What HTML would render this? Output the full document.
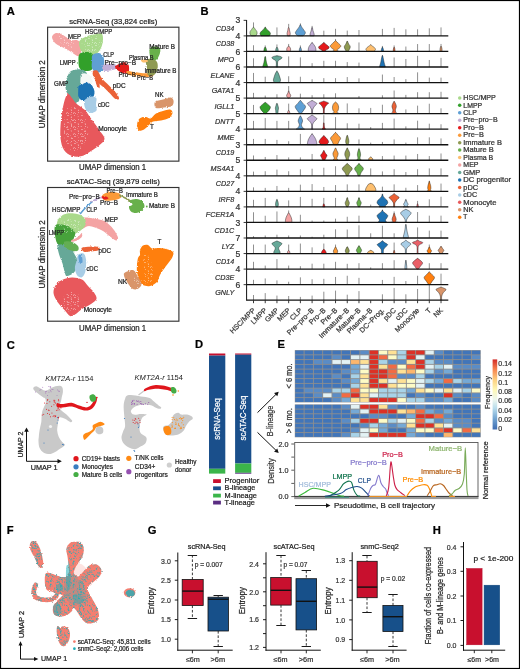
<!DOCTYPE html>
<html><head><meta charset="utf-8"><title>Figure</title>
<style>
html,body{margin:0;padding:0;background:#fff;}
body{width:520px;height:669px;overflow:hidden;}
svg{display:block;font-family:"Liberation Sans",sans-serif;will-change:transform;}
</style></head>
<body>
<svg width="520" height="669" viewBox="0 0 520 669">
<rect x="0" y="0" width="520" height="669" fill="#fff"/>
<text x="6.80" y="15.20" font-size="11.2" font-weight="bold" fill="#000" stroke="#000" stroke-width="0.22">A</text>
<text x="200.50" y="15.20" font-size="11.2" font-weight="bold" fill="#000" stroke="#000" stroke-width="0.22">B</text>
<text x="6.80" y="348.60" font-size="11.2" font-weight="bold" fill="#000" stroke="#000" stroke-width="0.22">C</text>
<text x="195.00" y="348.40" font-size="11.2" font-weight="bold" fill="#000" stroke="#000" stroke-width="0.22">D</text>
<text x="277.60" y="348.20" font-size="11.2" font-weight="bold" fill="#000" stroke="#000" stroke-width="0.22">E</text>
<text x="6.80" y="533.80" font-size="11.2" font-weight="bold" fill="#000" stroke="#000" stroke-width="0.22">F</text>
<text x="147.80" y="533.80" font-size="11.2" font-weight="bold" fill="#000" stroke="#000" stroke-width="0.22">G</text>
<text x="432.80" y="533.80" font-size="11.2" font-weight="bold" fill="#000" stroke="#000" stroke-width="0.22">H</text>
<text x="113.20" y="23.80" font-size="7.6" text-anchor="middle" textLength="88.00" lengthAdjust="spacingAndGlyphs" fill="#222" stroke="#222" stroke-width="0.22">scRNA-Seq (33,824 cells)</text>
<rect x="47.6" y="27.2" width="131.3" height="133.95" fill="none" stroke="#333" stroke-width="1.15"/>
<text x="112.60" y="170.00" font-size="8.8" text-anchor="middle" textLength="67.20" lengthAdjust="spacingAndGlyphs" fill="#222" stroke="#222" stroke-width="0.22">UMAP dimension 1</text>
<text x="44.60" y="94.20" font-size="8.8" text-anchor="middle" textLength="68.00" lengthAdjust="spacingAndGlyphs" fill="#222" stroke="#222" stroke-width="0.22" transform="rotate(-90 44.60 94.20)">UMAP dimension 2</text>
<defs><filter id="rough" x="-10%" y="-10%" width="120%" height="120%"><feTurbulence type="fractalNoise" baseFrequency="0.8" numOctaves="2" seed="4" result="n"/><feDisplacementMap in="SourceGraphic" in2="n" scale="2.4" xChannelSelector="R" yChannelSelector="G"/></filter></defs>
<defs><pattern id="ws" width="7" height="7" patternUnits="userSpaceOnUse"><circle cx="1.15" cy="4.83" r="0.42" fill="#fff"/><circle cx="4.44" cy="3.35" r="0.42" fill="#fff"/><circle cx="1.51" cy="5.55" r="0.42" fill="#fff"/><circle cx="5.65" cy="3.59" r="0.42" fill="#fff"/><circle cx="3.54" cy="1.65" r="0.42" fill="#fff"/><circle cx="0.02" cy="2.60" r="0.42" fill="#fff"/><circle cx="4.10" cy="0.48" r="0.42" fill="#fff"/><circle cx="5.56" cy="1.63" r="0.42" fill="#fff"/><circle cx="1.63" cy="0.30" r="0.42" fill="#fff"/></pattern></defs>
<g filter="url(#rough)">
<path d="M52.0,37.0 C52.0,35.4 53.7,34.0 55.0,33.4 C56.3,32.8 58.2,33.0 60.0,33.6 C61.8,34.2 64.2,35.9 66.0,37.0 C67.8,38.1 69.3,39.5 71.0,40.0 C72.7,40.5 74.4,39.6 76.0,40.0 C77.6,40.4 79.6,40.8 80.5,42.5 C81.4,44.2 81.8,47.8 81.5,50.0 C81.2,52.2 80.2,55.3 79.0,56.0 C77.8,56.7 75.8,55.0 74.0,54.0 C72.2,53.0 70.2,51.2 68.0,50.0 C65.8,48.8 63.2,47.7 61.0,46.5 C58.8,45.3 56.5,44.6 55.0,43.0 C53.5,41.4 52.0,38.6 52.0,37.0Z" fill="#f4a3a3"/>
<path d="M79.5,41.0 C80.5,39.1 83.6,37.6 86.0,36.5 C88.4,35.4 91.4,35.0 94.0,34.5 C96.6,34.0 100.0,32.6 101.5,33.5 C103.0,34.4 103.1,37.6 103.0,40.0 C102.9,42.4 102.0,45.8 101.0,48.0 C100.0,50.2 98.8,52.0 97.0,53.5 C95.2,55.0 92.2,56.9 90.0,57.0 C87.8,57.1 85.7,55.5 84.0,54.0 C82.3,52.5 80.8,50.2 80.0,48.0 C79.2,45.8 78.5,42.9 79.5,41.0Z" fill="#a9d98b"/>
<path d="M79.5,54.0 C80.8,52.5 83.8,52.0 86.0,52.0 C88.2,52.0 91.2,52.3 92.5,54.0 C93.8,55.7 93.6,59.4 93.5,62.0 C93.4,64.6 93.4,68.0 92.0,69.5 C90.6,71.0 87.1,71.2 85.0,71.0 C82.9,70.8 80.6,69.7 79.5,68.0 C78.4,66.3 78.5,63.3 78.5,61.0 C78.5,58.7 78.2,55.5 79.5,54.0Z" fill="#33a02c"/>
<path d="M92.5,55.0 C93.7,53.7 97.2,52.7 99.0,53.0 C100.8,53.3 102.7,55.0 103.5,57.0 C104.3,59.0 104.2,62.7 104.0,65.0 C103.8,67.3 103.3,69.8 102.0,71.0 C100.7,72.2 97.7,73.0 96.0,72.5 C94.3,72.0 92.7,69.9 92.0,68.0 C91.3,66.1 91.9,63.2 92.0,61.0 C92.1,58.8 91.3,56.3 92.5,55.0Z" fill="#5e9fd4"/>
<path d="M73.0,70.3 C75.0,69.8 79.2,69.0 81.5,69.5 C83.8,70.0 86.5,71.9 87.0,73.5 C87.5,75.1 85.7,77.2 84.6,79.0 C83.5,80.8 81.3,82.2 80.4,84.3 C79.5,86.4 79.5,89.1 79.3,91.7 C79.1,94.3 79.8,98.0 79.3,100.0 C78.8,102.0 77.2,103.2 76.2,103.4 C75.2,103.6 74.1,102.5 73.0,101.3 C71.9,100.1 70.9,98.1 69.8,96.5 C68.7,94.9 67.1,93.7 66.4,91.7 C65.7,89.7 65.3,86.7 65.4,84.3 C65.5,81.9 66.3,79.5 67.0,77.5 C67.7,75.5 68.6,73.7 69.6,72.5 C70.6,71.3 71.0,70.8 73.0,70.3Z" fill="#66a898"/>
<path d="M79.3,85.4 C80.7,84.0 84.6,82.2 86.7,82.2 C88.8,82.2 90.7,83.8 92.0,85.4 C93.3,87.0 94.3,89.8 94.5,91.7 C94.7,93.6 94.0,95.7 93.3,97.0 C92.5,98.3 91.8,98.8 90.0,99.4 C88.2,100.0 84.4,100.8 82.5,100.4 C80.6,100.0 79.3,98.6 78.6,97.0 C77.9,95.4 78.1,92.6 78.2,90.7 C78.3,88.8 77.9,86.8 79.3,85.4Z" fill="#1f73b4"/>
<path d="M84.6,100.2 C85.7,98.7 89.0,96.8 91.0,96.5 C93.0,96.2 95.5,96.8 96.3,98.1 C97.1,99.4 96.0,102.3 96.0,104.4 C96.0,106.5 97.3,109.2 96.5,110.6 C95.7,112.0 92.6,113.0 91.0,113.0 C89.4,113.0 87.8,112.0 86.7,110.8 C85.6,109.5 84.8,107.3 84.4,105.5 C84.1,103.7 83.5,101.7 84.6,100.2Z" fill="#a8cde6"/>
<path d="M67.7,93.9 C69.0,93.2 70.6,96.4 72.0,98.0 C73.4,99.6 74.1,101.5 76.2,103.4 C78.3,105.4 82.3,107.4 84.6,109.7 C86.9,112.0 88.3,114.6 90.0,117.0 C91.7,119.4 93.3,121.7 95.0,124.0 C96.7,126.3 98.4,128.5 100.0,131.0 C101.6,133.5 104.7,136.6 104.5,139.0 C104.3,141.4 101.2,143.5 99.0,145.5 C96.8,147.5 93.8,149.2 91.0,151.0 C88.2,152.8 85.2,155.2 82.0,156.0 C78.8,156.8 75.0,157.0 72.0,156.0 C69.0,155.0 65.9,153.0 64.0,150.0 C62.1,147.0 61.0,143.0 60.5,138.0 C60.0,133.0 60.4,125.9 61.0,120.0 C61.6,114.1 62.9,106.8 64.0,102.5 C65.1,98.2 66.4,94.7 67.7,93.9Z" fill="#e8595c"/>
<path d="M81.5,74.0 C82.6,73.0 85.2,73.1 87.0,73.8 C88.8,74.5 91.2,76.3 92.0,78.0 C92.8,79.7 92.9,83.3 92.0,84.0 C91.1,84.7 88.5,82.1 86.7,82.2 C84.9,82.3 82.0,84.9 81.0,84.5 C80.0,84.1 80.3,81.8 80.4,80.0 C80.5,78.2 80.4,75.0 81.5,74.0Z" fill="#f4f8f6"/>
<path d="M93.0,71.0 C93.7,70.2 95.9,70.0 97.0,70.5 C98.1,71.0 98.7,72.7 99.5,74.0 C100.3,75.3 100.8,76.9 102.0,78.5 C103.2,80.1 105.2,81.8 107.0,83.5 C108.8,85.2 110.7,87.0 112.5,89.0 C114.3,91.0 117.0,93.8 118.0,95.5 C119.0,97.2 119.3,98.7 118.8,99.2 C118.3,99.8 116.5,99.8 115.0,98.8 C113.5,97.8 111.8,95.3 110.0,93.5 C108.2,91.7 106.2,89.6 104.5,88.0 C102.8,86.4 101.0,85.3 99.5,84.0 C98.0,82.7 96.6,81.4 95.5,80.0 C94.4,78.6 93.4,77.0 93.0,75.5 C92.6,74.0 92.3,71.8 93.0,71.0Z" fill="#eb6237"/>
<path d="M95.5,80.0 C95.8,79.3 98.3,80.7 99.0,82.0 C99.7,83.3 99.8,87.3 99.5,88.0 C99.2,88.7 97.7,87.3 97.0,86.0 C96.3,84.7 95.2,80.7 95.5,80.0Z" fill="#eb6237"/>
<path d="M102.5,65.5 C103.4,64.4 106.8,64.2 109.0,64.0 C111.2,63.8 114.2,63.8 115.5,64.5 C116.8,65.2 117.4,67.5 116.5,68.5 C115.6,69.5 112.2,70.2 110.0,70.5 C107.8,70.8 104.8,71.3 103.5,70.5 C102.2,69.7 101.6,66.6 102.5,65.5Z" fill="#c2aed6"/>
<path d="M115.0,67.0 C115.3,65.8 118.3,64.3 120.0,63.5 C121.7,62.7 123.6,62.0 125.0,62.3 C126.4,62.5 128.0,63.4 128.6,65.0 C129.2,66.6 129.4,70.6 128.6,72.0 C127.8,73.4 125.8,73.8 124.0,73.6 C122.2,73.3 119.5,71.6 118.0,70.5 C116.5,69.4 114.7,68.2 115.0,67.0Z" fill="#e41a1c"/>
<path d="M127.0,71.0 C128.3,70.7 132.3,71.6 135.0,72.0 C137.7,72.4 140.5,73.0 143.0,73.2 C145.5,73.4 148.2,72.9 150.0,73.3 C151.8,73.7 153.8,74.9 153.5,75.5 C153.2,76.1 150.2,76.8 148.0,77.0 C145.8,77.2 142.7,76.8 140.0,76.5 C137.3,76.2 134.2,75.9 132.0,75.5 C129.8,75.1 127.8,74.8 127.0,74.0 C126.2,73.2 125.7,71.3 127.0,71.0Z" fill="#fb9a38"/>
<path d="M146.0,60.5 C146.8,58.9 150.2,58.2 152.0,58.5 C153.8,58.8 156.1,60.2 157.0,62.0 C157.9,63.8 158.0,66.8 157.5,69.0 C157.0,71.2 155.6,74.0 154.0,75.0 C152.4,76.0 149.2,76.2 148.0,75.0 C146.8,73.8 147.3,70.4 147.0,68.0 C146.7,65.6 145.2,62.1 146.0,60.5Z" fill="#8f9a52"/>
<path d="M150.0,48.5 C150.9,47.4 153.3,46.5 155.0,46.5 C156.7,46.5 159.2,47.2 160.0,48.5 C160.8,49.8 160.2,52.6 159.5,54.5 C158.8,56.4 157.4,59.3 156.0,60.0 C154.6,60.7 152.1,59.7 151.0,58.5 C149.9,57.3 149.7,54.7 149.5,53.0 C149.3,51.3 149.1,49.6 150.0,48.5Z" fill="#67b04b"/>
<path d="M141.0,60.0 C141.5,59.5 144.8,59.2 146.0,59.5 C147.2,59.8 148.5,61.0 148.0,61.5 C147.5,62.0 144.2,62.8 143.0,62.5 C141.8,62.2 140.5,60.5 141.0,60.0Z" fill="#fdbf6f"/>
<path d="M67.0,110.0 C69.0,106.3 73.0,106.7 76.0,108.0 C79.0,109.3 83.0,113.5 85.0,118.0 C87.0,122.5 88.8,129.7 88.0,135.0 C87.2,140.3 83.3,147.8 80.0,150.0 C76.7,152.2 70.7,151.3 68.0,148.0 C65.3,144.7 64.2,136.3 64.0,130.0 C63.8,123.7 65.0,113.7 67.0,110.0Z" fill="url(#ws)"/>
<path d="M84.0,38.0 C86.0,36.0 93.3,34.7 96.0,36.0 C98.7,37.3 100.7,43.3 100.0,46.0 C99.3,48.7 94.7,51.7 92.0,52.0 C89.3,52.3 85.3,50.3 84.0,48.0 C82.7,45.7 82.0,40.0 84.0,38.0Z" fill="url(#ws)"/>
<path d="M58.0,36.0 C59.0,35.3 63.3,36.7 66.0,38.0 C68.7,39.3 73.3,42.3 74.0,44.0 C74.7,45.7 72.3,48.3 70.0,48.0 C67.7,47.7 62.0,44.0 60.0,42.0 C58.0,40.0 57.0,36.7 58.0,36.0Z" fill="url(#ws)"/>
<path d="M155.0,102.0 C156.2,100.6 160.4,100.2 163.0,99.5 C165.6,98.8 168.8,97.3 170.5,97.5 C172.2,97.7 173.2,99.1 173.5,100.5 C173.8,101.9 173.6,104.8 172.0,106.0 C170.4,107.2 166.7,107.2 164.0,107.5 C161.3,107.8 157.5,108.9 156.0,108.0 C154.5,107.1 153.8,103.4 155.0,102.0Z" fill="#d9956a"/>
<path d="M140.5,118.0 C141.8,117.3 144.3,116.9 146.0,117.0 C147.7,117.1 148.8,119.1 150.5,118.5 C152.2,117.9 153.9,114.8 156.0,113.5 C158.1,112.2 160.7,111.7 163.0,111.0 C165.3,110.3 168.4,109.2 170.0,109.5 C171.6,109.8 172.7,111.6 172.5,113.0 C172.3,114.4 170.9,116.8 169.0,118.0 C167.1,119.2 163.7,119.9 161.0,120.5 C158.3,121.1 155.0,120.8 153.0,121.5 C151.0,122.2 150.5,123.7 149.0,125.0 C147.5,126.3 145.7,128.6 144.0,129.5 C142.3,130.4 140.2,131.1 139.0,130.5 C137.8,129.9 137.2,127.6 137.0,126.0 C136.8,124.4 137.4,122.3 138.0,121.0 C138.6,119.7 139.2,118.7 140.5,118.0Z" fill="#ff7f0e"/>
</g>
<text x="67.90" y="38.80" font-size="6.3" textLength="13.10" lengthAdjust="spacingAndGlyphs" fill="#222" stroke="#222" stroke-width="0.22">MEP</text>
<text x="85.00" y="33.70" font-size="6.3" textLength="27.20" lengthAdjust="spacingAndGlyphs" fill="#222" stroke="#222" stroke-width="0.22">HSC/MPP</text>
<text x="59.80" y="64.70" font-size="6.3" textLength="15.80" lengthAdjust="spacingAndGlyphs" fill="#222" stroke="#222" stroke-width="0.22">LMPP</text>
<text x="54.10" y="86.20" font-size="6.3" textLength="14.10" lengthAdjust="spacingAndGlyphs" fill="#222" stroke="#222" stroke-width="0.22">GMP</text>
<text x="103.20" y="57.30" font-size="6.3" textLength="10.80" lengthAdjust="spacingAndGlyphs" fill="#222" stroke="#222" stroke-width="0.22">CLP</text>
<text x="104.40" y="65.30" font-size="6.3" textLength="31.80" lengthAdjust="spacingAndGlyphs" fill="#222" stroke="#222" stroke-width="0.22">Pre−pro−B</text>
<text x="118.50" y="76.70" font-size="6.3" textLength="17.30" lengthAdjust="spacingAndGlyphs" fill="#222" stroke="#222" stroke-width="0.22">Pro−B</text>
<text x="137.10" y="80.00" font-size="6.3" textLength="16.00" lengthAdjust="spacingAndGlyphs" fill="#222" stroke="#222" stroke-width="0.22">Pre−B</text>
<text x="144.40" y="72.90" font-size="6.3" textLength="32.10" lengthAdjust="spacingAndGlyphs" fill="#222" stroke="#222" stroke-width="0.22">Immature B</text>
<text x="129.00" y="59.80" font-size="6.3" textLength="24.50" lengthAdjust="spacingAndGlyphs" fill="#222" stroke="#222" stroke-width="0.22">Plasma B</text>
<text x="149.20" y="48.80" font-size="6.3" textLength="25.80" lengthAdjust="spacingAndGlyphs" fill="#222" stroke="#222" stroke-width="0.22">Mature B</text>
<text x="112.70" y="88.30" font-size="6.3" textLength="12.90" lengthAdjust="spacingAndGlyphs" fill="#222" stroke="#222" stroke-width="0.22">pDC</text>
<text x="98.10" y="106.50" font-size="6.3" textLength="11.50" lengthAdjust="spacingAndGlyphs" fill="#222" stroke="#222" stroke-width="0.22">cDC</text>
<text x="98.30" y="131.00" font-size="6.3" textLength="28.60" lengthAdjust="spacingAndGlyphs" fill="#222" stroke="#222" stroke-width="0.22">Monocyte</text>
<text x="155.00" y="97.30" font-size="6.3" textLength="8.50" lengthAdjust="spacingAndGlyphs" fill="#222" stroke="#222" stroke-width="0.22">NK</text>
<text x="150.10" y="128.70" font-size="6.3" fill="#222" stroke="#222" stroke-width="0.22">T</text>
<text x="113.25" y="184.20" font-size="7.6" text-anchor="middle" textLength="93.10" lengthAdjust="spacingAndGlyphs" fill="#222" stroke="#222" stroke-width="0.22">scATAC-Seq (39,879 cells)</text>
<rect x="47.6" y="187.5" width="131.3" height="133.7" fill="none" stroke="#333" stroke-width="1.15"/>
<text x="112.60" y="330.50" font-size="8.8" text-anchor="middle" textLength="67.20" lengthAdjust="spacingAndGlyphs" fill="#222" stroke="#222" stroke-width="0.22">UMAP dimension 1</text>
<text x="44.60" y="254.40" font-size="8.8" text-anchor="middle" textLength="68.00" lengthAdjust="spacingAndGlyphs" fill="#222" stroke="#222" stroke-width="0.22" transform="rotate(-90 44.60 254.40)">UMAP dimension 2</text>
<g filter="url(#rough)">
<path d="M58.1,239.1 C59.2,238.0 62.0,238.3 64.0,238.5 C66.0,238.7 69.1,239.1 70.4,240.2 C71.7,241.3 71.4,242.9 72.0,245.0 C72.6,247.1 73.0,250.2 73.8,252.6 C74.6,255.0 76.5,257.1 77.1,259.3 C77.6,261.5 77.6,263.8 77.1,266.0 C76.5,268.2 75.5,271.0 73.8,272.7 C72.1,274.4 68.5,276.0 67.0,276.0 C65.5,276.0 65.5,274.7 64.8,272.7 C64.1,270.7 63.5,266.8 62.6,263.8 C61.7,260.8 60.1,257.9 59.2,254.8 C58.3,251.7 57.4,247.6 57.2,245.0 C57.0,242.4 57.0,240.2 58.1,239.1Z" fill="#66a898"/>
<path d="M80.5,219.0 C81.7,217.6 83.6,217.6 86.0,217.6 C88.4,217.6 92.2,218.3 95.0,218.8 C97.8,219.3 100.7,219.6 103.0,220.5 C105.3,221.4 107.2,222.9 109.0,224.5 C110.8,226.1 112.5,227.8 114.0,230.0 C115.5,232.2 117.7,235.8 118.0,237.5 C118.3,239.2 117.3,240.7 116.0,240.5 C114.7,240.3 112.2,238.1 110.0,236.5 C107.8,234.9 105.5,232.5 103.0,231.0 C100.5,229.5 97.5,228.3 95.0,227.5 C92.5,226.7 90.3,225.8 88.3,226.0 C86.2,226.2 84.2,228.5 82.7,228.5 C81.2,228.5 79.4,227.6 79.0,226.0 C78.6,224.4 79.3,220.4 80.5,219.0Z" fill="#f4a3a3"/>
<path d="M57.5,221.0 C58.2,218.4 59.6,217.7 61.0,216.5 C62.4,215.3 63.8,214.3 66.0,213.8 C68.2,213.3 71.4,213.2 74.0,213.5 C76.6,213.8 79.6,214.4 81.5,215.5 C83.4,216.6 84.9,218.2 85.5,220.0 C86.1,221.8 85.9,224.2 85.0,226.0 C84.1,227.8 82.2,229.5 80.0,231.0 C77.8,232.5 74.8,234.0 72.0,235.0 C69.2,236.0 65.6,237.5 63.0,237.0 C60.4,236.5 57.4,234.7 56.5,232.0 C55.6,229.3 56.8,223.6 57.5,221.0Z" fill="#a9d98b"/>
<path d="M55.0,226.0 C56.1,223.8 59.5,224.2 62.0,224.5 C64.5,224.8 67.8,226.2 70.0,227.5 C72.2,228.8 74.3,230.2 75.0,232.0 C75.7,233.8 74.8,236.3 74.0,238.0 C73.2,239.7 71.7,241.0 70.0,242.0 C68.3,243.0 66.0,243.7 64.0,244.0 C62.0,244.3 59.4,245.0 58.0,244.0 C56.6,243.0 56.0,241.0 55.5,238.0 C55.0,235.0 53.9,228.2 55.0,226.0Z" fill="#47a23a"/>
<path d="M64.0,242.0 C65.0,241.0 69.7,241.3 72.0,242.0 C74.3,242.7 77.0,244.6 78.0,246.0 C79.0,247.4 78.8,249.7 78.0,250.5 C77.2,251.3 75.0,251.4 73.0,251.0 C71.0,250.6 67.5,249.5 66.0,248.0 C64.5,246.5 63.0,243.0 64.0,242.0Z" fill="#64ae52"/>
<path d="M71.5,240.0 C72.0,239.5 73.8,239.5 75.0,238.8 C76.2,238.1 77.9,237.0 79.0,236.0 C80.1,235.0 81.3,232.9 81.8,233.0 C82.3,233.1 82.6,235.3 82.0,236.5 C81.4,237.7 79.7,239.1 78.0,240.0 C76.3,240.9 73.1,241.8 72.0,241.8 C70.9,241.8 71.0,240.5 71.5,240.0Z" fill="#f4a3a3"/>
<path d="M81.6,248.0 C82.3,247.2 85.2,247.0 88.0,246.8 C90.8,246.6 96.6,246.2 98.4,246.8 C100.2,247.4 100.0,249.5 98.6,250.3 C97.2,251.1 92.4,251.3 90.0,251.6 C87.6,251.8 85.4,252.4 84.0,251.8 C82.6,251.2 80.9,248.8 81.6,248.0Z" fill="#eb6237"/>
<path d="M78.2,254.8 C79.4,253.6 82.5,252.9 83.8,253.7 C85.1,254.4 85.6,257.2 86.0,259.3 C86.4,261.4 86.2,263.8 86.0,266.0 C85.8,268.2 85.7,270.8 85.0,272.7 C84.3,274.6 82.9,277.0 81.6,277.4 C80.3,277.8 78.2,276.7 77.1,275.2 C76.0,273.7 75.0,270.6 74.9,268.2 C74.8,265.8 76.0,263.2 76.5,261.0 C77.0,258.8 77.0,256.0 78.2,254.8Z" fill="#a8cde6"/>
<path d="M78.5,256.0 C78.8,254.7 80.8,254.5 81.5,255.5 C82.2,256.5 82.8,260.7 82.5,262.0 C82.2,263.3 80.7,264.5 80.0,263.5 C79.3,262.5 78.2,257.3 78.5,256.0Z" fill="#5e9fd4"/>
<path d="M62.0,280.0 C64.7,278.8 68.7,277.6 72.0,277.5 C75.3,277.4 79.3,278.1 82.0,279.5 C84.7,280.9 86.0,283.8 88.0,286.0 C90.0,288.2 92.6,290.3 94.0,292.5 C95.4,294.7 97.0,297.1 96.5,299.0 C96.0,300.9 93.4,302.3 91.0,304.0 C88.6,305.7 84.7,307.2 82.0,309.0 C79.3,310.8 77.0,313.3 75.0,314.5 C73.0,315.7 71.8,316.8 70.0,316.0 C68.2,315.2 66.6,312.3 64.5,310.0 C62.4,307.7 59.3,304.8 57.5,302.0 C55.7,299.2 53.8,295.9 53.5,293.0 C53.2,290.1 54.6,286.7 56.0,284.5 C57.4,282.3 59.3,281.2 62.0,280.0Z" fill="#e8595c"/>
<path d="M80.5,213.5 L86,207 L92.5,201.5" stroke="#5e9fd4" stroke-width="1.6" fill="none" stroke-linecap="round"/>
<path d="M92,201.5 L97,198.8 L101,197.5" stroke="#c2aed6" stroke-width="1.6" fill="none" stroke-linecap="round"/>
<path d="M102.0,196.0 C102.2,194.8 104.2,193.7 106.0,193.0 C107.8,192.3 110.8,191.9 113.0,192.0 C115.2,192.1 118.2,192.6 119.5,193.5 C120.8,194.4 121.8,196.4 121.0,197.5 C120.2,198.6 117.7,199.5 115.0,200.0 C112.3,200.5 107.2,201.2 105.0,200.5 C102.8,199.8 101.8,197.2 102.0,196.0Z" fill="#fb9a38"/>
<path d="M101.5,196.5 C101.8,196.0 104.8,196.2 106.0,196.5 C107.2,196.8 108.8,198.0 108.5,198.5 C108.2,199.0 105.2,199.8 104.0,199.5 C102.8,199.2 101.2,197.0 101.5,196.5Z" fill="#e41a1c"/>
<path d="M120,195.5 Q126,198 131,201.5" stroke="#8f9a52" stroke-width="1.8" fill="none" stroke-linecap="round"/>
<path d="M130.0,200.5 C130.7,199.6 134.4,198.8 136.5,199.0 C138.6,199.2 141.2,200.2 142.5,201.5 C143.8,202.8 144.7,204.9 144.5,206.5 C144.3,208.1 142.9,209.9 141.5,211.0 C140.1,212.1 137.8,212.9 136.0,213.0 C134.2,213.1 132.2,212.5 131.0,211.5 C129.8,210.5 128.8,208.2 129.0,207.0 C129.2,205.8 132.3,205.6 132.5,204.5 C132.7,203.4 129.3,201.4 130.0,200.5Z" fill="#67b04b"/>
<circle cx="146.80" cy="206.50" r="0.90" fill="#67b04b"/>
<path d="M140.0,250.0 C140.5,248.4 141.7,246.3 143.0,245.5 C144.3,244.7 146.5,244.5 148.0,245.0 C149.5,245.5 150.3,248.0 152.0,248.5 C153.7,249.0 155.7,247.9 158.0,248.0 C160.3,248.1 163.5,248.3 166.0,249.0 C168.5,249.7 172.0,250.5 173.0,252.0 C174.0,253.5 173.2,255.7 172.0,258.0 C170.8,260.3 168.0,263.2 166.0,266.0 C164.0,268.8 161.5,272.3 160.0,275.0 C158.5,277.7 158.7,280.2 157.0,282.0 C155.3,283.8 152.3,285.5 150.0,286.0 C147.7,286.5 144.8,286.0 143.0,285.0 C141.2,284.0 140.0,282.2 139.0,280.0 C138.0,277.8 137.3,274.5 137.0,272.0 C136.7,269.5 136.8,267.3 137.0,265.0 C137.2,262.7 137.5,259.7 138.0,258.0 C138.5,256.3 139.7,256.3 140.0,255.0 C140.3,253.7 139.5,251.6 140.0,250.0Z" fill="#ff7f0e"/>
<path d="M125.0,272.5 C126.5,271.6 131.0,269.6 133.0,270.0 C135.0,270.4 135.6,272.7 137.0,275.0 C138.4,277.3 141.4,281.7 141.5,284.0 C141.6,286.3 139.1,288.2 137.5,289.0 C135.9,289.8 133.8,289.8 132.0,288.5 C130.2,287.2 127.8,283.2 126.5,281.0 C125.2,278.8 124.2,276.9 124.0,275.5 C123.8,274.1 123.5,273.4 125.0,272.5Z" fill="#d9956a"/>
<path d="M143.0,256.0 C143.6,254.8 145.7,254.0 147.0,255.0 C148.3,256.0 150.0,259.2 151.0,262.0 C152.0,264.8 152.8,268.8 153.0,272.0 C153.2,275.2 153.0,279.0 152.0,281.0 C151.0,283.0 148.5,284.2 147.0,284.0 C145.5,283.8 143.3,282.3 143.0,280.0 C142.7,277.7 144.9,273.0 145.0,270.0 C145.1,267.0 143.8,264.3 143.5,262.0 C143.2,259.7 142.4,257.2 143.0,256.0Z" fill="url(#ws)"/>
<path d="M134.0,278.0 C134.7,276.5 137.7,275.2 139.0,276.0 C140.3,276.8 142.0,281.2 142.0,283.0 C142.0,284.8 140.2,286.7 139.0,287.0 C137.8,287.3 135.8,286.5 135.0,285.0 C134.2,283.5 133.3,279.5 134.0,278.0Z" fill="url(#ws)"/>
<path d="M60.0,222.0 C61.7,219.8 66.7,219.0 70.0,219.0 C73.3,219.0 78.7,220.2 80.0,222.0 C81.3,223.8 80.0,228.2 78.0,230.0 C76.0,231.8 71.0,232.7 68.0,233.0 C65.0,233.3 61.3,233.8 60.0,232.0 C58.7,230.2 58.3,224.2 60.0,222.0Z" fill="url(#ws)"/>
<path d="M64.0,296.0 C65.3,293.7 69.3,291.8 72.0,292.0 C74.7,292.2 79.0,294.3 80.0,297.0 C81.0,299.7 79.7,305.5 78.0,308.0 C76.3,310.5 72.3,312.3 70.0,312.0 C67.7,311.7 65.0,308.7 64.0,306.0 C63.0,303.3 62.7,298.3 64.0,296.0Z" fill="url(#ws)"/>
</g>
<text x="68.90" y="199.00" font-size="6.3" textLength="30.90" lengthAdjust="spacingAndGlyphs" fill="#222" stroke="#222" stroke-width="0.22">Pre−pro−B</text>
<text x="52.00" y="212.20" font-size="6.3" textLength="28.30" lengthAdjust="spacingAndGlyphs" fill="#222" stroke="#222" stroke-width="0.22">HSC/MPP</text>
<text x="86.40" y="212.20" font-size="6.3" textLength="10.70" lengthAdjust="spacingAndGlyphs" fill="#222" stroke="#222" stroke-width="0.22">CLP</text>
<text x="48.70" y="234.80" font-size="6.3" textLength="15.30" lengthAdjust="spacingAndGlyphs" fill="#222" stroke="#222" stroke-width="0.22">LMPP</text>
<text x="104.50" y="222.30" font-size="6.3" textLength="13.50" lengthAdjust="spacingAndGlyphs" fill="#222" stroke="#222" stroke-width="0.22">MEP</text>
<text x="106.40" y="192.80" font-size="6.3" textLength="16.40" lengthAdjust="spacingAndGlyphs" fill="#222" stroke="#222" stroke-width="0.22">Pre−B</text>
<text x="126.00" y="196.80" font-size="6.3" textLength="32.00" lengthAdjust="spacingAndGlyphs" fill="#222" stroke="#222" stroke-width="0.22">Immature B</text>
<text x="100.00" y="205.00" font-size="6.3" textLength="18.00" lengthAdjust="spacingAndGlyphs" fill="#222" stroke="#222" stroke-width="0.22">Pro−B</text>
<text x="149.00" y="208.20" font-size="6.3" textLength="26.00" lengthAdjust="spacingAndGlyphs" fill="#222" stroke="#222" stroke-width="0.22">Mature B</text>
<text x="98.50" y="253.30" font-size="6.3" textLength="12.50" lengthAdjust="spacingAndGlyphs" fill="#222" stroke="#222" stroke-width="0.22">pDC</text>
<text x="86.40" y="271.20" font-size="6.3" textLength="11.60" lengthAdjust="spacingAndGlyphs" fill="#222" stroke="#222" stroke-width="0.22">cDC</text>
<text x="83.70" y="311.80" font-size="6.3" textLength="28.30" lengthAdjust="spacingAndGlyphs" fill="#222" stroke="#222" stroke-width="0.22">Monocyte</text>
<text x="118.00" y="283.50" font-size="6.3" textLength="9.20" lengthAdjust="spacingAndGlyphs" fill="#222" stroke="#222" stroke-width="0.22">NK</text>
<text x="157.60" y="243.70" font-size="6.3" fill="#222" stroke="#222" stroke-width="0.22">T</text>
<text x="234.20" y="30.92" font-size="8.0" text-anchor="end" textLength="18.41" lengthAdjust="spacingAndGlyphs" font-style="italic" fill="#333" stroke="#333" stroke-width="0.22">CD34</text>
<text x="240.30" y="23.45" font-size="8.6" text-anchor="end" fill="#333" stroke="#333" stroke-width="0.22">3</text>
<line x1="243.60" y1="20.35" x2="246.60" y2="20.35" stroke="#222" stroke-width="0.9"/>
<line x1="253.50" y1="35.90" x2="253.50" y2="22.40" stroke="#333" stroke-width="0.55"/>
<path d="M255.70,35.90 C255.92,35.56 256.82,34.65 257.00,33.90 C257.18,33.15 257.08,32.15 256.80,31.40 C256.52,30.65 255.78,30.06 255.30,29.40 C254.82,28.73 254.27,27.73 253.90,27.40 C253.53,27.06 253.47,27.06 253.10,27.40 C252.73,27.73 252.18,28.73 251.70,29.40 C251.22,30.06 250.48,30.65 250.20,31.40 C249.92,32.15 249.82,33.15 250.00,33.90 C250.18,34.65 251.08,35.56 251.30,35.90Z" fill="#a9d98b" stroke="#222" stroke-width="0.45"/>
<line x1="265.22" y1="35.90" x2="265.22" y2="26.90" stroke="#333" stroke-width="0.55"/>
<path d="M269.42,35.90 C269.59,35.48 270.54,34.23 270.42,33.40 C270.30,32.56 269.39,31.65 268.72,30.90 C268.05,30.15 266.95,29.48 266.42,28.90 C265.89,28.31 265.77,27.65 265.52,27.40 C265.27,27.15 265.17,27.15 264.92,27.40 C264.67,27.65 264.55,28.31 264.02,28.90 C263.49,29.48 262.39,30.15 261.72,30.90 C261.05,31.65 260.14,32.56 260.02,33.40 C259.90,34.23 260.85,35.48 261.02,35.90Z" fill="#33a02c" stroke="#222" stroke-width="0.45"/>
<line x1="276.94" y1="35.90" x2="276.94" y2="27.40" stroke="#444" stroke-width="0.6"/>
<line x1="288.66" y1="35.90" x2="288.66" y2="23.90" stroke="#333" stroke-width="0.55"/>
<path d="M289.86,35.90 C289.93,35.48 290.29,34.23 290.26,33.40 C290.23,32.56 289.86,31.81 289.66,30.90 C289.46,29.98 289.29,28.40 289.06,27.90 C288.83,27.40 288.49,27.40 288.26,27.90 C288.03,28.40 287.86,29.98 287.66,30.90 C287.46,31.81 287.09,32.56 287.06,33.40 C287.03,34.23 287.39,35.48 287.46,35.90Z" fill="#f4a3a3" stroke="#222" stroke-width="0.45"/>
<line x1="300.38" y1="35.90" x2="300.38" y2="23.40" stroke="#333" stroke-width="0.55"/>
<path d="M303.18,35.90 C303.55,35.40 305.28,33.90 305.38,32.90 C305.48,31.90 304.41,30.90 303.78,29.90 C303.15,28.90 302.10,27.73 301.58,26.90 C301.06,26.06 300.93,25.23 300.68,24.90 C300.43,24.56 300.33,24.56 300.08,24.90 C299.83,25.23 299.70,26.06 299.18,26.90 C298.66,27.73 297.61,28.90 296.98,29.90 C296.35,30.90 295.28,31.90 295.38,32.90 C295.48,33.90 297.21,35.40 297.58,35.90Z" fill="#5e9fd4" stroke="#222" stroke-width="0.45"/>
<line x1="312.10" y1="35.90" x2="312.10" y2="25.90" stroke="#333" stroke-width="0.55"/>
<path d="M314.10,35.90 C314.10,35.56 314.27,34.73 314.10,33.90 C313.93,33.06 313.38,31.90 313.10,30.90 C312.82,29.90 312.62,28.40 312.40,27.90 C312.18,27.40 312.02,27.40 311.80,27.90 C311.58,28.40 311.38,29.90 311.10,30.90 C310.82,31.90 310.27,33.06 310.10,33.90 C309.93,34.73 310.10,35.56 310.10,35.90Z" fill="#c2aed6" stroke="#222" stroke-width="0.45"/>
<line x1="323.82" y1="35.90" x2="323.82" y2="30.70" stroke="#444" stroke-width="0.6"/>
<line x1="335.54" y1="35.90" x2="335.54" y2="28.80" stroke="#444" stroke-width="0.6"/>
<line x1="347.26" y1="35.90" x2="347.26" y2="30.60" stroke="#444" stroke-width="0.6"/>
<line x1="358.98" y1="35.90" x2="358.98" y2="30.00" stroke="#444" stroke-width="0.6"/>
<line x1="382.42" y1="35.90" x2="382.42" y2="28.90" stroke="#444" stroke-width="0.6"/>
<line x1="394.14" y1="35.90" x2="394.14" y2="27.90" stroke="#444" stroke-width="0.6"/>
<line x1="405.86" y1="35.90" x2="405.86" y2="29.30" stroke="#444" stroke-width="0.6"/>
<line x1="417.58" y1="35.90" x2="417.58" y2="29.30" stroke="#444" stroke-width="0.6"/>
<line x1="429.30" y1="35.90" x2="429.30" y2="28.30" stroke="#444" stroke-width="0.6"/>
<line x1="441.02" y1="35.90" x2="441.02" y2="27.40" stroke="#444" stroke-width="0.6"/>
<line x1="246.60" y1="35.90" x2="448.30" y2="35.90" stroke="#111" stroke-width="1.3"/>
<text x="234.20" y="46.47" font-size="8.0" text-anchor="end" textLength="18.41" lengthAdjust="spacingAndGlyphs" font-style="italic" fill="#333" stroke="#333" stroke-width="0.22">CD38</text>
<text x="240.30" y="39.00" font-size="8.6" text-anchor="end" fill="#333" stroke="#333" stroke-width="0.22">4</text>
<line x1="243.60" y1="35.90" x2="246.60" y2="35.90" stroke="#222" stroke-width="0.9"/>
<line x1="253.50" y1="51.44" x2="253.50" y2="45.24" stroke="#444" stroke-width="0.6"/>
<line x1="265.22" y1="51.44" x2="265.22" y2="45.44" stroke="#333" stroke-width="0.55"/>
<path d="M266.72,51.44 C266.67,51.11 266.59,50.11 266.42,49.44 C266.25,48.78 266.00,47.78 265.72,47.44 C265.44,47.11 265.00,47.11 264.72,47.44 C264.44,47.78 264.19,48.78 264.02,49.44 C263.85,50.11 263.77,51.11 263.72,51.44Z" fill="#33a02c" stroke="#222" stroke-width="0.45"/>
<line x1="276.94" y1="51.44" x2="276.94" y2="44.44" stroke="#333" stroke-width="0.55"/>
<path d="M278.14,51.44 C278.14,51.11 278.27,50.11 278.14,49.44 C278.01,48.78 277.61,47.78 277.34,47.44 C277.07,47.11 276.81,47.11 276.54,47.44 C276.27,47.78 275.87,48.78 275.74,49.44 C275.61,50.11 275.74,51.11 275.74,51.44Z" fill="#66a898" stroke="#222" stroke-width="0.45"/>
<line x1="288.66" y1="51.44" x2="288.66" y2="43.94" stroke="#333" stroke-width="0.55"/>
<path d="M290.26,51.44 C290.33,51.03 290.83,49.78 290.66,48.94 C290.49,48.11 289.69,46.86 289.26,46.44 C288.83,46.03 288.49,46.03 288.06,46.44 C287.63,46.86 286.83,48.11 286.66,48.94 C286.49,49.78 286.99,51.03 287.06,51.44Z" fill="#f4a3a3" stroke="#222" stroke-width="0.45"/>
<line x1="300.38" y1="51.44" x2="300.38" y2="45.44" stroke="#333" stroke-width="0.55"/>
<path d="M301.38,51.44 C301.38,51.11 301.50,50.11 301.38,49.44 C301.26,48.78 300.90,47.78 300.68,47.44 C300.46,47.11 300.30,47.11 300.08,47.44 C299.86,47.78 299.50,48.78 299.38,49.44 C299.26,50.11 299.38,51.11 299.38,51.44Z" fill="#5e9fd4" stroke="#222" stroke-width="0.45"/>
<line x1="312.10" y1="51.44" x2="312.10" y2="41.94" stroke="#333" stroke-width="0.55"/>
<path d="M315.90,51.44 C315.90,51.03 316.03,49.78 315.90,48.94 C315.77,48.11 315.47,47.19 315.10,46.44 C314.73,45.69 314.13,45.03 313.70,44.44 C313.27,43.86 312.83,43.19 312.50,42.94 C312.17,42.69 312.03,42.69 311.70,42.94 C311.37,43.19 310.93,43.86 310.50,44.44 C310.07,45.03 309.47,45.69 309.10,46.44 C308.73,47.19 308.43,48.11 308.30,48.94 C308.17,49.78 308.30,51.03 308.30,51.44Z" fill="#c2aed6" stroke="#222" stroke-width="0.45"/>
<line x1="323.82" y1="51.44" x2="323.82" y2="41.94" stroke="#333" stroke-width="0.55"/>
<path d="M326.82,51.44 C326.59,51.24 325.15,50.71 325.42,50.24 C325.69,49.78 327.82,49.19 328.42,48.64 C329.02,48.09 329.29,47.56 329.02,46.94 C328.75,46.33 327.60,45.61 326.82,44.94 C326.04,44.28 324.90,43.28 324.32,42.94 C323.74,42.61 323.90,42.61 323.32,42.94 C322.74,43.28 321.60,44.28 320.82,44.94 C320.04,45.61 318.89,46.33 318.62,46.94 C318.35,47.56 318.62,48.09 319.22,48.64 C319.82,49.19 321.95,49.78 322.22,50.24 C322.49,50.71 321.05,51.24 320.82,51.44Z" fill="#e41a1c" stroke="#222" stroke-width="0.45"/>
<line x1="335.54" y1="51.44" x2="335.54" y2="38.94" stroke="#333" stroke-width="0.55"/>
<path d="M338.74,51.44 C338.44,51.19 336.87,50.48 336.94,49.94 C337.01,49.41 338.49,48.91 339.14,48.24 C339.79,47.58 340.94,46.74 340.84,45.94 C340.74,45.14 339.36,44.28 338.54,43.44 C337.72,42.61 336.51,41.36 335.94,40.94 C335.37,40.53 335.71,40.53 335.14,40.94 C334.57,41.36 333.36,42.61 332.54,43.44 C331.72,44.28 330.34,45.14 330.24,45.94 C330.14,46.74 331.29,47.58 331.94,48.24 C332.59,48.91 334.07,49.41 334.14,49.94 C334.21,50.48 332.64,51.19 332.34,51.44Z" fill="#fb9a38" stroke="#222" stroke-width="0.45"/>
<line x1="347.26" y1="51.44" x2="347.26" y2="40.94" stroke="#333" stroke-width="0.55"/>
<path d="M348.26,51.44 C348.59,50.69 350.19,48.19 350.26,46.94 C350.33,45.69 349.11,44.86 348.66,43.94 C348.21,43.03 347.84,41.86 347.56,41.44 C347.28,41.03 347.24,41.03 346.96,41.44 C346.68,41.86 346.31,43.03 345.86,43.94 C345.41,44.86 344.19,45.69 344.26,46.94 C344.33,48.19 345.93,50.69 346.26,51.44Z" fill="#8f9a52" stroke="#222" stroke-width="0.45"/>
<line x1="358.98" y1="51.44" x2="358.98" y2="42.44" stroke="#444" stroke-width="0.6"/>
<line x1="370.70" y1="51.44" x2="370.70" y2="44.44" stroke="#333" stroke-width="0.55"/>
<path d="M373.90,51.44 C374.17,51.11 375.43,50.11 375.50,49.44 C375.57,48.78 374.85,48.03 374.30,47.44 C373.75,46.86 372.75,46.36 372.20,45.94 C371.65,45.53 371.30,45.11 371.00,44.94 C370.70,44.78 370.70,44.78 370.40,44.94 C370.10,45.11 369.75,45.53 369.20,45.94 C368.65,46.36 367.65,46.86 367.10,47.44 C366.55,48.03 365.83,48.78 365.90,49.44 C365.97,50.11 367.23,51.11 367.50,51.44Z" fill="#fdbf6f" stroke="#222" stroke-width="0.45"/>
<line x1="382.42" y1="51.44" x2="382.42" y2="45.94" stroke="#333" stroke-width="0.55"/>
<path d="M383.62,51.44 C383.59,51.11 383.57,50.11 383.42,49.44 C383.27,48.78 382.94,47.78 382.72,47.44 C382.50,47.11 382.34,47.11 382.12,47.44 C381.90,47.78 381.57,48.78 381.42,49.44 C381.27,50.11 381.25,51.11 381.22,51.44Z" fill="#1f73b4" stroke="#222" stroke-width="0.45"/>
<line x1="394.14" y1="51.44" x2="394.14" y2="45.44" stroke="#333" stroke-width="0.55"/>
<path d="M395.14,51.44 C395.11,51.11 395.06,50.11 394.94,49.44 C394.82,48.78 394.62,47.78 394.44,47.44 C394.26,47.11 394.02,47.11 393.84,47.44 C393.66,47.78 393.46,48.78 393.34,49.44 C393.22,50.11 393.17,51.11 393.14,51.44Z" fill="#eb6237" stroke="#222" stroke-width="0.45"/>
<line x1="405.86" y1="51.44" x2="405.86" y2="46.54" stroke="#444" stroke-width="0.6"/>
<line x1="417.58" y1="51.44" x2="417.58" y2="44.04" stroke="#444" stroke-width="0.6"/>
<line x1="429.30" y1="51.44" x2="429.30" y2="44.04" stroke="#444" stroke-width="0.6"/>
<line x1="441.02" y1="51.44" x2="441.02" y2="43.94" stroke="#333" stroke-width="0.55"/>
<path d="M442.02,51.44 C442.02,51.03 442.14,49.78 442.02,48.94 C441.90,48.11 441.54,46.86 441.32,46.44 C441.10,46.03 440.94,46.03 440.72,46.44 C440.50,46.86 440.14,48.11 440.02,48.94 C439.90,49.78 440.02,51.03 440.02,51.44Z" fill="#d9956a" stroke="#222" stroke-width="0.45"/>
<line x1="246.60" y1="51.44" x2="448.30" y2="51.44" stroke="#111" stroke-width="1.3"/>
<text x="234.20" y="62.02" font-size="8.0" text-anchor="end" textLength="16.40" lengthAdjust="spacingAndGlyphs" font-style="italic" fill="#333" stroke="#333" stroke-width="0.22">MPO</text>
<text x="240.30" y="54.54" font-size="8.6" text-anchor="end" fill="#333" stroke="#333" stroke-width="0.22">6</text>
<line x1="243.60" y1="51.44" x2="246.60" y2="51.44" stroke="#222" stroke-width="0.9"/>
<line x1="253.50" y1="66.99" x2="253.50" y2="58.29" stroke="#444" stroke-width="0.6"/>
<line x1="265.22" y1="66.99" x2="265.22" y2="56.49" stroke="#333" stroke-width="0.55"/>
<path d="M267.82,66.99 C267.75,66.74 267.62,66.16 267.42,65.49 C267.22,64.82 266.85,63.91 266.62,62.99 C266.39,62.07 266.20,60.99 266.02,59.99 C265.84,58.99 265.70,57.49 265.52,56.99 C265.34,56.49 265.10,56.49 264.92,56.99 C264.74,57.49 264.60,58.99 264.42,59.99 C264.24,60.99 264.05,62.07 263.82,62.99 C263.59,63.91 263.22,64.82 263.02,65.49 C262.82,66.16 262.69,66.74 262.62,66.99Z" fill="#33a02c" stroke="#222" stroke-width="0.45"/>
<line x1="276.94" y1="66.99" x2="276.94" y2="55.49" stroke="#333" stroke-width="0.55"/>
<path d="M277.74,66.99 C277.71,66.32 277.42,64.07 277.54,62.99 C277.66,61.91 277.77,61.24 278.44,60.49 C279.11,59.74 281.02,59.07 281.54,58.49 C282.06,57.91 282.06,57.41 281.54,56.99 C281.02,56.57 279.46,56.16 278.44,55.99 C277.42,55.82 276.46,55.82 275.44,55.99 C274.42,56.16 272.86,56.57 272.34,56.99 C271.82,57.41 271.82,57.91 272.34,58.49 C272.86,59.07 274.77,59.74 275.44,60.49 C276.11,61.24 276.22,61.91 276.34,62.99 C276.46,64.07 276.17,66.32 276.14,66.99Z" fill="#66a898" stroke="#222" stroke-width="0.45"/>
<line x1="288.66" y1="66.99" x2="288.66" y2="56.39" stroke="#444" stroke-width="0.6"/>
<line x1="300.38" y1="66.99" x2="300.38" y2="57.39" stroke="#444" stroke-width="0.6"/>
<line x1="312.10" y1="66.99" x2="312.10" y2="63.19" stroke="#444" stroke-width="0.6"/>
<line x1="323.82" y1="66.99" x2="323.82" y2="60.79" stroke="#444" stroke-width="0.6"/>
<line x1="335.54" y1="66.99" x2="335.54" y2="60.79" stroke="#444" stroke-width="0.6"/>
<line x1="347.26" y1="66.99" x2="347.26" y2="62.09" stroke="#444" stroke-width="0.6"/>
<line x1="358.98" y1="66.99" x2="358.98" y2="62.59" stroke="#444" stroke-width="0.6"/>
<line x1="382.42" y1="66.99" x2="382.42" y2="54.99" stroke="#333" stroke-width="0.55"/>
<path d="M385.42,66.99 C385.35,66.74 385.22,66.16 385.02,65.49 C384.82,64.82 384.49,64.07 384.22,62.99 C383.95,61.91 383.67,60.16 383.42,58.99 C383.17,57.82 382.94,56.49 382.72,55.99 C382.50,55.49 382.34,55.49 382.12,55.99 C381.90,56.49 381.67,57.82 381.42,58.99 C381.17,60.16 380.89,61.91 380.62,62.99 C380.35,64.07 380.02,64.82 379.82,65.49 C379.62,66.16 379.49,66.74 379.42,66.99Z" fill="#1f73b4" stroke="#222" stroke-width="0.45"/>
<line x1="394.14" y1="66.99" x2="394.14" y2="57.49" stroke="#444" stroke-width="0.6"/>
<line x1="405.86" y1="66.99" x2="405.86" y2="58.99" stroke="#444" stroke-width="0.6"/>
<line x1="417.58" y1="66.99" x2="417.58" y2="55.79" stroke="#444" stroke-width="0.6"/>
<line x1="429.30" y1="66.99" x2="429.30" y2="59.99" stroke="#444" stroke-width="0.6"/>
<line x1="441.02" y1="66.99" x2="441.02" y2="57.89" stroke="#444" stroke-width="0.6"/>
<line x1="246.60" y1="66.99" x2="448.30" y2="66.99" stroke="#111" stroke-width="1.3"/>
<text x="234.20" y="77.56" font-size="8.0" text-anchor="end" textLength="23.61" lengthAdjust="spacingAndGlyphs" font-style="italic" fill="#333" stroke="#333" stroke-width="0.22">ELANE</text>
<text x="240.30" y="70.09" font-size="8.6" text-anchor="end" fill="#333" stroke="#333" stroke-width="0.22">6</text>
<line x1="243.60" y1="66.99" x2="246.60" y2="66.99" stroke="#222" stroke-width="0.9"/>
<line x1="253.50" y1="82.54" x2="253.50" y2="72.94" stroke="#444" stroke-width="0.6"/>
<line x1="265.22" y1="82.54" x2="265.22" y2="76.74" stroke="#444" stroke-width="0.6"/>
<line x1="276.94" y1="82.54" x2="276.94" y2="70.54" stroke="#333" stroke-width="0.55"/>
<path d="M279.74,82.54 C279.87,82.12 280.54,80.95 280.54,80.04 C280.54,79.12 280.04,78.04 279.74,77.04 C279.44,76.04 279.14,74.95 278.74,74.04 C278.34,73.12 277.71,71.95 277.34,71.54 C276.97,71.12 276.91,71.12 276.54,71.54 C276.17,71.95 275.54,73.12 275.14,74.04 C274.74,74.95 274.44,76.04 274.14,77.04 C273.84,78.04 273.34,79.12 273.34,80.04 C273.34,80.95 274.01,82.12 274.14,82.54Z" fill="#66a898" stroke="#222" stroke-width="0.45"/>
<line x1="288.66" y1="82.54" x2="288.66" y2="76.24" stroke="#444" stroke-width="0.6"/>
<line x1="300.38" y1="82.54" x2="300.38" y2="76.74" stroke="#444" stroke-width="0.6"/>
<line x1="312.10" y1="82.54" x2="312.10" y2="79.24" stroke="#444" stroke-width="0.6"/>
<line x1="323.82" y1="82.54" x2="323.82" y2="78.14" stroke="#444" stroke-width="0.6"/>
<line x1="335.54" y1="82.54" x2="335.54" y2="78.14" stroke="#444" stroke-width="0.6"/>
<line x1="347.26" y1="82.54" x2="347.26" y2="77.04" stroke="#444" stroke-width="0.6"/>
<line x1="358.98" y1="82.54" x2="358.98" y2="78.34" stroke="#444" stroke-width="0.6"/>
<line x1="382.42" y1="82.54" x2="382.42" y2="74.54" stroke="#444" stroke-width="0.6"/>
<line x1="394.14" y1="82.54" x2="394.14" y2="77.04" stroke="#444" stroke-width="0.6"/>
<line x1="405.86" y1="82.54" x2="405.86" y2="79.14" stroke="#444" stroke-width="0.6"/>
<line x1="417.58" y1="82.54" x2="417.58" y2="72.34" stroke="#444" stroke-width="0.6"/>
<line x1="429.30" y1="82.54" x2="429.30" y2="77.64" stroke="#444" stroke-width="0.6"/>
<line x1="441.02" y1="82.54" x2="441.02" y2="77.64" stroke="#444" stroke-width="0.6"/>
<line x1="246.60" y1="82.54" x2="448.30" y2="82.54" stroke="#111" stroke-width="1.3"/>
<text x="234.20" y="93.11" font-size="8.0" text-anchor="end" textLength="22.54" lengthAdjust="spacingAndGlyphs" font-style="italic" fill="#333" stroke="#333" stroke-width="0.22">GATA1</text>
<text x="240.30" y="85.64" font-size="8.6" text-anchor="end" fill="#333" stroke="#333" stroke-width="0.22">4</text>
<line x1="243.60" y1="82.54" x2="246.60" y2="82.54" stroke="#222" stroke-width="0.9"/>
<line x1="253.50" y1="98.09" x2="253.50" y2="92.89" stroke="#444" stroke-width="0.6"/>
<line x1="265.22" y1="98.09" x2="265.22" y2="95.59" stroke="#444" stroke-width="0.6"/>
<line x1="276.94" y1="98.09" x2="276.94" y2="94.29" stroke="#444" stroke-width="0.6"/>
<line x1="288.66" y1="98.09" x2="288.66" y2="86.09" stroke="#333" stroke-width="0.55"/>
<path d="M289.26,98.09 C289.46,97.84 290.23,97.09 290.46,96.59 C290.69,96.09 290.83,95.67 290.66,95.09 C290.49,94.50 289.76,93.75 289.46,93.09 C289.16,92.42 289.03,91.42 288.86,91.09 C288.69,90.75 288.63,90.75 288.46,91.09 C288.29,91.42 288.16,92.42 287.86,93.09 C287.56,93.75 286.83,94.50 286.66,95.09 C286.49,95.67 286.63,96.09 286.86,96.59 C287.09,97.09 287.86,97.84 288.06,98.09Z" fill="#f4a3a3" stroke="#222" stroke-width="0.45"/>
<line x1="300.38" y1="98.09" x2="300.38" y2="93.69" stroke="#444" stroke-width="0.6"/>
<line x1="312.10" y1="98.09" x2="312.10" y2="95.19" stroke="#444" stroke-width="0.6"/>
<line x1="323.82" y1="98.09" x2="323.82" y2="94.29" stroke="#444" stroke-width="0.6"/>
<line x1="335.54" y1="98.09" x2="335.54" y2="93.29" stroke="#444" stroke-width="0.6"/>
<line x1="358.98" y1="98.09" x2="358.98" y2="95.99" stroke="#444" stroke-width="0.6"/>
<line x1="382.42" y1="98.09" x2="382.42" y2="95.29" stroke="#444" stroke-width="0.6"/>
<line x1="394.14" y1="98.09" x2="394.14" y2="90.49" stroke="#444" stroke-width="0.6"/>
<line x1="405.86" y1="98.09" x2="405.86" y2="94.89" stroke="#444" stroke-width="0.6"/>
<line x1="417.58" y1="98.09" x2="417.58" y2="92.19" stroke="#444" stroke-width="0.6"/>
<line x1="429.30" y1="98.09" x2="429.30" y2="92.19" stroke="#444" stroke-width="0.6"/>
<line x1="441.02" y1="98.09" x2="441.02" y2="91.79" stroke="#444" stroke-width="0.6"/>
<line x1="246.60" y1="98.09" x2="448.30" y2="98.09" stroke="#111" stroke-width="1.3"/>
<text x="234.20" y="108.66" font-size="8.0" text-anchor="end" textLength="19.61" lengthAdjust="spacingAndGlyphs" font-style="italic" fill="#333" stroke="#333" stroke-width="0.22">IGLL1</text>
<text x="240.30" y="101.19" font-size="8.6" text-anchor="end" fill="#333" stroke="#333" stroke-width="0.22">5</text>
<line x1="243.60" y1="98.09" x2="246.60" y2="98.09" stroke="#222" stroke-width="0.9"/>
<line x1="253.50" y1="113.63" x2="253.50" y2="104.93" stroke="#444" stroke-width="0.6"/>
<line x1="265.22" y1="113.63" x2="265.22" y2="102.13" stroke="#333" stroke-width="0.55"/>
<path d="M265.82,113.63 C266.30,113.13 267.95,111.72 268.72,110.63 C269.49,109.55 270.50,108.13 270.42,107.13 C270.34,106.13 269.02,105.38 268.22,104.63 C267.42,103.88 266.19,102.97 265.62,102.63 C265.05,102.30 265.39,102.30 264.82,102.63 C264.25,102.97 263.02,103.88 262.22,104.63 C261.42,105.38 260.10,106.13 260.02,107.13 C259.94,108.13 260.95,109.55 261.72,110.63 C262.49,111.72 264.14,113.13 264.62,113.63Z" fill="#33a02c" stroke="#222" stroke-width="0.45"/>
<line x1="276.94" y1="113.63" x2="276.94" y2="103.13" stroke="#333" stroke-width="0.55"/>
<path d="M277.94,113.63 C277.97,113.13 278.04,111.55 278.14,110.63 C278.24,109.72 278.57,108.97 278.54,108.13 C278.51,107.30 278.16,106.38 277.94,105.63 C277.72,104.88 277.46,103.97 277.24,103.63 C277.02,103.30 276.86,103.30 276.64,103.63 C276.42,103.97 276.16,104.88 275.94,105.63 C275.72,106.38 275.37,107.30 275.34,108.13 C275.31,108.97 275.64,109.72 275.74,110.63 C275.84,111.55 275.91,113.13 275.94,113.63Z" fill="#66a898" stroke="#222" stroke-width="0.45"/>
<line x1="288.66" y1="113.63" x2="288.66" y2="103.63" stroke="#333" stroke-width="0.55"/>
<path d="M289.86,113.63 C289.83,113.38 289.79,112.63 289.66,112.13 C289.53,111.63 289.29,110.88 289.06,110.63 C288.83,110.38 288.49,110.38 288.26,110.63 C288.03,110.88 287.79,111.63 287.66,112.13 C287.53,112.63 287.49,113.38 287.46,113.63Z" fill="#f4a3a3" stroke="#222" stroke-width="0.45"/>
<line x1="300.38" y1="113.63" x2="300.38" y2="100.63" stroke="#333" stroke-width="0.55"/>
<path d="M300.98,113.63 C301.38,113.13 302.61,111.80 303.38,110.63 C304.15,109.47 305.61,107.80 305.58,106.63 C305.55,105.47 304.00,104.63 303.18,103.63 C302.36,102.63 301.20,101.13 300.68,100.63 C300.16,100.13 300.60,100.13 300.08,100.63 C299.56,101.13 298.40,102.63 297.58,103.63 C296.76,104.63 295.21,105.47 295.18,106.63 C295.15,107.80 296.61,109.47 297.38,110.63 C298.15,111.80 299.38,113.13 299.78,113.63Z" fill="#5e9fd4" stroke="#222" stroke-width="0.45"/>
<line x1="312.10" y1="113.63" x2="312.10" y2="100.13" stroke="#333" stroke-width="0.55"/>
<path d="M312.60,113.63 C312.62,112.97 312.37,110.88 312.70,109.63 C313.03,108.38 313.90,107.13 314.60,106.13 C315.30,105.13 316.82,104.30 316.90,103.63 C316.98,102.97 315.85,102.63 315.10,102.13 C314.35,101.63 312.95,100.88 312.40,100.63 C311.85,100.38 312.35,100.38 311.80,100.63 C311.25,100.88 309.85,101.63 309.10,102.13 C308.35,102.63 307.22,102.97 307.30,103.63 C307.38,104.30 308.90,105.13 309.60,106.13 C310.30,107.13 311.17,108.38 311.50,109.63 C311.83,110.88 311.58,112.97 311.60,113.63Z" fill="#c2aed6" stroke="#222" stroke-width="0.45"/>
<line x1="323.82" y1="113.63" x2="323.82" y2="101.13" stroke="#333" stroke-width="0.55"/>
<path d="M324.32,113.63 C324.34,112.80 324.07,110.05 324.42,108.63 C324.77,107.22 325.72,106.05 326.42,105.13 C327.12,104.22 328.55,103.63 328.62,103.13 C328.69,102.63 327.57,102.47 326.82,102.13 C326.07,101.80 324.67,101.30 324.12,101.13 C323.57,100.97 324.07,100.97 323.52,101.13 C322.97,101.30 321.57,101.80 320.82,102.13 C320.07,102.47 318.95,102.63 319.02,103.13 C319.09,103.63 320.52,104.22 321.22,105.13 C321.92,106.05 322.87,107.22 323.22,108.63 C323.57,110.05 323.30,112.80 323.32,113.63Z" fill="#e41a1c" stroke="#222" stroke-width="0.45"/>
<line x1="335.54" y1="113.63" x2="335.54" y2="102.13" stroke="#333" stroke-width="0.55"/>
<path d="M339.34,113.63 C338.96,113.38 337.24,112.72 337.04,112.13 C336.84,111.55 337.87,110.97 338.14,110.13 C338.41,109.30 338.71,108.13 338.64,107.13 C338.57,106.13 338.21,104.97 337.74,104.13 C337.27,103.30 336.26,102.47 335.84,102.13 C335.42,101.80 335.66,101.80 335.24,102.13 C334.82,102.47 333.81,103.30 333.34,104.13 C332.87,104.97 332.51,106.13 332.44,107.13 C332.37,108.13 332.67,109.30 332.94,110.13 C333.21,110.97 334.24,111.55 334.04,112.13 C333.84,112.72 332.12,113.38 331.74,113.63Z" fill="#fb9a38" stroke="#222" stroke-width="0.45"/>
<line x1="347.26" y1="113.63" x2="347.26" y2="103.43" stroke="#444" stroke-width="0.6"/>
<line x1="358.98" y1="113.63" x2="358.98" y2="108.33" stroke="#444" stroke-width="0.6"/>
<line x1="370.70" y1="113.63" x2="370.70" y2="107.93" stroke="#444" stroke-width="0.6"/>
<line x1="382.42" y1="113.63" x2="382.42" y2="104.73" stroke="#444" stroke-width="0.6"/>
<line x1="394.14" y1="113.63" x2="394.14" y2="101.13" stroke="#333" stroke-width="0.55"/>
<path d="M397.64,113.63 C397.32,113.38 396.11,112.80 395.74,112.13 C395.37,111.47 395.34,110.55 395.44,109.63 C395.54,108.72 396.29,107.55 396.34,106.63 C396.39,105.72 396.06,104.97 395.74,104.13 C395.42,103.30 394.76,102.05 394.44,101.63 C394.12,101.22 394.16,101.22 393.84,101.63 C393.52,102.05 392.86,103.30 392.54,104.13 C392.22,104.97 391.89,105.72 391.94,106.63 C391.99,107.55 392.74,108.72 392.84,109.63 C392.94,110.55 392.91,111.47 392.54,112.13 C392.17,112.80 390.96,113.38 390.64,113.63Z" fill="#eb6237" stroke="#222" stroke-width="0.45"/>
<line x1="405.86" y1="113.63" x2="405.86" y2="109.43" stroke="#444" stroke-width="0.6"/>
<line x1="417.58" y1="113.63" x2="417.58" y2="105.63" stroke="#444" stroke-width="0.6"/>
<line x1="429.30" y1="113.63" x2="429.30" y2="103.73" stroke="#444" stroke-width="0.6"/>
<line x1="441.02" y1="113.63" x2="441.02" y2="108.33" stroke="#444" stroke-width="0.6"/>
<line x1="246.60" y1="113.63" x2="448.30" y2="113.63" stroke="#111" stroke-width="1.3"/>
<text x="234.20" y="124.21" font-size="8.0" text-anchor="end" textLength="19.20" lengthAdjust="spacingAndGlyphs" font-style="italic" fill="#333" stroke="#333" stroke-width="0.22">DNTT</text>
<text x="240.30" y="116.73" font-size="8.6" text-anchor="end" fill="#333" stroke="#333" stroke-width="0.22">5</text>
<line x1="243.60" y1="113.63" x2="246.60" y2="113.63" stroke="#222" stroke-width="0.9"/>
<line x1="253.50" y1="129.18" x2="253.50" y2="120.88" stroke="#444" stroke-width="0.6"/>
<line x1="265.22" y1="129.18" x2="265.22" y2="117.98" stroke="#444" stroke-width="0.6"/>
<line x1="276.94" y1="129.18" x2="276.94" y2="120.88" stroke="#444" stroke-width="0.6"/>
<line x1="288.66" y1="129.18" x2="288.66" y2="120.88" stroke="#444" stroke-width="0.6"/>
<line x1="300.38" y1="129.18" x2="300.38" y2="115.68" stroke="#333" stroke-width="0.55"/>
<path d="M304.58,129.18 C304.21,128.85 302.91,127.93 302.38,127.18 C301.85,126.43 301.35,125.68 301.38,124.68 C301.41,123.68 302.48,122.18 302.58,121.18 C302.68,120.18 302.30,119.51 301.98,118.68 C301.66,117.85 301.00,116.60 300.68,116.18 C300.36,115.76 300.40,115.76 300.08,116.18 C299.76,116.60 299.10,117.85 298.78,118.68 C298.46,119.51 298.08,120.18 298.18,121.18 C298.28,122.18 299.35,123.68 299.38,124.68 C299.41,125.68 298.91,126.43 298.38,127.18 C297.85,127.93 296.55,128.85 296.18,129.18Z" fill="#5e9fd4" stroke="#222" stroke-width="0.45"/>
<line x1="312.10" y1="129.18" x2="312.10" y2="115.18" stroke="#333" stroke-width="0.55"/>
<path d="M312.60,129.18 C312.62,128.35 312.35,125.51 312.70,124.18 C313.05,122.85 314.00,122.10 314.70,121.18 C315.40,120.26 316.93,119.43 316.90,118.68 C316.87,117.93 315.25,117.26 314.50,116.68 C313.75,116.10 312.85,115.43 312.40,115.18 C311.95,114.93 312.25,114.93 311.80,115.18 C311.35,115.43 310.45,116.10 309.70,116.68 C308.95,117.26 307.33,117.93 307.30,118.68 C307.27,119.43 308.80,120.26 309.50,121.18 C310.20,122.10 311.15,122.85 311.50,124.18 C311.85,125.51 311.58,128.35 311.60,129.18Z" fill="#c2aed6" stroke="#222" stroke-width="0.45"/>
<line x1="323.82" y1="129.18" x2="323.82" y2="115.18" stroke="#333" stroke-width="0.55"/>
<path d="M325.62,129.18 C325.45,128.93 324.84,128.18 324.62,127.68 C324.40,127.18 324.40,126.93 324.32,126.18 C324.24,125.43 324.25,123.68 324.12,123.18 C323.99,122.68 323.65,122.68 323.52,123.18 C323.39,123.68 323.40,125.43 323.32,126.18 C323.24,126.93 323.24,127.18 323.02,127.68 C322.80,128.18 322.19,128.93 322.02,129.18Z" fill="#e41a1c" stroke="#222" stroke-width="0.45"/>
<line x1="335.54" y1="129.18" x2="335.54" y2="117.08" stroke="#444" stroke-width="0.6"/>
<line x1="347.26" y1="129.18" x2="347.26" y2="123.28" stroke="#444" stroke-width="0.6"/>
<line x1="358.98" y1="129.18" x2="358.98" y2="123.68" stroke="#444" stroke-width="0.6"/>
<line x1="370.70" y1="129.18" x2="370.70" y2="127.08" stroke="#444" stroke-width="0.6"/>
<line x1="382.42" y1="129.18" x2="382.42" y2="122.88" stroke="#444" stroke-width="0.6"/>
<line x1="394.14" y1="129.18" x2="394.14" y2="118.58" stroke="#444" stroke-width="0.6"/>
<line x1="405.86" y1="129.18" x2="405.86" y2="126.38" stroke="#444" stroke-width="0.6"/>
<line x1="417.58" y1="129.18" x2="417.58" y2="120.68" stroke="#444" stroke-width="0.6"/>
<line x1="429.30" y1="129.18" x2="429.30" y2="123.68" stroke="#444" stroke-width="0.6"/>
<line x1="441.02" y1="129.18" x2="441.02" y2="124.28" stroke="#444" stroke-width="0.6"/>
<line x1="246.60" y1="129.18" x2="448.30" y2="129.18" stroke="#111" stroke-width="1.3"/>
<text x="234.20" y="139.75" font-size="8.0" text-anchor="end" textLength="16.80" lengthAdjust="spacingAndGlyphs" font-style="italic" fill="#333" stroke="#333" stroke-width="0.22">MME</text>
<text x="240.30" y="132.28" font-size="8.6" text-anchor="end" fill="#333" stroke="#333" stroke-width="0.22">4</text>
<line x1="243.60" y1="129.18" x2="246.60" y2="129.18" stroke="#222" stroke-width="0.9"/>
<line x1="253.50" y1="144.73" x2="253.50" y2="138.93" stroke="#444" stroke-width="0.6"/>
<line x1="265.22" y1="144.73" x2="265.22" y2="138.93" stroke="#444" stroke-width="0.6"/>
<line x1="276.94" y1="144.73" x2="276.94" y2="139.93" stroke="#444" stroke-width="0.6"/>
<line x1="288.66" y1="144.73" x2="288.66" y2="141.23" stroke="#444" stroke-width="0.6"/>
<line x1="300.38" y1="144.73" x2="300.38" y2="133.93" stroke="#444" stroke-width="0.6"/>
<line x1="312.10" y1="144.73" x2="312.10" y2="133.23" stroke="#333" stroke-width="0.55"/>
<path d="M316.90,144.73 C316.87,144.39 316.87,143.56 316.70,142.73 C316.53,141.89 316.30,140.73 315.90,139.73 C315.50,138.73 314.87,137.64 314.30,136.73 C313.73,135.81 312.93,134.64 312.50,134.23 C312.07,133.81 312.13,133.81 311.70,134.23 C311.27,134.64 310.47,135.81 309.90,136.73 C309.33,137.64 308.70,138.73 308.30,139.73 C307.90,140.73 307.67,141.89 307.50,142.73 C307.33,143.56 307.33,144.39 307.30,144.73Z" fill="#c2aed6" stroke="#222" stroke-width="0.45"/>
<line x1="323.82" y1="144.73" x2="323.82" y2="135.23" stroke="#333" stroke-width="0.55"/>
<path d="M326.32,144.73 C326.70,144.31 328.45,143.14 328.62,142.23 C328.79,141.31 328.02,140.23 327.32,139.23 C326.62,138.23 325.10,136.73 324.42,136.23 C323.74,135.73 323.90,135.73 323.22,136.23 C322.54,136.73 321.02,138.23 320.32,139.23 C319.62,140.23 318.85,141.31 319.02,142.23 C319.19,143.14 320.94,144.31 321.32,144.73Z" fill="#e41a1c" stroke="#222" stroke-width="0.45"/>
<line x1="335.54" y1="144.73" x2="335.54" y2="132.23" stroke="#333" stroke-width="0.55"/>
<path d="M337.54,144.73 C337.79,144.14 338.54,142.31 339.04,141.23 C339.54,140.14 340.69,139.23 340.54,138.23 C340.39,137.23 338.91,136.14 338.14,135.23 C337.37,134.31 336.44,133.14 335.94,132.73 C335.44,132.31 335.64,132.31 335.14,132.73 C334.64,133.14 333.71,134.31 332.94,135.23 C332.17,136.14 330.69,137.23 330.54,138.23 C330.39,139.23 331.54,140.14 332.04,141.23 C332.54,142.31 333.29,144.14 333.54,144.73Z" fill="#fb9a38" stroke="#222" stroke-width="0.45"/>
<line x1="347.26" y1="144.73" x2="347.26" y2="135.23" stroke="#333" stroke-width="0.55"/>
<path d="M348.06,144.73 C348.19,144.23 348.79,142.73 348.86,141.73 C348.93,140.73 348.68,139.73 348.46,138.73 C348.24,137.73 347.81,136.23 347.56,135.73 C347.31,135.23 347.21,135.23 346.96,135.73 C346.71,136.23 346.28,137.73 346.06,138.73 C345.84,139.73 345.59,140.73 345.66,141.73 C345.73,142.73 346.33,144.23 346.46,144.73Z" fill="#8f9a52" stroke="#222" stroke-width="0.45"/>
<line x1="358.98" y1="144.73" x2="358.98" y2="139.43" stroke="#444" stroke-width="0.6"/>
<line x1="370.70" y1="144.73" x2="370.70" y2="142.63" stroke="#444" stroke-width="0.6"/>
<line x1="382.42" y1="144.73" x2="382.42" y2="141.93" stroke="#444" stroke-width="0.6"/>
<line x1="394.14" y1="144.73" x2="394.14" y2="139.43" stroke="#444" stroke-width="0.6"/>
<line x1="405.86" y1="144.73" x2="405.86" y2="142.63" stroke="#444" stroke-width="0.6"/>
<line x1="417.58" y1="144.73" x2="417.58" y2="137.33" stroke="#444" stroke-width="0.6"/>
<line x1="429.30" y1="144.73" x2="429.30" y2="137.33" stroke="#444" stroke-width="0.6"/>
<line x1="441.02" y1="144.73" x2="441.02" y2="138.43" stroke="#444" stroke-width="0.6"/>
<line x1="246.60" y1="144.73" x2="448.30" y2="144.73" stroke="#111" stroke-width="1.3"/>
<text x="234.20" y="155.30" font-size="8.0" text-anchor="end" textLength="18.41" lengthAdjust="spacingAndGlyphs" font-style="italic" fill="#333" stroke="#333" stroke-width="0.22">CD19</text>
<text x="240.30" y="147.83" font-size="8.6" text-anchor="end" fill="#333" stroke="#333" stroke-width="0.22">3</text>
<line x1="243.60" y1="144.73" x2="246.60" y2="144.73" stroke="#222" stroke-width="0.9"/>
<line x1="253.50" y1="160.27" x2="253.50" y2="155.47" stroke="#444" stroke-width="0.6"/>
<line x1="265.22" y1="160.27" x2="265.22" y2="156.97" stroke="#444" stroke-width="0.6"/>
<line x1="276.94" y1="160.27" x2="276.94" y2="155.07" stroke="#444" stroke-width="0.6"/>
<line x1="288.66" y1="160.27" x2="288.66" y2="157.37" stroke="#444" stroke-width="0.6"/>
<line x1="300.38" y1="160.27" x2="300.38" y2="157.37" stroke="#444" stroke-width="0.6"/>
<line x1="312.10" y1="160.27" x2="312.10" y2="153.97" stroke="#444" stroke-width="0.6"/>
<line x1="323.82" y1="160.27" x2="323.82" y2="150.27" stroke="#333" stroke-width="0.55"/>
<path d="M324.82,160.27 C325.05,159.77 325.85,158.11 326.22,157.27 C326.59,156.44 327.15,155.94 327.02,155.27 C326.89,154.61 325.90,154.02 325.42,153.27 C324.94,152.52 324.44,151.19 324.12,150.77 C323.80,150.36 323.84,150.36 323.52,150.77 C323.20,151.19 322.70,152.52 322.22,153.27 C321.74,154.02 320.75,154.61 320.62,155.27 C320.49,155.94 321.05,156.44 321.42,157.27 C321.79,158.11 322.59,159.77 322.82,160.27Z" fill="#e41a1c" stroke="#222" stroke-width="0.45"/>
<line x1="335.54" y1="160.27" x2="335.54" y2="147.77" stroke="#333" stroke-width="0.55"/>
<path d="M338.34,160.27 C338.07,159.94 336.84,159.02 336.74,158.27 C336.64,157.52 337.51,156.61 337.74,155.77 C337.97,154.94 338.27,154.11 338.14,153.27 C338.01,152.44 337.32,151.61 336.94,150.77 C336.56,149.94 336.12,148.69 335.84,148.27 C335.56,147.86 335.52,147.86 335.24,148.27 C334.96,148.69 334.52,149.94 334.14,150.77 C333.76,151.61 333.07,152.44 332.94,153.27 C332.81,154.11 333.11,154.94 333.34,155.77 C333.57,156.61 334.44,157.52 334.34,158.27 C334.24,159.02 333.01,159.94 332.74,160.27Z" fill="#fb9a38" stroke="#222" stroke-width="0.45"/>
<line x1="347.26" y1="160.27" x2="347.26" y2="147.77" stroke="#333" stroke-width="0.55"/>
<path d="M348.76,160.27 C348.71,159.94 348.31,159.11 348.46,158.27 C348.61,157.44 349.49,156.27 349.66,155.27 C349.83,154.27 349.69,153.19 349.46,152.27 C349.23,151.36 348.58,150.44 348.26,149.77 C347.94,149.11 347.78,148.52 347.56,148.27 C347.34,148.02 347.18,148.02 346.96,148.27 C346.74,148.52 346.58,149.11 346.26,149.77 C345.94,150.44 345.29,151.36 345.06,152.27 C344.83,153.19 344.69,154.27 344.86,155.27 C345.03,156.27 345.91,157.44 346.06,158.27 C346.21,159.11 345.81,159.94 345.76,160.27Z" fill="#8f9a52" stroke="#222" stroke-width="0.45"/>
<line x1="358.98" y1="160.27" x2="358.98" y2="147.77" stroke="#333" stroke-width="0.55"/>
<path d="M361.48,160.27 C361.23,159.94 360.13,159.11 359.98,158.27 C359.83,157.44 360.53,156.27 360.58,155.27 C360.63,154.27 360.50,153.27 360.28,152.27 C360.06,151.27 359.55,149.77 359.28,149.27 C359.01,148.77 358.95,148.77 358.68,149.27 C358.41,149.77 357.90,151.27 357.68,152.27 C357.46,153.27 357.33,154.27 357.38,155.27 C357.43,156.27 358.13,157.44 357.98,158.27 C357.83,159.11 356.73,159.94 356.48,160.27Z" fill="#67b04b" stroke="#222" stroke-width="0.45"/>
<line x1="370.70" y1="160.27" x2="370.70" y2="156.77" stroke="#333" stroke-width="0.55"/>
<path d="M372.70,160.27 C372.70,160.02 372.93,159.27 372.70,158.77 C372.47,158.27 371.73,157.52 371.30,157.27 C370.87,157.02 370.53,157.02 370.10,157.27 C369.67,157.52 368.93,158.27 368.70,158.77 C368.47,159.27 368.70,160.02 368.70,160.27Z" fill="#fdbf6f" stroke="#222" stroke-width="0.45"/>
<line x1="382.42" y1="160.27" x2="382.42" y2="156.07" stroke="#444" stroke-width="0.6"/>
<line x1="394.14" y1="160.27" x2="394.14" y2="155.57" stroke="#444" stroke-width="0.6"/>
<line x1="405.86" y1="160.27" x2="405.86" y2="155.57" stroke="#444" stroke-width="0.6"/>
<line x1="417.58" y1="160.27" x2="417.58" y2="153.97" stroke="#444" stroke-width="0.6"/>
<line x1="429.30" y1="160.27" x2="429.30" y2="156.07" stroke="#444" stroke-width="0.6"/>
<line x1="441.02" y1="160.27" x2="441.02" y2="153.47" stroke="#444" stroke-width="0.6"/>
<line x1="246.60" y1="160.27" x2="448.30" y2="160.27" stroke="#111" stroke-width="1.3"/>
<text x="234.20" y="170.85" font-size="8.0" text-anchor="end" textLength="23.61" lengthAdjust="spacingAndGlyphs" font-style="italic" fill="#333" stroke="#333" stroke-width="0.22">MS4A1</text>
<text x="240.30" y="163.37" font-size="8.6" text-anchor="end" fill="#333" stroke="#333" stroke-width="0.22">5</text>
<line x1="243.60" y1="160.27" x2="246.60" y2="160.27" stroke="#222" stroke-width="0.9"/>
<line x1="253.50" y1="175.82" x2="253.50" y2="171.62" stroke="#444" stroke-width="0.6"/>
<line x1="265.22" y1="175.82" x2="265.22" y2="171.22" stroke="#444" stroke-width="0.6"/>
<line x1="276.94" y1="175.82" x2="276.94" y2="169.62" stroke="#444" stroke-width="0.6"/>
<line x1="288.66" y1="175.82" x2="288.66" y2="171.22" stroke="#444" stroke-width="0.6"/>
<line x1="300.38" y1="175.82" x2="300.38" y2="169.32" stroke="#444" stroke-width="0.6"/>
<line x1="312.10" y1="175.82" x2="312.10" y2="168.72" stroke="#444" stroke-width="0.6"/>
<line x1="323.82" y1="175.82" x2="323.82" y2="167.72" stroke="#444" stroke-width="0.6"/>
<line x1="335.54" y1="175.82" x2="335.54" y2="166.22" stroke="#444" stroke-width="0.6"/>
<line x1="347.26" y1="175.82" x2="347.26" y2="163.32" stroke="#333" stroke-width="0.55"/>
<path d="M348.26,175.82 C348.46,175.32 348.79,173.99 349.46,172.82 C350.13,171.65 352.19,169.99 352.26,168.82 C352.33,167.65 350.64,166.65 349.86,165.82 C349.08,164.99 348.04,164.15 347.56,163.82 C347.08,163.49 347.44,163.49 346.96,163.82 C346.48,164.15 345.44,164.99 344.66,165.82 C343.88,166.65 342.19,167.65 342.26,168.82 C342.33,169.99 344.39,171.65 345.06,172.82 C345.73,173.99 346.06,175.32 346.26,175.82Z" fill="#8f9a52" stroke="#222" stroke-width="0.45"/>
<line x1="358.98" y1="175.82" x2="358.98" y2="163.32" stroke="#333" stroke-width="0.55"/>
<path d="M359.98,175.82 C360.15,175.32 360.41,173.99 360.98,172.82 C361.55,171.65 363.35,169.99 363.38,168.82 C363.41,167.65 361.86,166.65 361.18,165.82 C360.50,164.99 359.70,164.15 359.28,163.82 C358.86,163.49 359.10,163.49 358.68,163.82 C358.26,164.15 357.46,164.99 356.78,165.82 C356.10,166.65 354.55,167.65 354.58,168.82 C354.61,169.99 356.41,171.65 356.98,172.82 C357.55,173.99 357.81,175.32 357.98,175.82Z" fill="#67b04b" stroke="#222" stroke-width="0.45"/>
<line x1="370.70" y1="175.82" x2="370.70" y2="168.42" stroke="#444" stroke-width="0.6"/>
<line x1="382.42" y1="175.82" x2="382.42" y2="171.42" stroke="#444" stroke-width="0.6"/>
<line x1="394.14" y1="175.82" x2="394.14" y2="169.22" stroke="#444" stroke-width="0.6"/>
<line x1="405.86" y1="175.82" x2="405.86" y2="172.02" stroke="#444" stroke-width="0.6"/>
<line x1="417.58" y1="175.82" x2="417.58" y2="169.22" stroke="#444" stroke-width="0.6"/>
<line x1="429.30" y1="175.82" x2="429.30" y2="168.42" stroke="#444" stroke-width="0.6"/>
<line x1="441.02" y1="175.82" x2="441.02" y2="168.42" stroke="#444" stroke-width="0.6"/>
<line x1="246.60" y1="175.82" x2="448.30" y2="175.82" stroke="#111" stroke-width="1.3"/>
<text x="234.20" y="186.39" font-size="8.0" text-anchor="end" textLength="18.41" lengthAdjust="spacingAndGlyphs" font-style="italic" fill="#333" stroke="#333" stroke-width="0.22">CD27</text>
<text x="240.30" y="178.92" font-size="8.6" text-anchor="end" fill="#333" stroke="#333" stroke-width="0.22">4</text>
<line x1="243.60" y1="175.82" x2="246.60" y2="175.82" stroke="#222" stroke-width="0.9"/>
<line x1="253.50" y1="191.37" x2="253.50" y2="187.37" stroke="#444" stroke-width="0.6"/>
<line x1="265.22" y1="191.37" x2="265.22" y2="187.87" stroke="#444" stroke-width="0.6"/>
<line x1="276.94" y1="191.37" x2="276.94" y2="185.97" stroke="#444" stroke-width="0.6"/>
<line x1="288.66" y1="191.37" x2="288.66" y2="187.87" stroke="#444" stroke-width="0.6"/>
<line x1="300.38" y1="191.37" x2="300.38" y2="184.67" stroke="#444" stroke-width="0.6"/>
<line x1="312.10" y1="191.37" x2="312.10" y2="184.07" stroke="#444" stroke-width="0.6"/>
<line x1="323.82" y1="191.37" x2="323.82" y2="186.97" stroke="#444" stroke-width="0.6"/>
<line x1="335.54" y1="191.37" x2="335.54" y2="185.07" stroke="#444" stroke-width="0.6"/>
<line x1="347.26" y1="191.37" x2="347.26" y2="184.37" stroke="#444" stroke-width="0.6"/>
<line x1="358.98" y1="191.37" x2="358.98" y2="184.37" stroke="#444" stroke-width="0.6"/>
<line x1="370.70" y1="191.37" x2="370.70" y2="182.87" stroke="#333" stroke-width="0.55"/>
<path d="M375.70,191.37 C375.73,191.12 375.97,190.45 375.90,189.87 C375.83,189.28 375.60,188.53 375.30,187.87 C375.00,187.20 374.47,186.45 374.10,185.87 C373.73,185.28 373.53,184.75 373.10,184.37 C372.67,183.98 372.03,183.70 371.50,183.57 C370.97,183.43 370.43,183.43 369.90,183.57 C369.37,183.70 368.73,183.98 368.30,184.37 C367.87,184.75 367.67,185.28 367.30,185.87 C366.93,186.45 366.40,187.20 366.10,187.87 C365.80,188.53 365.57,189.28 365.50,189.87 C365.43,190.45 365.67,191.12 365.70,191.37Z" fill="#fdbf6f" stroke="#222" stroke-width="0.45"/>
<line x1="382.42" y1="191.37" x2="382.42" y2="186.67" stroke="#444" stroke-width="0.6"/>
<line x1="394.14" y1="191.37" x2="394.14" y2="184.37" stroke="#444" stroke-width="0.6"/>
<line x1="405.86" y1="191.37" x2="405.86" y2="187.77" stroke="#444" stroke-width="0.6"/>
<line x1="417.58" y1="191.37" x2="417.58" y2="185.07" stroke="#444" stroke-width="0.6"/>
<line x1="429.30" y1="191.37" x2="429.30" y2="180.87" stroke="#333" stroke-width="0.55"/>
<path d="M431.90,191.37 C431.65,191.20 430.57,190.87 430.40,190.37 C430.23,189.87 430.87,189.20 430.90,188.37 C430.93,187.53 430.78,186.28 430.60,185.37 C430.42,184.45 429.98,183.53 429.80,182.87 C429.62,182.20 429.62,181.62 429.50,181.37 C429.38,181.12 429.22,181.12 429.10,181.37 C428.98,181.62 428.98,182.20 428.80,182.87 C428.62,183.53 428.18,184.45 428.00,185.37 C427.82,186.28 427.67,187.53 427.70,188.37 C427.73,189.20 428.37,189.87 428.20,190.37 C428.03,190.87 426.95,191.20 426.70,191.37Z" fill="#ff7f0e" stroke="#222" stroke-width="0.45"/>
<line x1="441.02" y1="191.37" x2="441.02" y2="183.57" stroke="#444" stroke-width="0.6"/>
<line x1="246.60" y1="191.37" x2="448.30" y2="191.37" stroke="#111" stroke-width="1.3"/>
<text x="234.20" y="201.94" font-size="8.0" text-anchor="end" textLength="15.60" lengthAdjust="spacingAndGlyphs" font-style="italic" fill="#333" stroke="#333" stroke-width="0.22">IRF8</text>
<text x="240.30" y="194.47" font-size="8.6" text-anchor="end" fill="#333" stroke="#333" stroke-width="0.22">4</text>
<line x1="243.60" y1="191.37" x2="246.60" y2="191.37" stroke="#222" stroke-width="0.9"/>
<line x1="253.50" y1="206.91" x2="253.50" y2="199.81" stroke="#444" stroke-width="0.6"/>
<line x1="265.22" y1="206.91" x2="265.22" y2="197.91" stroke="#444" stroke-width="0.6"/>
<line x1="276.94" y1="206.91" x2="276.94" y2="198.91" stroke="#333" stroke-width="0.55"/>
<path d="M277.74,206.91 C277.84,206.58 278.27,205.66 278.34,204.91 C278.41,204.16 278.32,203.25 278.14,202.41 C277.96,201.58 277.49,200.33 277.24,199.91 C276.99,199.50 276.89,199.50 276.64,199.91 C276.39,200.33 275.92,201.58 275.74,202.41 C275.56,203.25 275.47,204.16 275.54,204.91 C275.61,205.66 276.04,206.58 276.14,206.91Z" fill="#66a898" stroke="#222" stroke-width="0.45"/>
<line x1="288.66" y1="206.91" x2="288.66" y2="200.41" stroke="#444" stroke-width="0.6"/>
<line x1="300.38" y1="206.91" x2="300.38" y2="196.91" stroke="#444" stroke-width="0.6"/>
<line x1="312.10" y1="206.91" x2="312.10" y2="198.81" stroke="#444" stroke-width="0.6"/>
<line x1="323.82" y1="206.91" x2="323.82" y2="197.91" stroke="#333" stroke-width="0.55"/>
<path d="M325.02,206.91 C324.95,206.66 324.77,205.91 324.62,205.41 C324.47,204.91 324.30,204.16 324.12,203.91 C323.94,203.66 323.70,203.66 323.52,203.91 C323.34,204.16 323.17,204.91 323.02,205.41 C322.87,205.91 322.69,206.66 322.62,206.91Z" fill="#e41a1c" stroke="#222" stroke-width="0.45"/>
<line x1="335.54" y1="206.91" x2="335.54" y2="197.91" stroke="#444" stroke-width="0.6"/>
<line x1="347.26" y1="206.91" x2="347.26" y2="197.41" stroke="#333" stroke-width="0.55"/>
<path d="M347.86,206.91 C348.06,206.50 348.83,205.16 349.06,204.41 C349.29,203.66 349.43,203.16 349.26,202.41 C349.09,201.66 348.34,200.66 348.06,199.91 C347.78,199.16 347.74,198.25 347.56,197.91 C347.38,197.58 347.14,197.58 346.96,197.91 C346.78,198.25 346.74,199.16 346.46,199.91 C346.18,200.66 345.43,201.66 345.26,202.41 C345.09,203.16 345.23,203.66 345.46,204.41 C345.69,205.16 346.46,206.50 346.66,206.91Z" fill="#8f9a52" stroke="#222" stroke-width="0.45"/>
<line x1="358.98" y1="206.91" x2="358.98" y2="197.41" stroke="#333" stroke-width="0.55"/>
<path d="M359.58,206.91 C359.78,206.50 360.51,205.16 360.78,204.41 C361.05,203.66 361.35,203.16 361.18,202.41 C361.01,201.66 360.10,200.66 359.78,199.91 C359.46,199.16 359.46,198.25 359.28,197.91 C359.10,197.58 358.86,197.58 358.68,197.91 C358.50,198.25 358.50,199.16 358.18,199.91 C357.86,200.66 356.95,201.66 356.78,202.41 C356.61,203.16 356.91,203.66 357.18,204.41 C357.45,205.16 358.18,206.50 358.38,206.91Z" fill="#67b04b" stroke="#222" stroke-width="0.45"/>
<line x1="370.70" y1="206.91" x2="370.70" y2="204.61" stroke="#444" stroke-width="0.6"/>
<line x1="382.42" y1="206.91" x2="382.42" y2="193.91" stroke="#333" stroke-width="0.55"/>
<path d="M385.82,206.91 C385.69,206.75 384.85,206.33 385.02,205.91 C385.19,205.50 386.35,205.00 386.82,204.41 C387.29,203.83 387.85,203.16 387.82,202.41 C387.79,201.66 387.19,200.66 386.62,199.91 C386.05,199.16 385.02,198.58 384.42,197.91 C383.82,197.25 383.30,196.50 383.02,195.91 C382.74,195.33 382.87,194.66 382.72,194.41 C382.57,194.16 382.27,194.16 382.12,194.41 C381.97,194.66 382.10,195.33 381.82,195.91 C381.54,196.50 381.02,197.25 380.42,197.91 C379.82,198.58 378.79,199.16 378.22,199.91 C377.65,200.66 377.05,201.66 377.02,202.41 C376.99,203.16 377.55,203.83 378.02,204.41 C378.49,205.00 379.65,205.50 379.82,205.91 C379.99,206.33 379.15,206.75 379.02,206.91Z" fill="#1f73b4" stroke="#222" stroke-width="0.45"/>
<line x1="394.14" y1="206.91" x2="394.14" y2="193.41" stroke="#333" stroke-width="0.55"/>
<path d="M394.74,206.91 C394.76,206.25 394.41,204.16 394.84,202.91 C395.27,201.66 396.62,200.33 397.34,199.41 C398.06,198.50 399.27,198.08 399.14,197.41 C399.01,196.75 397.32,196.00 396.54,195.41 C395.76,194.83 394.89,194.16 394.44,193.91 C393.99,193.66 394.29,193.66 393.84,193.91 C393.39,194.16 392.52,194.83 391.74,195.41 C390.96,196.00 389.27,196.75 389.14,197.41 C389.01,198.08 390.22,198.50 390.94,199.41 C391.66,200.33 393.01,201.66 393.44,202.91 C393.87,204.16 393.52,206.25 393.54,206.91Z" fill="#eb6237" stroke="#222" stroke-width="0.45"/>
<line x1="405.86" y1="206.91" x2="405.86" y2="198.91" stroke="#333" stroke-width="0.55"/>
<path d="M408.46,206.91 C408.23,206.78 407.11,206.55 407.06,206.11 C407.01,205.68 408.16,204.95 408.16,204.31 C408.16,203.68 407.39,203.05 407.06,202.31 C406.73,201.58 406.41,200.31 406.16,199.91 C405.91,199.51 405.81,199.51 405.56,199.91 C405.31,200.31 404.99,201.58 404.66,202.31 C404.33,203.05 403.56,203.68 403.56,204.31 C403.56,204.95 404.71,205.68 404.66,206.11 C404.61,206.55 403.49,206.78 403.26,206.91Z" fill="#a8cde6" stroke="#222" stroke-width="0.45"/>
<line x1="417.58" y1="206.91" x2="417.58" y2="200.91" stroke="#333" stroke-width="0.55"/>
<path d="M418.58,206.91 C418.51,206.66 418.30,205.91 418.18,205.41 C418.06,204.91 418.03,204.16 417.88,203.91 C417.73,203.66 417.43,203.66 417.28,203.91 C417.13,204.16 417.10,204.91 416.98,205.41 C416.86,205.91 416.65,206.66 416.58,206.91Z" fill="#ea6068" stroke="#222" stroke-width="0.45"/>
<line x1="429.30" y1="206.91" x2="429.30" y2="199.31" stroke="#444" stroke-width="0.6"/>
<line x1="441.02" y1="206.91" x2="441.02" y2="196.71" stroke="#444" stroke-width="0.6"/>
<line x1="246.60" y1="206.91" x2="448.30" y2="206.91" stroke="#111" stroke-width="1.3"/>
<text x="234.20" y="217.49" font-size="8.0" text-anchor="end" textLength="28.41" lengthAdjust="spacingAndGlyphs" font-style="italic" fill="#333" stroke="#333" stroke-width="0.22">FCER1A</text>
<text x="240.30" y="210.01" font-size="8.6" text-anchor="end" fill="#333" stroke="#333" stroke-width="0.22">4</text>
<line x1="243.60" y1="206.91" x2="246.60" y2="206.91" stroke="#222" stroke-width="0.9"/>
<line x1="253.50" y1="222.46" x2="253.50" y2="212.26" stroke="#444" stroke-width="0.6"/>
<line x1="265.22" y1="222.46" x2="265.22" y2="215.76" stroke="#444" stroke-width="0.6"/>
<line x1="276.94" y1="222.46" x2="276.94" y2="211.46" stroke="#444" stroke-width="0.6"/>
<line x1="288.66" y1="222.46" x2="288.66" y2="210.46" stroke="#333" stroke-width="0.55"/>
<path d="M291.86,222.46 C291.86,222.04 291.96,220.79 291.86,219.96 C291.76,219.13 291.56,218.29 291.26,217.46 C290.96,216.63 290.44,215.71 290.06,214.96 C289.68,214.21 289.24,213.29 288.96,212.96 C288.68,212.63 288.64,212.63 288.36,212.96 C288.08,213.29 287.64,214.21 287.26,214.96 C286.88,215.71 286.36,216.63 286.06,217.46 C285.76,218.29 285.56,219.13 285.46,219.96 C285.36,220.79 285.46,222.04 285.46,222.46Z" fill="#f4a3a3" stroke="#222" stroke-width="0.45"/>
<line x1="300.38" y1="222.46" x2="300.38" y2="214.76" stroke="#444" stroke-width="0.6"/>
<line x1="312.10" y1="222.46" x2="312.10" y2="220.56" stroke="#444" stroke-width="0.6"/>
<line x1="323.82" y1="222.46" x2="323.82" y2="220.56" stroke="#444" stroke-width="0.6"/>
<line x1="335.54" y1="222.46" x2="335.54" y2="218.66" stroke="#444" stroke-width="0.6"/>
<line x1="347.26" y1="222.46" x2="347.26" y2="216.76" stroke="#444" stroke-width="0.6"/>
<line x1="358.98" y1="222.46" x2="358.98" y2="215.66" stroke="#444" stroke-width="0.6"/>
<line x1="382.42" y1="222.46" x2="382.42" y2="209.96" stroke="#333" stroke-width="0.55"/>
<path d="M387.02,222.46 C386.85,222.29 386.29,221.88 386.02,221.46 C385.75,221.04 385.29,220.54 385.42,219.96 C385.55,219.38 386.44,218.71 386.82,217.96 C387.20,217.21 388.02,216.29 387.72,215.46 C387.42,214.63 385.84,213.71 385.02,212.96 C384.20,212.21 383.22,211.46 382.82,210.96 C382.42,210.46 382.72,210.13 382.62,209.96 C382.52,209.79 382.32,209.79 382.22,209.96 C382.12,210.13 382.42,210.46 382.02,210.96 C381.62,211.46 380.64,212.21 379.82,212.96 C379.00,213.71 377.42,214.63 377.12,215.46 C376.82,216.29 377.64,217.21 378.02,217.96 C378.40,218.71 379.29,219.38 379.42,219.96 C379.55,220.54 379.09,221.04 378.82,221.46 C378.55,221.88 377.99,222.29 377.82,222.46Z" fill="#1f73b4" stroke="#222" stroke-width="0.45"/>
<line x1="394.14" y1="222.46" x2="394.14" y2="211.46" stroke="#333" stroke-width="0.55"/>
<path d="M397.94,222.46 C397.54,222.33 395.84,222.08 395.54,221.66 C395.24,221.24 396.07,220.58 396.14,219.96 C396.21,219.34 396.11,218.63 395.94,217.96 C395.77,217.29 395.39,216.71 395.14,215.96 C394.89,215.21 394.66,213.88 394.44,213.46 C394.22,213.04 394.06,213.04 393.84,213.46 C393.62,213.88 393.39,215.21 393.14,215.96 C392.89,216.71 392.51,217.29 392.34,217.96 C392.17,218.63 392.07,219.34 392.14,219.96 C392.21,220.58 393.04,221.24 392.74,221.66 C392.44,222.08 390.74,222.33 390.34,222.46Z" fill="#eb6237" stroke="#222" stroke-width="0.45"/>
<line x1="405.86" y1="222.46" x2="405.86" y2="208.96" stroke="#333" stroke-width="0.55"/>
<path d="M406.36,222.46 C406.43,221.96 406.38,220.46 406.76,219.46 C407.14,218.46 407.94,217.46 408.66,216.46 C409.38,215.46 410.86,214.29 411.06,213.46 C411.26,212.63 410.66,212.13 409.86,211.46 C409.06,210.79 406.99,209.79 406.26,209.46 C405.53,209.13 406.19,209.13 405.46,209.46 C404.73,209.79 402.66,210.79 401.86,211.46 C401.06,212.13 400.46,212.63 400.66,213.46 C400.86,214.29 402.34,215.46 403.06,216.46 C403.78,217.46 404.58,218.46 404.96,219.46 C405.34,220.46 405.29,221.96 405.36,222.46Z" fill="#a8cde6" stroke="#222" stroke-width="0.45"/>
<line x1="417.58" y1="222.46" x2="417.58" y2="212.06" stroke="#444" stroke-width="0.6"/>
<line x1="429.30" y1="222.46" x2="429.30" y2="215.66" stroke="#444" stroke-width="0.6"/>
<line x1="441.02" y1="222.46" x2="441.02" y2="215.66" stroke="#444" stroke-width="0.6"/>
<line x1="246.60" y1="222.46" x2="448.30" y2="222.46" stroke="#111" stroke-width="1.3"/>
<text x="234.20" y="233.03" font-size="8.0" text-anchor="end" textLength="19.60" lengthAdjust="spacingAndGlyphs" font-style="italic" fill="#333" stroke="#333" stroke-width="0.22">CD1C</text>
<text x="240.30" y="225.56" font-size="8.6" text-anchor="end" fill="#333" stroke="#333" stroke-width="0.22">3</text>
<line x1="243.60" y1="222.46" x2="246.60" y2="222.46" stroke="#222" stroke-width="0.9"/>
<line x1="253.50" y1="238.01" x2="253.50" y2="236.11" stroke="#444" stroke-width="0.6"/>
<line x1="265.22" y1="238.01" x2="265.22" y2="235.51" stroke="#444" stroke-width="0.6"/>
<line x1="276.94" y1="238.01" x2="276.94" y2="234.71" stroke="#444" stroke-width="0.6"/>
<line x1="288.66" y1="238.01" x2="288.66" y2="235.51" stroke="#444" stroke-width="0.6"/>
<line x1="300.38" y1="238.01" x2="300.38" y2="235.51" stroke="#444" stroke-width="0.6"/>
<line x1="312.10" y1="238.01" x2="312.10" y2="236.71" stroke="#444" stroke-width="0.6"/>
<line x1="323.82" y1="238.01" x2="323.82" y2="234.71" stroke="#444" stroke-width="0.6"/>
<line x1="335.54" y1="238.01" x2="335.54" y2="229.31" stroke="#444" stroke-width="0.6"/>
<line x1="347.26" y1="238.01" x2="347.26" y2="229.51" stroke="#444" stroke-width="0.6"/>
<line x1="358.98" y1="238.01" x2="358.98" y2="225.31" stroke="#444" stroke-width="0.6"/>
<line x1="370.70" y1="238.01" x2="370.70" y2="233.31" stroke="#444" stroke-width="0.6"/>
<line x1="382.42" y1="238.01" x2="382.42" y2="225.71" stroke="#444" stroke-width="0.6"/>
<line x1="394.14" y1="238.01" x2="394.14" y2="233.31" stroke="#444" stroke-width="0.6"/>
<line x1="405.86" y1="238.01" x2="405.86" y2="224.01" stroke="#333" stroke-width="0.55"/>
<path d="M408.46,238.01 C408.43,237.67 408.43,236.84 408.26,236.01 C408.09,235.17 407.73,234.17 407.46,233.01 C407.19,231.84 406.88,230.34 406.66,229.01 C406.44,227.67 406.34,225.67 406.16,225.01 C405.98,224.34 405.74,224.34 405.56,225.01 C405.38,225.67 405.28,227.67 405.06,229.01 C404.84,230.34 404.53,231.84 404.26,233.01 C403.99,234.17 403.63,235.17 403.46,236.01 C403.29,236.84 403.29,237.67 403.26,238.01Z" fill="#a8cde6" stroke="#222" stroke-width="0.45"/>
<line x1="417.58" y1="238.01" x2="417.58" y2="227.41" stroke="#444" stroke-width="0.6"/>
<line x1="429.30" y1="238.01" x2="429.30" y2="230.61" stroke="#444" stroke-width="0.6"/>
<line x1="441.02" y1="238.01" x2="441.02" y2="230.61" stroke="#444" stroke-width="0.6"/>
<line x1="246.60" y1="238.01" x2="448.30" y2="238.01" stroke="#111" stroke-width="1.3"/>
<text x="234.20" y="248.58" font-size="8.0" text-anchor="end" textLength="12.54" lengthAdjust="spacingAndGlyphs" font-style="italic" fill="#333" stroke="#333" stroke-width="0.22">LYZ</text>
<text x="240.30" y="241.11" font-size="8.6" text-anchor="end" fill="#333" stroke="#333" stroke-width="0.22">7</text>
<line x1="243.60" y1="238.01" x2="246.60" y2="238.01" stroke="#222" stroke-width="0.9"/>
<line x1="253.50" y1="253.56" x2="253.50" y2="244.56" stroke="#444" stroke-width="0.6"/>
<line x1="265.22" y1="253.56" x2="265.22" y2="244.56" stroke="#444" stroke-width="0.6"/>
<line x1="276.94" y1="253.56" x2="276.94" y2="241.06" stroke="#333" stroke-width="0.55"/>
<path d="M280.14,253.56 C280.11,253.22 280.14,252.22 279.94,251.56 C279.74,250.89 279.14,250.22 278.94,249.56 C278.74,248.89 278.47,248.22 278.74,247.56 C279.01,246.89 280.01,246.22 280.54,245.56 C281.07,244.89 282.11,244.14 281.94,243.56 C281.77,242.97 280.31,242.47 279.54,242.06 C278.77,241.64 277.84,241.22 277.34,241.06 C276.84,240.89 277.04,240.89 276.54,241.06 C276.04,241.22 275.11,241.64 274.34,242.06 C273.57,242.47 272.11,242.97 271.94,243.56 C271.77,244.14 272.81,244.89 273.34,245.56 C273.87,246.22 274.87,246.89 275.14,247.56 C275.41,248.22 275.14,248.89 274.94,249.56 C274.74,250.22 274.14,250.89 273.94,251.56 C273.74,252.22 273.77,253.22 273.74,253.56Z" fill="#66a898" stroke="#222" stroke-width="0.45"/>
<line x1="288.66" y1="253.56" x2="288.66" y2="244.56" stroke="#333" stroke-width="0.55"/>
<path d="M289.66,253.56 C289.69,253.31 289.98,252.56 289.86,252.06 C289.74,251.56 289.21,250.81 288.96,250.56 C288.71,250.31 288.61,250.31 288.36,250.56 C288.11,250.81 287.58,251.56 287.46,252.06 C287.34,252.56 287.63,253.31 287.66,253.56Z" fill="#f4a3a3" stroke="#222" stroke-width="0.45"/>
<line x1="300.38" y1="253.56" x2="300.38" y2="243.56" stroke="#444" stroke-width="0.6"/>
<line x1="312.10" y1="253.56" x2="312.10" y2="247.36" stroke="#444" stroke-width="0.6"/>
<line x1="323.82" y1="253.56" x2="323.82" y2="243.56" stroke="#333" stroke-width="0.55"/>
<path d="M326.42,253.56 C326.32,253.22 326.17,252.22 325.82,251.56 C325.47,250.89 324.74,249.89 324.32,249.56 C323.90,249.22 323.74,249.22 323.32,249.56 C322.90,249.89 322.17,250.89 321.82,251.56 C321.47,252.22 321.32,253.22 321.22,253.56Z" fill="#e41a1c" stroke="#222" stroke-width="0.45"/>
<line x1="335.54" y1="253.56" x2="335.54" y2="244.56" stroke="#333" stroke-width="0.55"/>
<path d="M337.04,253.56 C337.16,253.14 337.79,251.81 337.74,251.06 C337.69,250.31 337.06,249.72 336.74,249.06 C336.42,248.39 336.09,247.39 335.84,247.06 C335.59,246.72 335.49,246.72 335.24,247.06 C334.99,247.39 334.66,248.39 334.34,249.06 C334.02,249.72 333.39,250.31 333.34,251.06 C333.29,251.81 333.92,253.14 334.04,253.56Z" fill="#fb9a38" stroke="#222" stroke-width="0.45"/>
<line x1="347.26" y1="253.56" x2="347.26" y2="246.56" stroke="#333" stroke-width="0.55"/>
<path d="M348.26,253.56 C348.43,253.14 349.19,251.81 349.26,251.06 C349.33,250.31 348.94,249.72 348.66,249.06 C348.38,248.39 347.84,247.39 347.56,247.06 C347.28,246.72 347.24,246.72 346.96,247.06 C346.68,247.39 346.14,248.39 345.86,249.06 C345.58,249.72 345.19,250.31 345.26,251.06 C345.33,251.81 346.09,253.14 346.26,253.56Z" fill="#8f9a52" stroke="#222" stroke-width="0.45"/>
<line x1="358.98" y1="253.56" x2="358.98" y2="245.56" stroke="#333" stroke-width="0.55"/>
<path d="M359.98,253.56 C360.25,253.06 361.45,251.39 361.58,250.56 C361.71,249.72 361.16,249.31 360.78,248.56 C360.40,247.81 359.63,246.47 359.28,246.06 C358.93,245.64 359.03,245.64 358.68,246.06 C358.33,246.47 357.56,247.81 357.18,248.56 C356.80,249.31 356.25,249.72 356.38,250.56 C356.51,251.39 357.71,253.06 357.98,253.56Z" fill="#67b04b" stroke="#222" stroke-width="0.45"/>
<line x1="370.70" y1="253.56" x2="370.70" y2="250.06" stroke="#333" stroke-width="0.55"/>
<path d="M373.50,253.56 C373.53,253.31 373.92,252.47 373.70,252.06 C373.48,251.64 372.65,251.34 372.20,251.06 C371.75,250.77 371.30,250.47 371.00,250.36 C370.70,250.24 370.70,250.24 370.40,250.36 C370.10,250.47 369.65,250.77 369.20,251.06 C368.75,251.34 367.92,251.64 367.70,252.06 C367.48,252.47 367.87,253.31 367.90,253.56Z" fill="#fdbf6f" stroke="#222" stroke-width="0.45"/>
<line x1="382.42" y1="253.56" x2="382.42" y2="240.56" stroke="#333" stroke-width="0.55"/>
<path d="M383.42,253.56 C383.45,252.89 383.19,250.72 383.62,249.56 C384.05,248.39 385.35,247.39 386.02,246.56 C386.69,245.72 387.85,245.22 387.62,244.56 C387.39,243.89 385.44,243.14 384.62,242.56 C383.80,241.97 383.14,241.31 382.72,241.06 C382.30,240.81 382.54,240.81 382.12,241.06 C381.70,241.31 381.04,241.97 380.22,242.56 C379.40,243.14 377.45,243.89 377.22,244.56 C376.99,245.22 378.15,245.72 378.82,246.56 C379.49,247.39 380.79,248.39 381.22,249.56 C381.65,250.72 381.39,252.89 381.42,253.56Z" fill="#1f73b4" stroke="#222" stroke-width="0.45"/>
<line x1="394.14" y1="253.56" x2="394.14" y2="242.56" stroke="#333" stroke-width="0.55"/>
<path d="M395.14,253.56 C395.07,253.31 394.86,252.56 394.74,252.06 C394.62,251.56 394.59,250.81 394.44,250.56 C394.29,250.31 393.99,250.31 393.84,250.56 C393.69,250.81 393.66,251.56 393.54,252.06 C393.42,252.56 393.21,253.31 393.14,253.56Z" fill="#eb6237" stroke="#222" stroke-width="0.45"/>
<line x1="405.86" y1="253.56" x2="405.86" y2="240.36" stroke="#333" stroke-width="0.55"/>
<path d="M406.36,253.56 C406.38,252.89 406.24,250.61 406.46,249.56 C406.68,248.50 406.93,248.17 407.66,247.25 C408.39,246.34 410.89,245.00 410.86,244.06 C410.83,243.11 408.24,242.17 407.46,241.56 C406.68,240.94 406.48,240.56 406.16,240.36 C405.84,240.16 405.88,240.16 405.56,240.36 C405.24,240.56 405.04,240.94 404.26,241.56 C403.48,242.17 400.89,243.11 400.86,244.06 C400.83,245.00 403.33,246.34 404.06,247.25 C404.79,248.17 405.04,248.50 405.26,249.56 C405.48,250.61 405.34,252.89 405.36,253.56Z" fill="#a8cde6" stroke="#222" stroke-width="0.45"/>
<line x1="417.58" y1="253.56" x2="417.58" y2="239.56" stroke="#333" stroke-width="0.55"/>
<path d="M418.08,253.56 C418.08,252.56 417.90,248.99 418.08,247.56 C418.26,246.12 418.38,245.76 419.18,244.96 C419.98,244.16 422.91,243.42 422.88,242.75 C422.85,242.09 419.81,241.41 418.98,240.96 C418.15,240.51 418.16,240.21 417.88,240.06 C417.60,239.91 417.56,239.91 417.28,240.06 C417.00,240.21 417.01,240.51 416.18,240.96 C415.35,241.41 412.31,242.09 412.28,242.75 C412.25,243.42 415.18,244.16 415.98,244.96 C416.78,245.76 416.90,246.12 417.08,247.56 C417.26,248.99 417.08,252.56 417.08,253.56Z" fill="#ea6068" stroke="#222" stroke-width="0.45"/>
<line x1="429.30" y1="253.56" x2="429.30" y2="244.56" stroke="#333" stroke-width="0.55"/>
<path d="M431.90,253.56 C431.67,253.39 430.55,252.99 430.50,252.56 C430.45,252.12 431.62,251.52 431.60,250.96 C431.58,250.39 430.73,249.81 430.40,249.16 C430.07,248.50 429.83,247.41 429.60,247.06 C429.37,246.71 429.23,246.71 429.00,247.06 C428.77,247.41 428.53,248.50 428.20,249.16 C427.87,249.81 427.02,250.39 427.00,250.96 C426.98,251.52 428.15,252.12 428.10,252.56 C428.05,252.99 426.93,253.39 426.70,253.56Z" fill="#ff7f0e" stroke="#222" stroke-width="0.45"/>
<line x1="441.02" y1="253.56" x2="441.02" y2="246.06" stroke="#333" stroke-width="0.55"/>
<path d="M444.02,253.56 C443.77,253.39 442.54,253.06 442.52,252.56 C442.50,252.06 443.90,251.22 443.92,250.56 C443.94,249.89 443.05,249.22 442.62,248.56 C442.19,247.89 441.64,246.89 441.32,246.56 C441.00,246.22 441.04,246.22 440.72,246.56 C440.40,246.89 439.85,247.89 439.42,248.56 C438.99,249.22 438.10,249.89 438.12,250.56 C438.14,251.22 439.54,252.06 439.52,252.56 C439.50,253.06 438.27,253.39 438.02,253.56Z" fill="#d9956a" stroke="#222" stroke-width="0.45"/>
<line x1="246.60" y1="253.56" x2="448.30" y2="253.56" stroke="#111" stroke-width="1.3"/>
<text x="234.20" y="264.13" font-size="8.0" text-anchor="end" textLength="18.41" lengthAdjust="spacingAndGlyphs" font-style="italic" fill="#333" stroke="#333" stroke-width="0.22">CD14</text>
<text x="240.30" y="256.66" font-size="8.6" text-anchor="end" fill="#333" stroke="#333" stroke-width="0.22">5</text>
<line x1="243.60" y1="253.56" x2="246.60" y2="253.56" stroke="#222" stroke-width="0.9"/>
<line x1="253.50" y1="269.10" x2="253.50" y2="261.80" stroke="#444" stroke-width="0.6"/>
<line x1="265.22" y1="269.10" x2="265.22" y2="265.60" stroke="#444" stroke-width="0.6"/>
<line x1="276.94" y1="269.10" x2="276.94" y2="259.10" stroke="#444" stroke-width="0.6"/>
<line x1="288.66" y1="269.10" x2="288.66" y2="265.60" stroke="#444" stroke-width="0.6"/>
<line x1="300.38" y1="269.10" x2="300.38" y2="266.20" stroke="#444" stroke-width="0.6"/>
<line x1="312.10" y1="269.10" x2="312.10" y2="263.70" stroke="#444" stroke-width="0.6"/>
<line x1="323.82" y1="269.10" x2="323.82" y2="263.70" stroke="#444" stroke-width="0.6"/>
<line x1="335.54" y1="269.10" x2="335.54" y2="261.80" stroke="#444" stroke-width="0.6"/>
<line x1="347.26" y1="269.10" x2="347.26" y2="263.80" stroke="#444" stroke-width="0.6"/>
<line x1="358.98" y1="269.10" x2="358.98" y2="263.20" stroke="#444" stroke-width="0.6"/>
<line x1="370.70" y1="269.10" x2="370.70" y2="267.40" stroke="#444" stroke-width="0.6"/>
<line x1="382.42" y1="269.10" x2="382.42" y2="263.20" stroke="#444" stroke-width="0.6"/>
<line x1="394.14" y1="269.10" x2="394.14" y2="260.20" stroke="#444" stroke-width="0.6"/>
<line x1="405.86" y1="269.10" x2="405.86" y2="260.10" stroke="#333" stroke-width="0.55"/>
<path d="M406.86,269.10 C406.84,268.60 406.84,267.10 406.76,266.10 C406.68,265.10 406.48,264.02 406.36,263.10 C406.24,262.19 406.18,261.02 406.06,260.60 C405.94,260.19 405.78,260.19 405.66,260.60 C405.54,261.02 405.48,262.19 405.36,263.10 C405.24,264.02 405.04,265.10 404.96,266.10 C404.88,267.10 404.88,268.60 404.86,269.10Z" fill="#a8cde6" stroke="#222" stroke-width="0.45"/>
<line x1="417.58" y1="269.10" x2="417.58" y2="258.10" stroke="#333" stroke-width="0.55"/>
<path d="M418.38,269.10 C418.75,268.60 419.88,267.10 420.58,266.10 C421.28,265.10 422.58,264.02 422.58,263.10 C422.58,262.19 421.36,261.35 420.58,260.60 C419.80,259.85 418.43,258.94 417.88,258.60 C417.33,258.27 417.83,258.27 417.28,258.60 C416.73,258.94 415.36,259.85 414.58,260.60 C413.80,261.35 412.58,262.19 412.58,263.10 C412.58,264.02 413.88,265.10 414.58,266.10 C415.28,267.10 416.41,268.60 416.78,269.10Z" fill="#ea6068" stroke="#222" stroke-width="0.45"/>
<line x1="429.30" y1="269.10" x2="429.30" y2="263.20" stroke="#444" stroke-width="0.6"/>
<line x1="441.02" y1="269.10" x2="441.02" y2="263.20" stroke="#444" stroke-width="0.6"/>
<line x1="246.60" y1="269.10" x2="448.30" y2="269.10" stroke="#111" stroke-width="1.3"/>
<text x="234.20" y="279.68" font-size="8.0" text-anchor="end" textLength="19.21" lengthAdjust="spacingAndGlyphs" font-style="italic" fill="#333" stroke="#333" stroke-width="0.22">CD3E</text>
<text x="240.30" y="272.20" font-size="8.6" text-anchor="end" fill="#333" stroke="#333" stroke-width="0.22">4</text>
<line x1="243.60" y1="269.10" x2="246.60" y2="269.10" stroke="#222" stroke-width="0.9"/>
<line x1="253.50" y1="284.65" x2="253.50" y2="279.85" stroke="#444" stroke-width="0.6"/>
<line x1="265.22" y1="284.65" x2="265.22" y2="278.45" stroke="#444" stroke-width="0.6"/>
<line x1="276.94" y1="284.65" x2="276.94" y2="280.45" stroke="#444" stroke-width="0.6"/>
<line x1="288.66" y1="284.65" x2="288.66" y2="281.75" stroke="#444" stroke-width="0.6"/>
<line x1="300.38" y1="284.65" x2="300.38" y2="277.35" stroke="#444" stroke-width="0.6"/>
<line x1="312.10" y1="284.65" x2="312.10" y2="279.25" stroke="#444" stroke-width="0.6"/>
<line x1="323.82" y1="284.65" x2="323.82" y2="278.85" stroke="#444" stroke-width="0.6"/>
<line x1="335.54" y1="284.65" x2="335.54" y2="276.95" stroke="#444" stroke-width="0.6"/>
<line x1="347.26" y1="284.65" x2="347.26" y2="275.75" stroke="#444" stroke-width="0.6"/>
<line x1="358.98" y1="284.65" x2="358.98" y2="277.85" stroke="#444" stroke-width="0.6"/>
<line x1="382.42" y1="284.65" x2="382.42" y2="279.95" stroke="#444" stroke-width="0.6"/>
<line x1="394.14" y1="284.65" x2="394.14" y2="276.85" stroke="#444" stroke-width="0.6"/>
<line x1="405.86" y1="284.65" x2="405.86" y2="281.05" stroke="#444" stroke-width="0.6"/>
<line x1="417.58" y1="284.65" x2="417.58" y2="275.75" stroke="#444" stroke-width="0.6"/>
<line x1="429.30" y1="284.65" x2="429.30" y2="271.65" stroke="#333" stroke-width="0.55"/>
<path d="M429.90,284.65 C430.23,284.15 431.13,282.82 431.90,281.65 C432.67,280.48 434.47,278.82 434.50,277.65 C434.53,276.48 432.92,275.57 432.10,274.65 C431.28,273.73 430.12,272.57 429.60,272.15 C429.08,271.73 429.52,271.73 429.00,272.15 C428.48,272.57 427.32,273.73 426.50,274.65 C425.68,275.57 424.07,276.48 424.10,277.65 C424.13,278.82 425.93,280.48 426.70,281.65 C427.47,282.82 428.37,284.15 428.70,284.65Z" fill="#ff7f0e" stroke="#222" stroke-width="0.45"/>
<line x1="441.02" y1="284.65" x2="441.02" y2="273.65" stroke="#444" stroke-width="0.6"/>
<line x1="246.60" y1="284.65" x2="448.30" y2="284.65" stroke="#111" stroke-width="1.3"/>
<text x="234.20" y="295.22" font-size="8.0" text-anchor="end" textLength="18.95" lengthAdjust="spacingAndGlyphs" font-style="italic" fill="#333" stroke="#333" stroke-width="0.22">GNLY</text>
<text x="240.30" y="287.75" font-size="8.6" text-anchor="end" fill="#333" stroke="#333" stroke-width="0.22">6</text>
<line x1="243.60" y1="284.65" x2="246.60" y2="284.65" stroke="#222" stroke-width="0.9"/>
<line x1="253.50" y1="300.20" x2="253.50" y2="295.00" stroke="#444" stroke-width="0.6"/>
<line x1="265.22" y1="300.20" x2="265.22" y2="293.10" stroke="#444" stroke-width="0.6"/>
<line x1="276.94" y1="300.20" x2="276.94" y2="295.60" stroke="#444" stroke-width="0.6"/>
<line x1="288.66" y1="300.20" x2="288.66" y2="296.00" stroke="#444" stroke-width="0.6"/>
<line x1="300.38" y1="300.20" x2="300.38" y2="296.90" stroke="#444" stroke-width="0.6"/>
<line x1="312.10" y1="300.20" x2="312.10" y2="295.60" stroke="#444" stroke-width="0.6"/>
<line x1="323.82" y1="300.20" x2="323.82" y2="291.70" stroke="#444" stroke-width="0.6"/>
<line x1="335.54" y1="300.20" x2="335.54" y2="290.60" stroke="#444" stroke-width="0.6"/>
<line x1="347.26" y1="300.20" x2="347.26" y2="294.70" stroke="#444" stroke-width="0.6"/>
<line x1="358.98" y1="300.20" x2="358.98" y2="291.10" stroke="#444" stroke-width="0.6"/>
<line x1="382.42" y1="300.20" x2="382.42" y2="294.30" stroke="#444" stroke-width="0.6"/>
<line x1="394.14" y1="300.20" x2="394.14" y2="287.90" stroke="#444" stroke-width="0.6"/>
<line x1="405.86" y1="300.20" x2="405.86" y2="294.30" stroke="#444" stroke-width="0.6"/>
<line x1="417.58" y1="300.20" x2="417.58" y2="289.00" stroke="#444" stroke-width="0.6"/>
<line x1="429.30" y1="300.20" x2="429.30" y2="284.80" stroke="#444" stroke-width="0.6"/>
<line x1="441.02" y1="300.20" x2="441.02" y2="286.70" stroke="#333" stroke-width="0.55"/>
<path d="M441.62,300.20 C441.64,299.53 441.45,297.45 441.72,296.20 C441.99,294.95 442.50,293.78 443.22,292.70 C443.94,291.61 445.89,290.45 446.02,289.70 C446.15,288.95 444.80,288.61 444.02,288.20 C443.24,287.78 441.87,287.36 441.32,287.20 C440.77,287.03 441.27,287.03 440.72,287.20 C440.17,287.36 438.80,287.78 438.02,288.20 C437.24,288.61 435.89,288.95 436.02,289.70 C436.15,290.45 438.10,291.61 438.82,292.70 C439.54,293.78 440.05,294.95 440.32,296.20 C440.59,297.45 440.40,299.53 440.42,300.20Z" fill="#d9956a" stroke="#222" stroke-width="0.45"/>
<line x1="246.60" y1="300.20" x2="448.30" y2="300.20" stroke="#111" stroke-width="1.3"/>
<line x1="246.60" y1="20.05" x2="246.60" y2="300.70" stroke="#111" stroke-width="1.0"/>
<line x1="253.50" y1="300.20" x2="253.50" y2="303.20" stroke="#222" stroke-width="0.9"/>
<text x="255.80" y="310.80" font-size="7.2" text-anchor="end" fill="#333" stroke="#333" stroke-width="0.22" transform="rotate(-45 255.80 310.80)">HSC/MPP</text>
<line x1="265.22" y1="300.20" x2="265.22" y2="303.20" stroke="#222" stroke-width="0.9"/>
<text x="267.52" y="310.80" font-size="7.2" text-anchor="end" fill="#333" stroke="#333" stroke-width="0.22" transform="rotate(-45 267.52 310.80)">LMPP</text>
<line x1="276.94" y1="300.20" x2="276.94" y2="303.20" stroke="#222" stroke-width="0.9"/>
<text x="279.24" y="310.80" font-size="7.2" text-anchor="end" fill="#333" stroke="#333" stroke-width="0.22" transform="rotate(-45 279.24 310.80)">GMP</text>
<line x1="288.66" y1="300.20" x2="288.66" y2="303.20" stroke="#222" stroke-width="0.9"/>
<text x="290.96" y="310.80" font-size="7.2" text-anchor="end" fill="#333" stroke="#333" stroke-width="0.22" transform="rotate(-45 290.96 310.80)">MEP</text>
<line x1="300.38" y1="300.20" x2="300.38" y2="303.20" stroke="#222" stroke-width="0.9"/>
<text x="302.68" y="310.80" font-size="7.2" text-anchor="end" fill="#333" stroke="#333" stroke-width="0.22" transform="rotate(-45 302.68 310.80)">CLP</text>
<line x1="312.10" y1="300.20" x2="312.10" y2="303.20" stroke="#222" stroke-width="0.9"/>
<text x="314.40" y="310.80" font-size="7.2" text-anchor="end" fill="#333" stroke="#333" stroke-width="0.22" transform="rotate(-45 314.40 310.80)">Pre−pro−B</text>
<line x1="323.82" y1="300.20" x2="323.82" y2="303.20" stroke="#222" stroke-width="0.9"/>
<text x="326.12" y="310.80" font-size="7.2" text-anchor="end" fill="#333" stroke="#333" stroke-width="0.22" transform="rotate(-45 326.12 310.80)">Pro−B</text>
<line x1="335.54" y1="300.20" x2="335.54" y2="303.20" stroke="#222" stroke-width="0.9"/>
<text x="337.84" y="310.80" font-size="7.2" text-anchor="end" fill="#333" stroke="#333" stroke-width="0.22" transform="rotate(-45 337.84 310.80)">Pre−B</text>
<line x1="347.26" y1="300.20" x2="347.26" y2="303.20" stroke="#222" stroke-width="0.9"/>
<text x="349.56" y="310.80" font-size="7.2" text-anchor="end" fill="#333" stroke="#333" stroke-width="0.22" transform="rotate(-45 349.56 310.80)">Immature−B</text>
<line x1="358.98" y1="300.20" x2="358.98" y2="303.20" stroke="#222" stroke-width="0.9"/>
<text x="361.28" y="310.80" font-size="7.2" text-anchor="end" fill="#333" stroke="#333" stroke-width="0.22" transform="rotate(-45 361.28 310.80)">Mature−B</text>
<line x1="370.70" y1="300.20" x2="370.70" y2="303.20" stroke="#222" stroke-width="0.9"/>
<text x="373.00" y="310.80" font-size="7.2" text-anchor="end" fill="#333" stroke="#333" stroke-width="0.22" transform="rotate(-45 373.00 310.80)">Plasma−B</text>
<line x1="382.42" y1="300.20" x2="382.42" y2="303.20" stroke="#222" stroke-width="0.9"/>
<text x="384.72" y="310.80" font-size="7.2" text-anchor="end" fill="#333" stroke="#333" stroke-width="0.22" transform="rotate(-45 384.72 310.80)">DC−Prog.</text>
<line x1="394.14" y1="300.20" x2="394.14" y2="303.20" stroke="#222" stroke-width="0.9"/>
<text x="396.44" y="310.80" font-size="7.2" text-anchor="end" fill="#333" stroke="#333" stroke-width="0.22" transform="rotate(-45 396.44 310.80)">pDC</text>
<line x1="405.86" y1="300.20" x2="405.86" y2="303.20" stroke="#222" stroke-width="0.9"/>
<text x="408.16" y="310.80" font-size="7.2" text-anchor="end" fill="#333" stroke="#333" stroke-width="0.22" transform="rotate(-45 408.16 310.80)">cDC</text>
<line x1="417.58" y1="300.20" x2="417.58" y2="303.20" stroke="#222" stroke-width="0.9"/>
<text x="419.88" y="310.80" font-size="7.2" text-anchor="end" fill="#333" stroke="#333" stroke-width="0.22" transform="rotate(-45 419.88 310.80)">Monocyte</text>
<line x1="429.30" y1="300.20" x2="429.30" y2="303.20" stroke="#222" stroke-width="0.9"/>
<text x="431.60" y="310.80" font-size="7.2" text-anchor="end" fill="#333" stroke="#333" stroke-width="0.22" transform="rotate(-45 431.60 310.80)">T</text>
<line x1="441.02" y1="300.20" x2="441.02" y2="303.20" stroke="#222" stroke-width="0.9"/>
<text x="443.32" y="310.80" font-size="7.2" text-anchor="end" fill="#333" stroke="#333" stroke-width="0.22" transform="rotate(-45 443.32 310.80)">NK</text>
<circle cx="459.70" cy="97.90" r="1.75" fill="#a9d98b"/>
<text x="463.30" y="100.10" font-size="6.5" textLength="32.60" lengthAdjust="spacingAndGlyphs" fill="#333" stroke="#333" stroke-width="0.22">HSC/MPP</text>
<circle cx="459.70" cy="105.36" r="1.75" fill="#33a02c"/>
<text x="463.30" y="107.56" font-size="6.5" textLength="18.80" lengthAdjust="spacingAndGlyphs" fill="#333" stroke="#333" stroke-width="0.22">LMPP</text>
<circle cx="459.70" cy="112.82" r="1.75" fill="#5e9fd4"/>
<text x="463.30" y="115.02" font-size="6.5" textLength="13.50" lengthAdjust="spacingAndGlyphs" fill="#333" stroke="#333" stroke-width="0.22">CLP</text>
<circle cx="459.70" cy="120.28" r="1.75" fill="#c2aed6"/>
<text x="463.30" y="122.48" font-size="6.5" textLength="34.40" lengthAdjust="spacingAndGlyphs" fill="#333" stroke="#333" stroke-width="0.22">Pre−pro−B</text>
<circle cx="459.70" cy="127.74" r="1.75" fill="#e41a1c"/>
<text x="463.30" y="129.94" font-size="6.5" textLength="20.60" lengthAdjust="spacingAndGlyphs" fill="#333" stroke="#333" stroke-width="0.22">Pro−B</text>
<circle cx="459.70" cy="135.20" r="1.75" fill="#fb9a38"/>
<text x="463.30" y="137.40" font-size="6.5" textLength="20.60" lengthAdjust="spacingAndGlyphs" fill="#333" stroke="#333" stroke-width="0.22">Pre−B</text>
<circle cx="459.70" cy="142.66" r="1.75" fill="#8f9a52"/>
<text x="463.30" y="144.86" font-size="6.5" textLength="38.60" lengthAdjust="spacingAndGlyphs" fill="#333" stroke="#333" stroke-width="0.22">Immature B</text>
<circle cx="459.70" cy="150.12" r="1.75" fill="#67b04b"/>
<text x="463.30" y="152.32" font-size="6.5" textLength="30.50" lengthAdjust="spacingAndGlyphs" fill="#333" stroke="#333" stroke-width="0.22">Mature B</text>
<circle cx="459.70" cy="157.58" r="1.75" fill="#fdbf6f"/>
<text x="463.30" y="159.78" font-size="6.5" textLength="30.00" lengthAdjust="spacingAndGlyphs" fill="#333" stroke="#333" stroke-width="0.22">Plasma B</text>
<circle cx="459.70" cy="165.04" r="1.75" fill="#f4a3a3"/>
<text x="463.30" y="167.24" font-size="6.5" textLength="15.20" lengthAdjust="spacingAndGlyphs" fill="#333" stroke="#333" stroke-width="0.22">MEP</text>
<circle cx="459.70" cy="172.50" r="1.75" fill="#66a898"/>
<text x="463.30" y="174.70" font-size="6.5" textLength="16.90" lengthAdjust="spacingAndGlyphs" fill="#333" stroke="#333" stroke-width="0.22">GMP</text>
<circle cx="459.70" cy="179.96" r="1.75" fill="#1f73b4"/>
<text x="463.30" y="182.16" font-size="6.5" textLength="47.70" lengthAdjust="spacingAndGlyphs" fill="#333" stroke="#333" stroke-width="0.22">DC progenitor</text>
<circle cx="459.70" cy="187.42" r="1.75" fill="#eb6237"/>
<text x="463.30" y="189.62" font-size="6.5" textLength="14.80" lengthAdjust="spacingAndGlyphs" fill="#333" stroke="#333" stroke-width="0.22">pDC</text>
<circle cx="459.70" cy="194.88" r="1.75" fill="#a8cde6"/>
<text x="463.30" y="197.08" font-size="6.5" textLength="13.80" lengthAdjust="spacingAndGlyphs" fill="#333" stroke="#333" stroke-width="0.22">cDC</text>
<circle cx="459.70" cy="202.34" r="1.75" fill="#e8595c"/>
<text x="463.30" y="204.54" font-size="6.5" textLength="33.20" lengthAdjust="spacingAndGlyphs" fill="#333" stroke="#333" stroke-width="0.22">Monocyte</text>
<circle cx="459.70" cy="209.80" r="1.75" fill="#d9956a"/>
<text x="463.30" y="212.00" font-size="6.5" textLength="10.20" lengthAdjust="spacingAndGlyphs" fill="#333" stroke="#333" stroke-width="0.22">NK</text>
<circle cx="459.70" cy="217.26" r="1.75" fill="#ff7f0e"/>
<text x="463.30" y="219.46" font-size="6.5" fill="#333" stroke="#333" stroke-width="0.22">T</text>
<text x="69.30" y="380.60" font-size="7.6" text-anchor="middle" fill="#222" textLength="48.00" lengthAdjust="spacingAndGlyphs"><tspan font-style="italic">KMT2A-r</tspan> 1154</text>
<text x="158.80" y="380.20" font-size="7.6" text-anchor="middle" fill="#222" textLength="48.40" lengthAdjust="spacingAndGlyphs"><tspan font-style="italic">KMT2A-r</tspan> 1154</text>
<path d="M33.3,387.9 C33.6,387.1 35.1,386.2 36.2,386.3 C37.3,386.4 38.6,387.5 40.0,388.2 C41.4,388.9 43.3,390.3 44.6,390.6 C45.9,390.9 46.6,390.5 47.7,390.0 C48.9,389.5 50.2,388.4 51.5,387.8 C52.8,387.2 54.0,386.5 55.4,386.2 C56.8,385.9 58.8,385.6 60.0,385.8 C61.2,386.0 61.9,386.6 62.4,387.6 C62.9,388.6 63.0,390.4 62.9,392.0 C62.8,393.6 62.1,395.7 61.7,397.4 C61.4,399.1 61.2,400.8 60.8,402.0 C60.4,403.2 59.6,403.5 59.4,404.5 C59.2,405.5 59.1,407.1 59.6,408.2 C60.1,409.3 61.2,410.2 62.3,411.2 C63.4,412.2 64.9,413.1 66.2,414.3 C67.5,415.5 69.0,417.1 70.0,418.2 C71.0,419.3 72.1,420.1 72.2,420.8 C72.3,421.5 71.7,422.5 70.5,422.2 C69.3,421.9 66.8,419.6 65.0,418.8 C63.2,418.0 61.1,417.0 60.0,417.2 C58.9,417.4 59.0,418.8 58.6,420.0 C58.2,421.2 58.0,422.8 57.8,424.6 C57.6,426.4 57.0,428.8 57.2,430.8 C57.4,432.9 58.0,435.1 58.8,436.9 C59.6,438.7 60.8,440.2 61.8,441.5 C62.8,442.8 64.6,443.8 64.9,444.6 C65.2,445.4 64.4,445.6 63.4,446.4 C62.4,447.2 60.3,448.4 58.8,449.4 C57.3,450.4 55.8,451.7 54.2,452.5 C52.7,453.3 51.3,454.0 49.5,454.0 C47.7,454.0 45.1,453.6 43.4,452.5 C41.7,451.4 40.3,449.5 39.5,447.7 C38.7,445.9 38.6,443.3 38.5,441.5 C38.4,439.7 38.6,438.7 38.8,436.9 C39.0,435.1 39.1,433.3 39.5,430.8 C39.9,428.3 40.9,424.4 41.3,422.0 C41.6,419.6 41.4,418.4 41.6,416.6 C41.8,414.8 41.9,412.7 42.3,411.2 C42.7,409.7 43.2,408.8 43.8,407.4 C44.4,406.0 45.6,404.3 45.8,402.8 C46.0,401.3 45.7,399.5 45.2,398.6 C44.8,397.7 44.1,397.9 43.1,397.2 C42.1,396.5 40.6,395.6 39.2,394.5 C37.8,393.4 35.6,391.9 34.6,390.8 C33.6,389.7 33.0,388.6 33.3,387.9Z" fill="#c9c9c9"/>
<circle cx="50.50" cy="426.50" r="1.60" fill="#f2f2f2"/>
<path d="M56.9,403.2 C57.5,402.7 59.3,404.0 60.8,404.0 C62.3,404.0 64.0,403.6 66.0,403.4 C68.0,403.2 70.3,402.6 72.5,403.0 C74.7,403.4 77.0,404.9 79.2,405.6 C81.5,406.3 84.1,407.4 86.0,407.4 C87.9,407.4 89.3,406.3 90.5,405.4 C91.7,404.5 92.4,403.0 93.2,401.8 C94.0,400.6 95.0,398.9 95.6,398.4 C96.2,397.9 96.9,397.8 97.0,398.6 C97.1,399.4 96.8,401.4 96.0,403.0 C95.2,404.6 94.2,406.9 92.5,408.2 C90.8,409.5 88.2,410.5 86.0,410.6 C83.8,410.7 81.3,409.7 79.0,409.0 C76.7,408.3 74.3,406.9 72.0,406.6 C69.7,406.3 66.9,407.1 65.0,407.3 C63.1,407.5 62.1,407.7 60.8,407.6 C59.4,407.5 57.5,407.5 56.9,406.8 C56.2,406.1 56.2,403.7 56.9,403.2Z" fill="#e0161c"/>
<path d="M89.8,395.6 C90.2,394.9 90.9,394.5 91.7,394.4 C92.5,394.3 93.8,394.4 94.6,394.9 C95.3,395.4 96.0,396.6 96.2,397.5 C96.4,398.4 96.1,399.7 95.6,400.4 C95.1,401.1 94.0,401.7 93.2,401.8 C92.4,401.9 91.4,401.4 90.8,400.9 C90.2,400.3 89.8,399.4 89.6,398.5 C89.4,397.6 89.4,396.3 89.8,395.6Z" fill="#45ad45"/>
<circle cx="96.80" cy="397.60" r="0.90" fill="#e0161c"/>
<circle cx="87.00" cy="402.40" r="0.70" fill="#e0161c"/>
<circle cx="46.52" cy="409.34" r="0.50" fill="#e0161c"/>
<circle cx="49.03" cy="410.47" r="0.50" fill="#e0161c"/>
<circle cx="53.89" cy="400.25" r="0.50" fill="#e0161c"/>
<circle cx="42.25" cy="414.91" r="0.50" fill="#e0161c"/>
<circle cx="46.93" cy="403.45" r="0.50" fill="#e0161c"/>
<circle cx="60.92" cy="407.94" r="0.50" fill="#e0161c"/>
<circle cx="57.89" cy="408.05" r="0.50" fill="#e0161c"/>
<circle cx="54.14" cy="401.86" r="0.50" fill="#e0161c"/>
<circle cx="54.06" cy="415.49" r="0.50" fill="#e0161c"/>
<circle cx="51.94" cy="413.08" r="0.50" fill="#e0161c"/>
<circle cx="54.76" cy="400.22" r="0.50" fill="#e0161c"/>
<circle cx="56.41" cy="410.23" r="0.50" fill="#e0161c"/>
<circle cx="47.72" cy="399.59" r="0.50" fill="#e0161c"/>
<circle cx="58.45" cy="407.98" r="0.50" fill="#e0161c"/>
<circle cx="55.66" cy="415.70" r="0.50" fill="#e0161c"/>
<circle cx="55.57" cy="416.50" r="0.50" fill="#e0161c"/>
<circle cx="49.50" cy="414.22" r="0.50" fill="#e0161c"/>
<circle cx="50.45" cy="416.78" r="0.50" fill="#e0161c"/>
<circle cx="58.70" cy="400.85" r="0.50" fill="#e0161c"/>
<circle cx="44.58" cy="403.12" r="0.50" fill="#e0161c"/>
<circle cx="60.34" cy="407.29" r="0.50" fill="#e0161c"/>
<circle cx="53.91" cy="404.72" r="0.50" fill="#e0161c"/>
<circle cx="51.64" cy="406.33" r="0.50" fill="#e0161c"/>
<circle cx="48.67" cy="410.12" r="0.50" fill="#e0161c"/>
<circle cx="53.10" cy="416.18" r="0.50" fill="#e0161c"/>
<circle cx="54.96" cy="416.65" r="0.50" fill="#e0161c"/>
<circle cx="58.27" cy="417.83" r="0.50" fill="#e0161c"/>
<circle cx="54.75" cy="402.10" r="0.50" fill="#e0161c"/>
<circle cx="58.35" cy="417.33" r="0.50" fill="#e0161c"/>
<circle cx="59.19" cy="409.81" r="0.50" fill="#e0161c"/>
<circle cx="55.56" cy="403.01" r="0.50" fill="#e0161c"/>
<circle cx="57.80" cy="409.90" r="0.50" fill="#e0161c"/>
<circle cx="47.41" cy="400.21" r="0.50" fill="#e0161c"/>
<circle cx="58.22" cy="417.81" r="0.50" fill="#e0161c"/>
<circle cx="43.68" cy="414.21" r="0.50" fill="#e0161c"/>
<circle cx="49.80" cy="401.86" r="0.50" fill="#e0161c"/>
<circle cx="47.58" cy="413.61" r="0.50" fill="#e0161c"/>
<circle cx="58.58" cy="399.84" r="0.50" fill="#e0161c"/>
<circle cx="50.36" cy="386.90" r="0.45" fill="#9550b0"/>
<circle cx="52.96" cy="389.48" r="0.45" fill="#9550b0"/>
<circle cx="57.02" cy="395.33" r="0.45" fill="#9550b0"/>
<circle cx="47.64" cy="395.49" r="0.45" fill="#9550b0"/>
<circle cx="42.74" cy="387.19" r="0.45" fill="#9550b0"/>
<circle cx="49.99" cy="386.78" r="0.45" fill="#9550b0"/>
<circle cx="39.93" cy="390.17" r="0.45" fill="#9550b0"/>
<circle cx="50.26" cy="387.91" r="0.45" fill="#9550b0"/>
<circle cx="57.42" cy="389.90" r="0.45" fill="#9550b0"/>
<circle cx="46.51" cy="391.18" r="0.45" fill="#9550b0"/>
<circle cx="51.10" cy="391.86" r="0.45" fill="#9550b0"/>
<circle cx="48.98" cy="392.08" r="0.45" fill="#9550b0"/>
<circle cx="58.52" cy="391.06" r="0.45" fill="#9550b0"/>
<circle cx="45.78" cy="392.98" r="0.45" fill="#9550b0"/>
<circle cx="40.94" cy="389.21" r="0.45" fill="#9550b0"/>
<circle cx="59.44" cy="391.19" r="0.45" fill="#9550b0"/>
<circle cx="48.71" cy="386.60" r="0.45" fill="#9550b0"/>
<circle cx="45.38" cy="391.72" r="0.45" fill="#9550b0"/>
<circle cx="35.50" cy="392.04" r="0.45" fill="#9550b0"/>
<circle cx="50.80" cy="387.04" r="0.45" fill="#9550b0"/>
<circle cx="50.68" cy="390.70" r="0.45" fill="#9550b0"/>
<circle cx="51.98" cy="389.67" r="0.45" fill="#9550b0"/>
<circle cx="57.50" cy="417.50" r="0.60" fill="#3a7dc0"/>
<circle cx="58.00" cy="420.00" r="0.60" fill="#3a7dc0"/>
<circle cx="57.20" cy="423.00" r="0.60" fill="#3a7dc0"/>
<circle cx="48.00" cy="430.00" r="0.60" fill="#3a7dc0"/>
<circle cx="62.50" cy="444.50" r="0.60" fill="#3a7dc0"/>
<circle cx="63.50" cy="444.80" r="0.60" fill="#3a7dc0"/>
<circle cx="44.00" cy="443.00" r="0.60" fill="#3a7dc0"/>
<path d="M83.1,436.0 C83.2,435.0 84.0,434.2 85.0,433.6 C86.0,433.0 87.5,432.8 88.8,432.1 C90.1,431.4 92.0,430.3 92.7,429.2 C93.4,428.1 92.1,426.4 92.7,425.4 C93.3,424.4 95.2,423.9 96.5,423.3 C97.8,422.7 99.2,421.8 100.4,421.8 C101.6,421.8 103.1,422.8 103.8,423.3 C104.5,423.8 105.0,424.1 104.4,424.6 C103.8,425.1 101.7,425.9 100.4,426.3 C99.1,426.8 97.5,426.7 96.5,427.3 C95.5,427.9 95.4,429.2 94.6,430.2 C93.8,431.2 92.7,432.1 91.7,433.1 C90.7,434.1 89.8,435.1 88.8,436.0 C87.8,436.9 86.8,438.2 86.0,438.8 C85.2,439.4 84.7,440.3 84.2,439.8 C83.7,439.3 83.0,437.0 83.1,436.0Z" fill="#ff8a14"/>
<path d="M96.5,427.5 C97.3,426.7 99.3,426.3 100.4,426.5 C101.5,426.7 102.6,427.4 103.0,428.5 C103.4,429.6 103.5,432.1 102.8,433.0 C102.0,433.9 99.7,434.4 98.5,434.2 C97.3,433.9 95.8,432.6 95.5,431.5 C95.2,430.4 95.7,428.3 96.5,427.5Z" fill="#c9c9c9"/>
<path d="M125.1,398.8 C125.5,397.6 125.5,396.5 126.5,395.9 C127.5,395.3 128.5,395.0 130.9,395.1 C133.3,395.2 137.9,396.1 141.0,396.6 C144.1,397.1 147.4,397.2 149.6,398.0 C151.8,398.8 152.6,400.4 154.0,401.6 C155.4,402.8 157.1,404.2 158.3,405.2 C159.5,406.2 161.0,406.8 161.2,407.4 C161.4,408.0 160.7,408.8 159.7,408.8 C158.7,408.8 156.8,408.0 155.4,407.4 C154.0,406.8 152.9,405.7 151.0,405.2 C149.1,404.7 146.2,404.4 143.8,404.5 C141.4,404.6 138.5,405.3 136.6,406.0 C134.7,406.7 133.2,407.9 132.3,408.8 C131.4,409.8 130.7,410.7 130.9,411.7 C131.2,412.7 132.1,414.2 133.8,414.6 C135.5,415.0 138.8,413.9 141.0,413.9 C143.2,413.9 146.5,414.0 146.7,414.6 C146.9,415.2 143.5,416.1 142.4,417.5 C141.3,418.9 140.7,421.4 140.2,423.3 C139.7,425.2 139.4,427.3 139.5,429.0 C139.6,430.7 140.0,432.2 141.0,433.4 C142.0,434.6 144.4,435.4 145.3,436.3 C146.2,437.2 146.7,437.9 146.7,439.1 C146.7,440.3 146.2,442.3 145.3,443.5 C144.4,444.7 142.7,445.4 141.0,446.3 C139.3,447.2 137.1,448.9 135.2,449.2 C133.3,449.4 131.3,448.8 129.4,447.8 C127.5,446.9 125.0,445.2 123.7,443.5 C122.4,441.8 121.6,439.6 121.5,437.7 C121.4,435.8 122.3,433.8 122.9,431.9 C123.5,430.0 124.8,428.6 125.1,426.2 C125.3,423.8 124.6,420.4 124.4,417.5 C124.2,414.6 123.8,411.2 123.7,408.8 C123.6,406.4 123.7,404.8 123.9,403.1 C124.1,401.4 124.7,400.0 125.1,398.8Z" fill="#c9c9c9"/>
<path d="M138.5,395 L144.5,390.5" stroke="#c9c9c9" stroke-width="1.2" fill="none"/>
<path d="M144.2,389.2 C145.1,388.4 148.1,387.0 150.0,386.3 C151.9,385.6 153.7,385.1 155.8,385.0 C157.9,384.9 160.4,385.2 162.7,385.6 C165.0,386.0 167.7,386.7 169.6,387.3 C171.5,387.9 173.6,388.3 174.2,389.0 C174.8,389.7 174.2,391.4 173.0,391.6 C171.8,391.8 169.4,390.4 167.3,390.0 C165.2,389.6 162.7,389.2 160.4,389.0 C158.1,388.8 155.6,388.8 153.5,389.0 C151.4,389.2 149.1,389.6 147.7,390.0 C146.2,390.4 145.4,391.3 144.8,391.2 C144.2,391.1 143.3,390.0 144.2,389.2Z" fill="#e0161c"/>
<path d="M170.8,388.0 C171.2,387.1 173.2,386.9 174.2,387.3 C175.1,387.7 176.3,389.4 176.5,390.4 C176.7,391.4 176.2,392.9 175.4,393.3 C174.6,393.7 172.7,393.6 171.9,392.7 C171.1,391.8 170.4,388.9 170.8,388.0Z" fill="#45ad45"/>
<circle cx="178.30" cy="391.00" r="0.70" fill="#ff8a14"/>
<circle cx="173.00" cy="395.00" r="0.80" fill="#ff8a14"/>
<path d="M173.0,415.8 C173.5,415.0 174.4,414.0 175.4,413.5 C176.4,413.0 177.8,412.7 178.8,412.9 C179.8,413.1 179.8,414.3 181.2,414.6 C182.5,414.9 185.2,414.3 186.9,414.6 C188.6,414.9 190.5,415.6 191.5,416.3 C192.5,417.0 193.1,417.8 192.7,418.7 C192.3,419.6 190.3,420.2 189.2,421.5 C188.0,422.8 186.8,424.6 185.8,426.2 C184.9,427.8 184.7,429.5 183.5,430.8 C182.3,432.1 180.6,433.4 178.8,434.2 C177.1,435.0 175.1,435.3 173.0,435.4 C170.9,435.5 167.8,435.8 166.2,434.8 C164.6,433.8 163.7,431.0 163.3,429.6 C162.9,428.2 162.9,427.0 163.8,426.2 C164.7,425.4 167.2,425.8 168.5,425.0 C169.8,424.2 171.2,422.6 171.9,421.5 C172.6,420.4 172.3,419.1 172.5,418.1 C172.7,417.2 172.5,416.6 173.0,415.8Z" fill="#c9c9c9"/>
<path d="M164.0,427.0 C164.8,426.1 167.3,425.7 168.5,426.0 C169.7,426.3 170.6,427.7 171.0,429.0 C171.4,430.3 171.6,433.0 170.8,434.0 C170.1,435.0 167.7,435.4 166.5,435.0 C165.3,434.6 164.2,432.8 163.8,431.5 C163.4,430.2 163.2,427.9 164.0,427.0Z" fill="#ff8a14"/>
<circle cx="179.47" cy="425.90" r="0.55" fill="#ff8a14"/>
<circle cx="181.54" cy="428.31" r="0.55" fill="#ff8a14"/>
<circle cx="180.88" cy="428.07" r="0.55" fill="#ff8a14"/>
<circle cx="172.35" cy="422.59" r="0.55" fill="#ff8a14"/>
<circle cx="183.32" cy="424.79" r="0.55" fill="#ff8a14"/>
<circle cx="182.81" cy="418.36" r="0.55" fill="#ff8a14"/>
<circle cx="177.63" cy="419.96" r="0.55" fill="#ff8a14"/>
<circle cx="178.53" cy="423.89" r="0.55" fill="#ff8a14"/>
<circle cx="172.16" cy="419.60" r="0.55" fill="#ff8a14"/>
<circle cx="175.35" cy="428.00" r="0.55" fill="#ff8a14"/>
<circle cx="181.19" cy="418.92" r="0.55" fill="#ff8a14"/>
<circle cx="181.57" cy="418.67" r="0.55" fill="#ff8a14"/>
<circle cx="179.41" cy="418.52" r="0.55" fill="#ff8a14"/>
<circle cx="172.02" cy="427.46" r="0.55" fill="#ff8a14"/>
<circle cx="174.51" cy="419.59" r="0.55" fill="#ff8a14"/>
<circle cx="183.79" cy="427.47" r="0.55" fill="#ff8a14"/>
<circle cx="175.47" cy="428.54" r="0.55" fill="#ff8a14"/>
<circle cx="178.47" cy="425.13" r="0.55" fill="#ff8a14"/>
<circle cx="174.46" cy="428.29" r="0.55" fill="#ff8a14"/>
<circle cx="180.29" cy="428.60" r="0.55" fill="#ff8a14"/>
<circle cx="182.72" cy="420.59" r="0.55" fill="#ff8a14"/>
<circle cx="176.33" cy="418.99" r="0.55" fill="#ff8a14"/>
<circle cx="173.75" cy="417.78" r="0.55" fill="#ff8a14"/>
<circle cx="175.62" cy="424.24" r="0.55" fill="#ff8a14"/>
<circle cx="172.04" cy="425.14" r="0.55" fill="#ff8a14"/>
<circle cx="176.05" cy="420.72" r="0.55" fill="#ff8a14"/>
<circle cx="181.82" cy="422.77" r="0.55" fill="#ff8a14"/>
<circle cx="175.79" cy="422.77" r="0.55" fill="#ff8a14"/>
<circle cx="180.46" cy="417.68" r="0.55" fill="#ff8a14"/>
<circle cx="183.70" cy="417.27" r="0.55" fill="#ff8a14"/>
<circle cx="181.00" cy="427.14" r="0.55" fill="#ff8a14"/>
<circle cx="172.22" cy="426.45" r="0.55" fill="#ff8a14"/>
<circle cx="176.39" cy="423.94" r="0.55" fill="#ff8a14"/>
<circle cx="172.11" cy="417.56" r="0.55" fill="#ff8a14"/>
<circle cx="134.26" cy="404.30" r="0.50" fill="#9550b0"/>
<circle cx="134.54" cy="403.40" r="0.50" fill="#9550b0"/>
<circle cx="147.73" cy="404.24" r="0.50" fill="#9550b0"/>
<circle cx="137.20" cy="401.60" r="0.50" fill="#9550b0"/>
<circle cx="140.44" cy="403.49" r="0.50" fill="#9550b0"/>
<circle cx="132.94" cy="403.37" r="0.50" fill="#9550b0"/>
<circle cx="145.35" cy="403.87" r="0.50" fill="#9550b0"/>
<circle cx="131.66" cy="404.26" r="0.50" fill="#9550b0"/>
<circle cx="132.64" cy="401.53" r="0.50" fill="#9550b0"/>
<circle cx="141.99" cy="404.13" r="0.50" fill="#9550b0"/>
<circle cx="137.12" cy="404.16" r="0.50" fill="#9550b0"/>
<circle cx="140.81" cy="401.41" r="0.50" fill="#9550b0"/>
<circle cx="136.70" cy="400.80" r="0.50" fill="#9550b0"/>
<circle cx="132.41" cy="400.67" r="0.50" fill="#9550b0"/>
<circle cx="143.41" cy="404.49" r="0.50" fill="#9550b0"/>
<circle cx="133.91" cy="400.22" r="0.50" fill="#9550b0"/>
<circle cx="148.76" cy="402.40" r="0.50" fill="#9550b0"/>
<circle cx="138.31" cy="401.07" r="0.50" fill="#9550b0"/>
<circle cx="141.69" cy="403.72" r="0.50" fill="#9550b0"/>
<circle cx="139.20" cy="401.90" r="0.50" fill="#9550b0"/>
<circle cx="132.00" cy="404.12" r="0.50" fill="#9550b0"/>
<circle cx="131.59" cy="402.22" r="0.50" fill="#9550b0"/>
<circle cx="138.71" cy="418.28" r="0.50" fill="#e0161c"/>
<circle cx="137.85" cy="423.20" r="0.50" fill="#e0161c"/>
<circle cx="137.04" cy="422.23" r="0.50" fill="#e0161c"/>
<circle cx="132.85" cy="420.11" r="0.50" fill="#e0161c"/>
<circle cx="133.19" cy="422.57" r="0.50" fill="#e0161c"/>
<circle cx="134.36" cy="420.22" r="0.50" fill="#e0161c"/>
<circle cx="139.99" cy="422.61" r="0.50" fill="#e0161c"/>
<circle cx="139.81" cy="420.22" r="0.50" fill="#e0161c"/>
<circle cx="135.91" cy="421.88" r="0.50" fill="#e0161c"/>
<circle cx="135.83" cy="419.25" r="0.50" fill="#e0161c"/>
<circle cx="135.23" cy="418.38" r="0.50" fill="#e0161c"/>
<circle cx="135.02" cy="423.43" r="0.50" fill="#e0161c"/>
<circle cx="138.00" cy="424.00" r="0.60" fill="#3a7dc0"/>
<circle cx="139.00" cy="426.00" r="0.60" fill="#3a7dc0"/>
<circle cx="138.50" cy="427.50" r="0.60" fill="#3a7dc0"/>
<circle cx="124.50" cy="418.50" r="0.60" fill="#3a7dc0"/>
<circle cx="131.00" cy="437.00" r="0.60" fill="#3a7dc0"/>
<circle cx="134.00" cy="450.50" r="0.60" fill="#3a7dc0"/>
<circle cx="134.60" cy="451.20" r="0.60" fill="#3a7dc0"/>
<path d="M26.5,461.3 L26.5,431" stroke="#111" stroke-width="1" fill="none"/>
<path d="M24.2,431.8 L26.5,427.6 L28.8,431.8 Z" fill="#111"/>
<path d="M26.5,461.3 L58,461.3" stroke="#111" stroke-width="1" fill="none"/>
<path d="M57.5,459 L61.8,461.3 L57.5,463.6 Z" fill="#111"/>
<text x="23.20" y="444.50" font-size="7.3" text-anchor="middle" textLength="26.00" lengthAdjust="spacingAndGlyphs" fill="#222" stroke="#222" stroke-width="0.22" transform="rotate(-90 23.20 444.50)">UMAP 2</text>
<text x="44.20" y="470.20" font-size="7.3" text-anchor="middle" textLength="27.00" lengthAdjust="spacingAndGlyphs" fill="#222" stroke="#222" stroke-width="0.22">UMAP 1</text>
<circle cx="76.00" cy="458.70" r="2.60" fill="#e0161c"/>
<circle cx="76.00" cy="466.80" r="2.60" fill="#3a7dc0"/>
<circle cx="76.00" cy="474.50" r="2.60" fill="#45ad45"/>
<circle cx="128.80" cy="458.30" r="2.60" fill="#ff8a14"/>
<circle cx="128.80" cy="471.70" r="2.60" fill="#9550b0"/>
<text x="81.80" y="460.70" font-size="6.6" textLength="38.10" lengthAdjust="spacingAndGlyphs" fill="#222" stroke="#222" stroke-width="0.22">CD19+ blasts</text>
<text x="81.80" y="468.70" font-size="6.6" textLength="31.20" lengthAdjust="spacingAndGlyphs" fill="#222" stroke="#222" stroke-width="0.22">Monocytes</text>
<text x="81.80" y="476.80" font-size="6.6" textLength="40.40" lengthAdjust="spacingAndGlyphs" fill="#222" stroke="#222" stroke-width="0.22">Mature B cells</text>
<text x="134.80" y="460.20" font-size="6.6" textLength="28.60" lengthAdjust="spacingAndGlyphs" fill="#222" stroke="#222" stroke-width="0.22">T/NK cells</text>
<text x="134.80" y="469.30" font-size="6.6" textLength="20.50" lengthAdjust="spacingAndGlyphs" fill="#222" stroke="#222" stroke-width="0.22">CD34+</text>
<text x="134.80" y="476.50" font-size="6.6" textLength="33.00" lengthAdjust="spacingAndGlyphs" fill="#222" stroke="#222" stroke-width="0.22">progenitors</text>
<circle cx="169.30" cy="465.00" r="2.60" fill="#cfcfcf"/>
<text x="175.00" y="463.80" font-size="6.6" textLength="21.50" lengthAdjust="spacingAndGlyphs" fill="#222" stroke="#222" stroke-width="0.22">Healthy</text>
<text x="175.00" y="471.50" font-size="6.6" textLength="16.50" lengthAdjust="spacingAndGlyphs" fill="#222" stroke="#222" stroke-width="0.22">donor</text>
<rect x="209.00" y="353.50" width="16.30" height="2.10" fill="#c8102e"/>
<rect x="209.00" y="355.60" width="16.30" height="113.20" fill="#1a4f8b"/>
<rect x="209.00" y="468.80" width="16.30" height="4.80" fill="#3bb54a"/>
<rect x="235.10" y="353.50" width="16.20" height="1.20" fill="#c8102e"/>
<rect x="235.10" y="354.70" width="16.20" height="108.80" fill="#1a4f8b"/>
<rect x="235.10" y="463.50" width="16.20" height="9.30" fill="#3bb54a"/>
<rect x="235.10" y="472.80" width="16.20" height="0.90" fill="#5a2d82"/>
<text x="219.60" y="419.00" font-size="8.2" text-anchor="middle" textLength="41.50" lengthAdjust="spacingAndGlyphs" fill="#fff" stroke="#fff" stroke-width="0.22" transform="rotate(-90 219.60 419.00)">scRNA-Seq</text>
<text x="245.60" y="418.00" font-size="8.2" text-anchor="middle" textLength="45.00" lengthAdjust="spacingAndGlyphs" fill="#fff" stroke="#fff" stroke-width="0.22" transform="rotate(-90 245.60 418.00)">scATAC-Seq</text>
<rect x="213.10" y="479.20" width="7.80" height="3.80" fill="#c8102e"/>
<text x="224.60" y="483.20" font-size="7.0" textLength="34.60" lengthAdjust="spacingAndGlyphs" fill="#222" stroke="#222" stroke-width="0.22">Progenitor</text>
<rect x="213.10" y="486.40" width="7.80" height="3.80" fill="#1a4f8b"/>
<text x="224.60" y="490.40" font-size="7.0" textLength="30.60" lengthAdjust="spacingAndGlyphs" fill="#222" stroke="#222" stroke-width="0.22">B-lineage</text>
<rect x="213.10" y="493.70" width="7.80" height="3.80" fill="#3bb54a"/>
<text x="224.60" y="497.70" font-size="7.0" textLength="32.30" lengthAdjust="spacingAndGlyphs" fill="#222" stroke="#222" stroke-width="0.22">M-lineage</text>
<rect x="213.10" y="500.70" width="7.80" height="3.80" fill="#5a2d82"/>
<text x="224.60" y="504.70" font-size="7.0" textLength="30.20" lengthAdjust="spacingAndGlyphs" fill="#222" stroke="#222" stroke-width="0.22">T-lineage</text>
<rect x="294.80" y="350.10" width="185.90" height="52.30" fill="#8e8e8e"/>
<rect x="295.25" y="350.55" width="8.39" height="3.85" fill="#4175b9"/>
<rect x="304.55" y="350.55" width="8.39" height="3.85" fill="#4175b9"/>
<rect x="313.84" y="350.55" width="8.39" height="3.85" fill="#4175b9"/>
<rect x="323.13" y="350.55" width="8.39" height="3.85" fill="#4175b9"/>
<rect x="332.43" y="350.55" width="8.39" height="3.85" fill="#4175b9"/>
<rect x="341.72" y="350.55" width="8.39" height="3.85" fill="#4175b9"/>
<rect x="351.02" y="350.55" width="8.39" height="3.85" fill="#4175b9"/>
<rect x="360.31" y="350.55" width="8.39" height="3.85" fill="#5a8cc6"/>
<rect x="369.61" y="350.55" width="8.39" height="3.85" fill="#dc3126"/>
<rect x="378.90" y="350.55" width="8.39" height="3.85" fill="#fdfbc6"/>
<rect x="388.20" y="350.55" width="8.39" height="3.85" fill="#fee195"/>
<rect x="397.49" y="350.55" width="8.39" height="3.85" fill="#a8d3e8"/>
<rect x="406.79" y="350.55" width="8.39" height="3.85" fill="#dc3126"/>
<rect x="416.08" y="350.55" width="8.39" height="3.85" fill="#dc3126"/>
<rect x="425.38" y="350.55" width="8.39" height="3.85" fill="#e3f2f4"/>
<rect x="434.68" y="350.55" width="8.39" height="3.85" fill="#5a8cc6"/>
<rect x="443.97" y="350.55" width="8.39" height="3.85" fill="#4175b9"/>
<rect x="453.26" y="350.55" width="8.39" height="3.85" fill="#4175b9"/>
<rect x="462.56" y="350.55" width="8.39" height="3.85" fill="#4175b9"/>
<rect x="471.85" y="350.55" width="8.39" height="3.85" fill="#4175b9"/>
<rect x="295.25" y="355.30" width="8.39" height="3.85" fill="#4175b9"/>
<rect x="304.55" y="355.30" width="8.39" height="3.85" fill="#4175b9"/>
<rect x="313.84" y="355.30" width="8.39" height="3.85" fill="#4175b9"/>
<rect x="323.13" y="355.30" width="8.39" height="3.85" fill="#4175b9"/>
<rect x="332.43" y="355.30" width="8.39" height="3.85" fill="#5a8cc6"/>
<rect x="341.72" y="355.30" width="8.39" height="3.85" fill="#4175b9"/>
<rect x="351.02" y="355.30" width="8.39" height="3.85" fill="#e3f2f4"/>
<rect x="360.31" y="355.30" width="8.39" height="3.85" fill="#e3f2f4"/>
<rect x="369.61" y="355.30" width="8.39" height="3.85" fill="#dc3126"/>
<rect x="378.90" y="355.30" width="8.39" height="3.85" fill="#f26b43"/>
<rect x="388.20" y="355.30" width="8.39" height="3.85" fill="#fdfbc6"/>
<rect x="397.49" y="355.30" width="8.39" height="3.85" fill="#a8d3e8"/>
<rect x="406.79" y="355.30" width="8.39" height="3.85" fill="#dc3126"/>
<rect x="416.08" y="355.30" width="8.39" height="3.85" fill="#e3f2f4"/>
<rect x="425.38" y="355.30" width="8.39" height="3.85" fill="#4175b9"/>
<rect x="434.68" y="355.30" width="8.39" height="3.85" fill="#4175b9"/>
<rect x="443.97" y="355.30" width="8.39" height="3.85" fill="#4175b9"/>
<rect x="453.26" y="355.30" width="8.39" height="3.85" fill="#4175b9"/>
<rect x="462.56" y="355.30" width="8.39" height="3.85" fill="#4175b9"/>
<rect x="471.85" y="355.30" width="8.39" height="3.85" fill="#5a8cc6"/>
<rect x="295.25" y="360.06" width="8.39" height="3.85" fill="#4175b9"/>
<rect x="304.55" y="360.06" width="8.39" height="3.85" fill="#4175b9"/>
<rect x="313.84" y="360.06" width="8.39" height="3.85" fill="#5a8cc6"/>
<rect x="323.13" y="360.06" width="8.39" height="3.85" fill="#5a8cc6"/>
<rect x="332.43" y="360.06" width="8.39" height="3.85" fill="#e3f2f4"/>
<rect x="341.72" y="360.06" width="8.39" height="3.85" fill="#e3f2f4"/>
<rect x="351.02" y="360.06" width="8.39" height="3.85" fill="#fdb66c"/>
<rect x="360.31" y="360.06" width="8.39" height="3.85" fill="#fee195"/>
<rect x="369.61" y="360.06" width="8.39" height="3.85" fill="#dc3126"/>
<rect x="378.90" y="360.06" width="8.39" height="3.85" fill="#a8d3e8"/>
<rect x="388.20" y="360.06" width="8.39" height="3.85" fill="#5a8cc6"/>
<rect x="397.49" y="360.06" width="8.39" height="3.85" fill="#5a8cc6"/>
<rect x="406.79" y="360.06" width="8.39" height="3.85" fill="#fee195"/>
<rect x="416.08" y="360.06" width="8.39" height="3.85" fill="#dc3126"/>
<rect x="425.38" y="360.06" width="8.39" height="3.85" fill="#a8d3e8"/>
<rect x="434.68" y="360.06" width="8.39" height="3.85" fill="#5a8cc6"/>
<rect x="443.97" y="360.06" width="8.39" height="3.85" fill="#5a8cc6"/>
<rect x="453.26" y="360.06" width="8.39" height="3.85" fill="#4175b9"/>
<rect x="462.56" y="360.06" width="8.39" height="3.85" fill="#4175b9"/>
<rect x="471.85" y="360.06" width="8.39" height="3.85" fill="#4175b9"/>
<rect x="295.25" y="364.81" width="8.39" height="3.85" fill="#4175b9"/>
<rect x="304.55" y="364.81" width="8.39" height="3.85" fill="#4175b9"/>
<rect x="313.84" y="364.81" width="8.39" height="3.85" fill="#4175b9"/>
<rect x="323.13" y="364.81" width="8.39" height="3.85" fill="#4175b9"/>
<rect x="332.43" y="364.81" width="8.39" height="3.85" fill="#4175b9"/>
<rect x="341.72" y="364.81" width="8.39" height="3.85" fill="#4175b9"/>
<rect x="351.02" y="364.81" width="8.39" height="3.85" fill="#75a9d6"/>
<rect x="360.31" y="364.81" width="8.39" height="3.85" fill="#e3f2f4"/>
<rect x="369.61" y="364.81" width="8.39" height="3.85" fill="#dc3126"/>
<rect x="378.90" y="364.81" width="8.39" height="3.85" fill="#fee195"/>
<rect x="388.20" y="364.81" width="8.39" height="3.85" fill="#f26b43"/>
<rect x="397.49" y="364.81" width="8.39" height="3.85" fill="#fdfbc6"/>
<rect x="406.79" y="364.81" width="8.39" height="3.85" fill="#f26b43"/>
<rect x="416.08" y="364.81" width="8.39" height="3.85" fill="#dc3126"/>
<rect x="425.38" y="364.81" width="8.39" height="3.85" fill="#e3f2f4"/>
<rect x="434.68" y="364.81" width="8.39" height="3.85" fill="#a8d3e8"/>
<rect x="443.97" y="364.81" width="8.39" height="3.85" fill="#e3f2f4"/>
<rect x="453.26" y="364.81" width="8.39" height="3.85" fill="#5a8cc6"/>
<rect x="462.56" y="364.81" width="8.39" height="3.85" fill="#5a8cc6"/>
<rect x="471.85" y="364.81" width="8.39" height="3.85" fill="#5a8cc6"/>
<rect x="295.25" y="369.57" width="8.39" height="3.85" fill="#4175b9"/>
<rect x="304.55" y="369.57" width="8.39" height="3.85" fill="#4175b9"/>
<rect x="313.84" y="369.57" width="8.39" height="3.85" fill="#4175b9"/>
<rect x="323.13" y="369.57" width="8.39" height="3.85" fill="#4175b9"/>
<rect x="332.43" y="369.57" width="8.39" height="3.85" fill="#4175b9"/>
<rect x="341.72" y="369.57" width="8.39" height="3.85" fill="#5a8cc6"/>
<rect x="351.02" y="369.57" width="8.39" height="3.85" fill="#75a9d6"/>
<rect x="360.31" y="369.57" width="8.39" height="3.85" fill="#fdfbc6"/>
<rect x="369.61" y="369.57" width="8.39" height="3.85" fill="#dc3126"/>
<rect x="378.90" y="369.57" width="8.39" height="3.85" fill="#dc3126"/>
<rect x="388.20" y="369.57" width="8.39" height="3.85" fill="#f26b43"/>
<rect x="397.49" y="369.57" width="8.39" height="3.85" fill="#fee195"/>
<rect x="406.79" y="369.57" width="8.39" height="3.85" fill="#fdb66c"/>
<rect x="416.08" y="369.57" width="8.39" height="3.85" fill="#fdfbc6"/>
<rect x="425.38" y="369.57" width="8.39" height="3.85" fill="#a8d3e8"/>
<rect x="434.68" y="369.57" width="8.39" height="3.85" fill="#5a8cc6"/>
<rect x="443.97" y="369.57" width="8.39" height="3.85" fill="#75a9d6"/>
<rect x="453.26" y="369.57" width="8.39" height="3.85" fill="#4175b9"/>
<rect x="462.56" y="369.57" width="8.39" height="3.85" fill="#4175b9"/>
<rect x="471.85" y="369.57" width="8.39" height="3.85" fill="#4175b9"/>
<rect x="295.25" y="374.32" width="8.39" height="3.85" fill="#4175b9"/>
<rect x="304.55" y="374.32" width="8.39" height="3.85" fill="#4175b9"/>
<rect x="313.84" y="374.32" width="8.39" height="3.85" fill="#4175b9"/>
<rect x="323.13" y="374.32" width="8.39" height="3.85" fill="#4175b9"/>
<rect x="332.43" y="374.32" width="8.39" height="3.85" fill="#5a8cc6"/>
<rect x="341.72" y="374.32" width="8.39" height="3.85" fill="#4175b9"/>
<rect x="351.02" y="374.32" width="8.39" height="3.85" fill="#a8d3e8"/>
<rect x="360.31" y="374.32" width="8.39" height="3.85" fill="#fee195"/>
<rect x="369.61" y="374.32" width="8.39" height="3.85" fill="#dc3126"/>
<rect x="378.90" y="374.32" width="8.39" height="3.85" fill="#dc3126"/>
<rect x="388.20" y="374.32" width="8.39" height="3.85" fill="#f26b43"/>
<rect x="397.49" y="374.32" width="8.39" height="3.85" fill="#5a8cc6"/>
<rect x="406.79" y="374.32" width="8.39" height="3.85" fill="#5a8cc6"/>
<rect x="416.08" y="374.32" width="8.39" height="3.85" fill="#a8d3e8"/>
<rect x="425.38" y="374.32" width="8.39" height="3.85" fill="#4175b9"/>
<rect x="434.68" y="374.32" width="8.39" height="3.85" fill="#4175b9"/>
<rect x="443.97" y="374.32" width="8.39" height="3.85" fill="#4175b9"/>
<rect x="453.26" y="374.32" width="8.39" height="3.85" fill="#4175b9"/>
<rect x="462.56" y="374.32" width="8.39" height="3.85" fill="#4175b9"/>
<rect x="471.85" y="374.32" width="8.39" height="3.85" fill="#4175b9"/>
<rect x="295.25" y="379.08" width="8.39" height="3.85" fill="#4175b9"/>
<rect x="304.55" y="379.08" width="8.39" height="3.85" fill="#4175b9"/>
<rect x="313.84" y="379.08" width="8.39" height="3.85" fill="#4175b9"/>
<rect x="323.13" y="379.08" width="8.39" height="3.85" fill="#4175b9"/>
<rect x="332.43" y="379.08" width="8.39" height="3.85" fill="#4175b9"/>
<rect x="341.72" y="379.08" width="8.39" height="3.85" fill="#5a8cc6"/>
<rect x="351.02" y="379.08" width="8.39" height="3.85" fill="#75a9d6"/>
<rect x="360.31" y="379.08" width="8.39" height="3.85" fill="#fdfbc6"/>
<rect x="369.61" y="379.08" width="8.39" height="3.85" fill="#dc3126"/>
<rect x="378.90" y="379.08" width="8.39" height="3.85" fill="#fee195"/>
<rect x="388.20" y="379.08" width="8.39" height="3.85" fill="#e3f2f4"/>
<rect x="397.49" y="379.08" width="8.39" height="3.85" fill="#fee195"/>
<rect x="406.79" y="379.08" width="8.39" height="3.85" fill="#fdfbc6"/>
<rect x="416.08" y="379.08" width="8.39" height="3.85" fill="#e3f2f4"/>
<rect x="425.38" y="379.08" width="8.39" height="3.85" fill="#a8d3e8"/>
<rect x="434.68" y="379.08" width="8.39" height="3.85" fill="#75a9d6"/>
<rect x="443.97" y="379.08" width="8.39" height="3.85" fill="#f26b43"/>
<rect x="453.26" y="379.08" width="8.39" height="3.85" fill="#a8d3e8"/>
<rect x="462.56" y="379.08" width="8.39" height="3.85" fill="#75a9d6"/>
<rect x="471.85" y="379.08" width="8.39" height="3.85" fill="#75a9d6"/>
<rect x="295.25" y="383.83" width="8.39" height="3.85" fill="#4175b9"/>
<rect x="304.55" y="383.83" width="8.39" height="3.85" fill="#4175b9"/>
<rect x="313.84" y="383.83" width="8.39" height="3.85" fill="#4175b9"/>
<rect x="323.13" y="383.83" width="8.39" height="3.85" fill="#4175b9"/>
<rect x="332.43" y="383.83" width="8.39" height="3.85" fill="#4175b9"/>
<rect x="341.72" y="383.83" width="8.39" height="3.85" fill="#4175b9"/>
<rect x="351.02" y="383.83" width="8.39" height="3.85" fill="#a8d3e8"/>
<rect x="360.31" y="383.83" width="8.39" height="3.85" fill="#fee195"/>
<rect x="369.61" y="383.83" width="8.39" height="3.85" fill="#dc3126"/>
<rect x="378.90" y="383.83" width="8.39" height="3.85" fill="#dc3126"/>
<rect x="388.20" y="383.83" width="8.39" height="3.85" fill="#fee195"/>
<rect x="397.49" y="383.83" width="8.39" height="3.85" fill="#fdfbc6"/>
<rect x="406.79" y="383.83" width="8.39" height="3.85" fill="#fdfbc6"/>
<rect x="416.08" y="383.83" width="8.39" height="3.85" fill="#e3f2f4"/>
<rect x="425.38" y="383.83" width="8.39" height="3.85" fill="#4175b9"/>
<rect x="434.68" y="383.83" width="8.39" height="3.85" fill="#4175b9"/>
<rect x="443.97" y="383.83" width="8.39" height="3.85" fill="#4175b9"/>
<rect x="453.26" y="383.83" width="8.39" height="3.85" fill="#4175b9"/>
<rect x="462.56" y="383.83" width="8.39" height="3.85" fill="#4175b9"/>
<rect x="471.85" y="383.83" width="8.39" height="3.85" fill="#4175b9"/>
<rect x="295.25" y="388.59" width="8.39" height="3.85" fill="#4175b9"/>
<rect x="304.55" y="388.59" width="8.39" height="3.85" fill="#5a8cc6"/>
<rect x="313.84" y="388.59" width="8.39" height="3.85" fill="#5a8cc6"/>
<rect x="323.13" y="388.59" width="8.39" height="3.85" fill="#5a8cc6"/>
<rect x="332.43" y="388.59" width="8.39" height="3.85" fill="#a8d3e8"/>
<rect x="341.72" y="388.59" width="8.39" height="3.85" fill="#a8d3e8"/>
<rect x="351.02" y="388.59" width="8.39" height="3.85" fill="#f26b43"/>
<rect x="360.31" y="388.59" width="8.39" height="3.85" fill="#fdfbc6"/>
<rect x="369.61" y="388.59" width="8.39" height="3.85" fill="#fdfbc6"/>
<rect x="378.90" y="388.59" width="8.39" height="3.85" fill="#a8d3e8"/>
<rect x="388.20" y="388.59" width="8.39" height="3.85" fill="#a8d3e8"/>
<rect x="397.49" y="388.59" width="8.39" height="3.85" fill="#a8d3e8"/>
<rect x="406.79" y="388.59" width="8.39" height="3.85" fill="#75a9d6"/>
<rect x="416.08" y="388.59" width="8.39" height="3.85" fill="#fee195"/>
<rect x="425.38" y="388.59" width="8.39" height="3.85" fill="#fdfbc6"/>
<rect x="434.68" y="388.59" width="8.39" height="3.85" fill="#e3f2f4"/>
<rect x="443.97" y="388.59" width="8.39" height="3.85" fill="#fee195"/>
<rect x="453.26" y="388.59" width="8.39" height="3.85" fill="#e3f2f4"/>
<rect x="462.56" y="388.59" width="8.39" height="3.85" fill="#a8d3e8"/>
<rect x="471.85" y="388.59" width="8.39" height="3.85" fill="#fdfbc6"/>
<rect x="295.25" y="393.34" width="8.39" height="3.85" fill="#4175b9"/>
<rect x="304.55" y="393.34" width="8.39" height="3.85" fill="#4175b9"/>
<rect x="313.84" y="393.34" width="8.39" height="3.85" fill="#5a8cc6"/>
<rect x="323.13" y="393.34" width="8.39" height="3.85" fill="#e3f2f4"/>
<rect x="332.43" y="393.34" width="8.39" height="3.85" fill="#5a8cc6"/>
<rect x="341.72" y="393.34" width="8.39" height="3.85" fill="#f26b43"/>
<rect x="351.02" y="393.34" width="8.39" height="3.85" fill="#dc3126"/>
<rect x="360.31" y="393.34" width="8.39" height="3.85" fill="#fee195"/>
<rect x="369.61" y="393.34" width="8.39" height="3.85" fill="#e3f2f4"/>
<rect x="378.90" y="393.34" width="8.39" height="3.85" fill="#a8d3e8"/>
<rect x="388.20" y="393.34" width="8.39" height="3.85" fill="#a8d3e8"/>
<rect x="397.49" y="393.34" width="8.39" height="3.85" fill="#a8d3e8"/>
<rect x="406.79" y="393.34" width="8.39" height="3.85" fill="#4175b9"/>
<rect x="416.08" y="393.34" width="8.39" height="3.85" fill="#5a8cc6"/>
<rect x="425.38" y="393.34" width="8.39" height="3.85" fill="#4175b9"/>
<rect x="434.68" y="393.34" width="8.39" height="3.85" fill="#4175b9"/>
<rect x="443.97" y="393.34" width="8.39" height="3.85" fill="#dc3126"/>
<rect x="453.26" y="393.34" width="8.39" height="3.85" fill="#5a8cc6"/>
<rect x="462.56" y="393.34" width="8.39" height="3.85" fill="#4175b9"/>
<rect x="471.85" y="393.34" width="8.39" height="3.85" fill="#5a8cc6"/>
<rect x="295.25" y="398.10" width="8.39" height="3.85" fill="#4175b9"/>
<rect x="304.55" y="398.10" width="8.39" height="3.85" fill="#4175b9"/>
<rect x="313.84" y="398.10" width="8.39" height="3.85" fill="#4175b9"/>
<rect x="323.13" y="398.10" width="8.39" height="3.85" fill="#4175b9"/>
<rect x="332.43" y="398.10" width="8.39" height="3.85" fill="#5a8cc6"/>
<rect x="341.72" y="398.10" width="8.39" height="3.85" fill="#75a9d6"/>
<rect x="351.02" y="398.10" width="8.39" height="3.85" fill="#fee195"/>
<rect x="360.31" y="398.10" width="8.39" height="3.85" fill="#fee195"/>
<rect x="369.61" y="398.10" width="8.39" height="3.85" fill="#dc3126"/>
<rect x="378.90" y="398.10" width="8.39" height="3.85" fill="#dc3126"/>
<rect x="388.20" y="398.10" width="8.39" height="3.85" fill="#dc3126"/>
<rect x="397.49" y="398.10" width="8.39" height="3.85" fill="#fdfbc6"/>
<rect x="406.79" y="398.10" width="8.39" height="3.85" fill="#a8d3e8"/>
<rect x="416.08" y="398.10" width="8.39" height="3.85" fill="#a8d3e8"/>
<rect x="425.38" y="398.10" width="8.39" height="3.85" fill="#5a8cc6"/>
<rect x="434.68" y="398.10" width="8.39" height="3.85" fill="#5a8cc6"/>
<rect x="443.97" y="398.10" width="8.39" height="3.85" fill="#75a9d6"/>
<rect x="453.26" y="398.10" width="8.39" height="3.85" fill="#4175b9"/>
<rect x="462.56" y="398.10" width="8.39" height="3.85" fill="#4175b9"/>
<rect x="471.85" y="398.10" width="8.39" height="3.85" fill="#5a8cc6"/>
<rect x="294.80" y="404.40" width="185.90" height="32.90" fill="#8e8e8e"/>
<rect x="295.25" y="404.85" width="8.39" height="3.80" fill="#4175b9"/>
<rect x="304.55" y="404.85" width="8.39" height="3.80" fill="#4175b9"/>
<rect x="313.84" y="404.85" width="8.39" height="3.80" fill="#4175b9"/>
<rect x="323.13" y="404.85" width="8.39" height="3.80" fill="#4175b9"/>
<rect x="332.43" y="404.85" width="8.39" height="3.80" fill="#4175b9"/>
<rect x="341.72" y="404.85" width="8.39" height="3.80" fill="#5a8cc6"/>
<rect x="351.02" y="404.85" width="8.39" height="3.80" fill="#e3f2f4"/>
<rect x="360.31" y="404.85" width="8.39" height="3.80" fill="#dc3126"/>
<rect x="369.61" y="404.85" width="8.39" height="3.80" fill="#dc3126"/>
<rect x="378.90" y="404.85" width="8.39" height="3.80" fill="#fee195"/>
<rect x="388.20" y="404.85" width="8.39" height="3.80" fill="#5a8cc6"/>
<rect x="397.49" y="404.85" width="8.39" height="3.80" fill="#4175b9"/>
<rect x="406.79" y="404.85" width="8.39" height="3.80" fill="#4175b9"/>
<rect x="416.08" y="404.85" width="8.39" height="3.80" fill="#5a8cc6"/>
<rect x="425.38" y="404.85" width="8.39" height="3.80" fill="#4175b9"/>
<rect x="434.68" y="404.85" width="8.39" height="3.80" fill="#4175b9"/>
<rect x="443.97" y="404.85" width="8.39" height="3.80" fill="#4175b9"/>
<rect x="453.26" y="404.85" width="8.39" height="3.80" fill="#4175b9"/>
<rect x="462.56" y="404.85" width="8.39" height="3.80" fill="#4175b9"/>
<rect x="471.85" y="404.85" width="8.39" height="3.80" fill="#4175b9"/>
<rect x="295.25" y="409.55" width="8.39" height="3.80" fill="#4175b9"/>
<rect x="304.55" y="409.55" width="8.39" height="3.80" fill="#4175b9"/>
<rect x="313.84" y="409.55" width="8.39" height="3.80" fill="#4175b9"/>
<rect x="323.13" y="409.55" width="8.39" height="3.80" fill="#4175b9"/>
<rect x="332.43" y="409.55" width="8.39" height="3.80" fill="#4175b9"/>
<rect x="341.72" y="409.55" width="8.39" height="3.80" fill="#4175b9"/>
<rect x="351.02" y="409.55" width="8.39" height="3.80" fill="#75a9d6"/>
<rect x="360.31" y="409.55" width="8.39" height="3.80" fill="#e3f2f4"/>
<rect x="369.61" y="409.55" width="8.39" height="3.80" fill="#dc3126"/>
<rect x="378.90" y="409.55" width="8.39" height="3.80" fill="#dc3126"/>
<rect x="388.20" y="409.55" width="8.39" height="3.80" fill="#dc3126"/>
<rect x="397.49" y="409.55" width="8.39" height="3.80" fill="#fee195"/>
<rect x="406.79" y="409.55" width="8.39" height="3.80" fill="#fdb66c"/>
<rect x="416.08" y="409.55" width="8.39" height="3.80" fill="#f26b43"/>
<rect x="425.38" y="409.55" width="8.39" height="3.80" fill="#75a9d6"/>
<rect x="434.68" y="409.55" width="8.39" height="3.80" fill="#5a8cc6"/>
<rect x="443.97" y="409.55" width="8.39" height="3.80" fill="#75a9d6"/>
<rect x="453.26" y="409.55" width="8.39" height="3.80" fill="#4175b9"/>
<rect x="462.56" y="409.55" width="8.39" height="3.80" fill="#4175b9"/>
<rect x="471.85" y="409.55" width="8.39" height="3.80" fill="#4175b9"/>
<rect x="295.25" y="414.25" width="8.39" height="3.80" fill="#4175b9"/>
<rect x="304.55" y="414.25" width="8.39" height="3.80" fill="#4175b9"/>
<rect x="313.84" y="414.25" width="8.39" height="3.80" fill="#4175b9"/>
<rect x="323.13" y="414.25" width="8.39" height="3.80" fill="#4175b9"/>
<rect x="332.43" y="414.25" width="8.39" height="3.80" fill="#4175b9"/>
<rect x="341.72" y="414.25" width="8.39" height="3.80" fill="#4175b9"/>
<rect x="351.02" y="414.25" width="8.39" height="3.80" fill="#4175b9"/>
<rect x="360.31" y="414.25" width="8.39" height="3.80" fill="#4175b9"/>
<rect x="369.61" y="414.25" width="8.39" height="3.80" fill="#5a8cc6"/>
<rect x="378.90" y="414.25" width="8.39" height="3.80" fill="#5a8cc6"/>
<rect x="388.20" y="414.25" width="8.39" height="3.80" fill="#4175b9"/>
<rect x="397.49" y="414.25" width="8.39" height="3.80" fill="#4175b9"/>
<rect x="406.79" y="414.25" width="8.39" height="3.80" fill="#75a9d6"/>
<rect x="416.08" y="414.25" width="8.39" height="3.80" fill="#dc3126"/>
<rect x="425.38" y="414.25" width="8.39" height="3.80" fill="#dc3126"/>
<rect x="434.68" y="414.25" width="8.39" height="3.80" fill="#f26b43"/>
<rect x="443.97" y="414.25" width="8.39" height="3.80" fill="#5a8cc6"/>
<rect x="453.26" y="414.25" width="8.39" height="3.80" fill="#4175b9"/>
<rect x="462.56" y="414.25" width="8.39" height="3.80" fill="#4175b9"/>
<rect x="471.85" y="414.25" width="8.39" height="3.80" fill="#4175b9"/>
<rect x="295.25" y="418.95" width="8.39" height="3.80" fill="#4175b9"/>
<rect x="304.55" y="418.95" width="8.39" height="3.80" fill="#4175b9"/>
<rect x="313.84" y="418.95" width="8.39" height="3.80" fill="#4175b9"/>
<rect x="323.13" y="418.95" width="8.39" height="3.80" fill="#4175b9"/>
<rect x="332.43" y="418.95" width="8.39" height="3.80" fill="#4175b9"/>
<rect x="341.72" y="418.95" width="8.39" height="3.80" fill="#5a8cc6"/>
<rect x="351.02" y="418.95" width="8.39" height="3.80" fill="#a8d3e8"/>
<rect x="360.31" y="418.95" width="8.39" height="3.80" fill="#dc3126"/>
<rect x="369.61" y="418.95" width="8.39" height="3.80" fill="#dc3126"/>
<rect x="378.90" y="418.95" width="8.39" height="3.80" fill="#fdfbc6"/>
<rect x="388.20" y="418.95" width="8.39" height="3.80" fill="#a8d3e8"/>
<rect x="397.49" y="418.95" width="8.39" height="3.80" fill="#e3f2f4"/>
<rect x="406.79" y="418.95" width="8.39" height="3.80" fill="#fdfbc6"/>
<rect x="416.08" y="418.95" width="8.39" height="3.80" fill="#f26b43"/>
<rect x="425.38" y="418.95" width="8.39" height="3.80" fill="#a8d3e8"/>
<rect x="434.68" y="418.95" width="8.39" height="3.80" fill="#5a8cc6"/>
<rect x="443.97" y="418.95" width="8.39" height="3.80" fill="#75a9d6"/>
<rect x="453.26" y="418.95" width="8.39" height="3.80" fill="#5a8cc6"/>
<rect x="462.56" y="418.95" width="8.39" height="3.80" fill="#5a8cc6"/>
<rect x="471.85" y="418.95" width="8.39" height="3.80" fill="#4175b9"/>
<rect x="295.25" y="423.65" width="8.39" height="3.80" fill="#4175b9"/>
<rect x="304.55" y="423.65" width="8.39" height="3.80" fill="#4175b9"/>
<rect x="313.84" y="423.65" width="8.39" height="3.80" fill="#4175b9"/>
<rect x="323.13" y="423.65" width="8.39" height="3.80" fill="#4175b9"/>
<rect x="332.43" y="423.65" width="8.39" height="3.80" fill="#4175b9"/>
<rect x="341.72" y="423.65" width="8.39" height="3.80" fill="#4175b9"/>
<rect x="351.02" y="423.65" width="8.39" height="3.80" fill="#4175b9"/>
<rect x="360.31" y="423.65" width="8.39" height="3.80" fill="#5a8cc6"/>
<rect x="369.61" y="423.65" width="8.39" height="3.80" fill="#a8d3e8"/>
<rect x="378.90" y="423.65" width="8.39" height="3.80" fill="#75a9d6"/>
<rect x="388.20" y="423.65" width="8.39" height="3.80" fill="#5a8cc6"/>
<rect x="397.49" y="423.65" width="8.39" height="3.80" fill="#75a9d6"/>
<rect x="406.79" y="423.65" width="8.39" height="3.80" fill="#fee195"/>
<rect x="416.08" y="423.65" width="8.39" height="3.80" fill="#dc3126"/>
<rect x="425.38" y="423.65" width="8.39" height="3.80" fill="#dc3126"/>
<rect x="434.68" y="423.65" width="8.39" height="3.80" fill="#fee195"/>
<rect x="443.97" y="423.65" width="8.39" height="3.80" fill="#e3f2f4"/>
<rect x="453.26" y="423.65" width="8.39" height="3.80" fill="#5a8cc6"/>
<rect x="462.56" y="423.65" width="8.39" height="3.80" fill="#5a8cc6"/>
<rect x="471.85" y="423.65" width="8.39" height="3.80" fill="#4175b9"/>
<rect x="295.25" y="428.35" width="8.39" height="3.80" fill="#4175b9"/>
<rect x="304.55" y="428.35" width="8.39" height="3.80" fill="#4175b9"/>
<rect x="313.84" y="428.35" width="8.39" height="3.80" fill="#4175b9"/>
<rect x="323.13" y="428.35" width="8.39" height="3.80" fill="#4175b9"/>
<rect x="332.43" y="428.35" width="8.39" height="3.80" fill="#4175b9"/>
<rect x="341.72" y="428.35" width="8.39" height="3.80" fill="#4175b9"/>
<rect x="351.02" y="428.35" width="8.39" height="3.80" fill="#5a8cc6"/>
<rect x="360.31" y="428.35" width="8.39" height="3.80" fill="#e3f2f4"/>
<rect x="369.61" y="428.35" width="8.39" height="3.80" fill="#fdfbc6"/>
<rect x="378.90" y="428.35" width="8.39" height="3.80" fill="#75a9d6"/>
<rect x="388.20" y="428.35" width="8.39" height="3.80" fill="#4175b9"/>
<rect x="397.49" y="428.35" width="8.39" height="3.80" fill="#4175b9"/>
<rect x="406.79" y="428.35" width="8.39" height="3.80" fill="#75a9d6"/>
<rect x="416.08" y="428.35" width="8.39" height="3.80" fill="#fdfbc6"/>
<rect x="425.38" y="428.35" width="8.39" height="3.80" fill="#fdfbc6"/>
<rect x="434.68" y="428.35" width="8.39" height="3.80" fill="#f26b43"/>
<rect x="443.97" y="428.35" width="8.39" height="3.80" fill="#dc3126"/>
<rect x="453.26" y="428.35" width="8.39" height="3.80" fill="#fdfbc6"/>
<rect x="462.56" y="428.35" width="8.39" height="3.80" fill="#f26b43"/>
<rect x="471.85" y="428.35" width="8.39" height="3.80" fill="#fee195"/>
<rect x="295.25" y="433.05" width="8.39" height="3.80" fill="#4175b9"/>
<rect x="304.55" y="433.05" width="8.39" height="3.80" fill="#4175b9"/>
<rect x="313.84" y="433.05" width="8.39" height="3.80" fill="#4175b9"/>
<rect x="323.13" y="433.05" width="8.39" height="3.80" fill="#4175b9"/>
<rect x="332.43" y="433.05" width="8.39" height="3.80" fill="#4175b9"/>
<rect x="341.72" y="433.05" width="8.39" height="3.80" fill="#5a8cc6"/>
<rect x="351.02" y="433.05" width="8.39" height="3.80" fill="#a8d3e8"/>
<rect x="360.31" y="433.05" width="8.39" height="3.80" fill="#e3f2f4"/>
<rect x="369.61" y="433.05" width="8.39" height="3.80" fill="#dc3126"/>
<rect x="378.90" y="433.05" width="8.39" height="3.80" fill="#dc3126"/>
<rect x="388.20" y="433.05" width="8.39" height="3.80" fill="#dc3126"/>
<rect x="397.49" y="433.05" width="8.39" height="3.80" fill="#dc3126"/>
<rect x="406.79" y="433.05" width="8.39" height="3.80" fill="#75a9d6"/>
<rect x="416.08" y="433.05" width="8.39" height="3.80" fill="#5a8cc6"/>
<rect x="425.38" y="433.05" width="8.39" height="3.80" fill="#4175b9"/>
<rect x="434.68" y="433.05" width="8.39" height="3.80" fill="#4175b9"/>
<rect x="443.97" y="433.05" width="8.39" height="3.80" fill="#fdb66c"/>
<rect x="453.26" y="433.05" width="8.39" height="3.80" fill="#4175b9"/>
<rect x="462.56" y="433.05" width="8.39" height="3.80" fill="#4175b9"/>
<rect x="471.85" y="433.05" width="8.39" height="3.80" fill="#4175b9"/>
<text x="292.00" y="376.00" font-size="8.2" text-anchor="middle" textLength="25.00" lengthAdjust="spacingAndGlyphs" fill="#333" stroke="#333" stroke-width="0.22" transform="rotate(-90 292.00 376.00)">&lt; 6 mo.</text>
<text x="292.00" y="420.70" font-size="8.2" text-anchor="middle" textLength="25.00" lengthAdjust="spacingAndGlyphs" fill="#333" stroke="#333" stroke-width="0.22" transform="rotate(-90 292.00 420.70)">&gt; 6 mo.</text>
<text x="272.80" y="421.00" font-size="8.5" text-anchor="middle" textLength="30.50" lengthAdjust="spacingAndGlyphs" fill="#333" stroke="#333" stroke-width="0.22" transform="rotate(-90 272.80 421.00)">B-lineage</text>
<path d="M257.50,412.60 L276.07,394.30" stroke="#111" stroke-width="1.0" fill="none"/>
<path d="M278.70,391.70 L277.32,396.29 L274.09,393.01 Z" fill="#111"/>
<path d="M257.50,432.40 L276.05,450.42" stroke="#111" stroke-width="1.0" fill="none"/>
<path d="M278.70,453.00 L274.08,451.72 L277.29,448.42 Z" fill="#111"/>
<defs><linearGradient id="cb" x1="0" y1="1" x2="0" y2="0"><stop offset="0" stop-color="#3f6db2"/><stop offset="0.14" stop-color="#6c9fcf"/><stop offset="0.3" stop-color="#b6dbec"/><stop offset="0.43" stop-color="#eef7ee"/><stop offset="0.57" stop-color="#fef7b4"/><stop offset="0.71" stop-color="#fdd081"/><stop offset="0.86" stop-color="#f6834f"/><stop offset="1" stop-color="#d22b27"/></linearGradient></defs>
<rect x="492.60" y="359.40" width="4.60" height="70.10" fill="url(#cb)"/>
<text x="498.30" y="366.30" font-size="7.0" fill="#333" stroke="#333" stroke-width="0.22">0.14</text>
<text x="498.30" y="375.57" font-size="7.0" fill="#333" stroke="#333" stroke-width="0.22">0.12</text>
<text x="498.30" y="384.84" font-size="7.0" fill="#333" stroke="#333" stroke-width="0.22">0.1</text>
<text x="498.30" y="394.11" font-size="7.0" fill="#333" stroke="#333" stroke-width="0.22">0.08</text>
<text x="498.30" y="403.38" font-size="7.0" fill="#333" stroke="#333" stroke-width="0.22">0.06</text>
<text x="498.30" y="412.65" font-size="7.0" fill="#333" stroke="#333" stroke-width="0.22">0.04</text>
<text x="498.30" y="421.92" font-size="7.0" fill="#333" stroke="#333" stroke-width="0.22">0.02</text>
<text x="498.30" y="431.19" font-size="7.0" fill="#333" stroke="#333" stroke-width="0.22">0</text>
<text x="490.00" y="392.50" font-size="7.6" text-anchor="middle" textLength="33.00" lengthAdjust="spacingAndGlyphs" fill="#333" stroke="#333" stroke-width="0.22" transform="rotate(-90 490.00 392.50)">Frequency</text>
<rect x="294.7" y="442.5" width="183.3" height="54" fill="none" stroke="#555" stroke-width="0.9"/>
<rect x="294.20" y="496.80" width="184.30" height="2.30" fill="#9a9a9a"/>
<line x1="294.20" y1="496.40" x2="478.50" y2="496.40" stroke="#333" stroke-width="0.9"/>
<path d="M325,497.2 L349,497.2" stroke="#2a8f7a" stroke-width="0.9"/>
<path d="M369,496.4 L407,496.4" stroke="#ff9a20" stroke-width="1.0"/>
<path d="M431,496.4 L436,496.4" stroke="#ff9a20" stroke-width="1.0"/>
<path d="M449,496.4 L455,496.4" stroke="#ff9a20" stroke-width="1.0"/>
<line x1="291.30" y1="444.00" x2="294.20" y2="444.00" stroke="#333" stroke-width="0.8"/>
<text x="288.60" y="446.60" font-size="7.2" text-anchor="end" fill="#333" stroke="#333" stroke-width="0.22">2.0</text>
<line x1="291.30" y1="470.20" x2="294.20" y2="470.20" stroke="#333" stroke-width="0.8"/>
<text x="288.60" y="472.80" font-size="7.2" text-anchor="end" fill="#333" stroke="#333" stroke-width="0.22">1.0</text>
<line x1="291.30" y1="496.60" x2="294.20" y2="496.60" stroke="#333" stroke-width="0.8"/>
<text x="288.60" y="499.20" font-size="7.2" text-anchor="end" fill="#333" stroke="#333" stroke-width="0.22">0.0</text>
<line x1="291.30" y1="457.10" x2="294.20" y2="457.10" stroke="#333" stroke-width="0.8"/>
<line x1="291.30" y1="483.40" x2="294.20" y2="483.40" stroke="#333" stroke-width="0.8"/>
<text x="273.60" y="471.00" font-size="8.7" text-anchor="middle" textLength="25.50" lengthAdjust="spacingAndGlyphs" fill="#333" stroke="#333" stroke-width="0.22" transform="rotate(-90 273.60 471.00)">Density</text>
<text x="488.20" y="470.30" font-size="8.0" text-anchor="middle" textLength="58.00" lengthAdjust="spacingAndGlyphs" fill="#222" stroke="#222" stroke-width="0.22" transform="rotate(-90 488.20 470.30)">Normal reference</text>
<path d="M298.60,496.20 C299.67,495.58 302.57,493.82 305.00,492.50 C307.43,491.18 309.90,488.65 313.20,488.30 C316.50,487.95 321.33,489.53 324.80,490.40 C328.27,491.27 331.43,492.60 334.00,493.50 C336.57,494.40 338.53,495.35 340.20,495.80 C341.87,496.25 343.37,496.13 344.00,496.20" stroke="#3dba3d" stroke-width="1.1" fill="none" stroke-linejoin="round"/>
<path d="M329.40,496.20 C330.93,495.23 336.30,492.40 338.60,490.40 C340.90,488.40 341.92,485.62 343.20,484.20 C344.48,482.78 345.27,482.40 346.30,481.90 C347.33,481.40 348.50,481.07 349.40,481.20 C350.30,481.33 350.93,481.17 351.70,482.70 C352.47,484.23 353.10,488.30 354.00,490.40 C354.90,492.50 356.07,494.33 357.10,495.30 C358.13,496.27 359.68,496.05 360.20,496.20" stroke="#11744e" stroke-width="1.1" fill="none" stroke-linejoin="round"/>
<path d="M324.80,496.20 C327.37,495.75 336.62,494.60 340.20,493.50 C343.78,492.40 344.25,490.63 346.30,489.60 C348.35,488.57 350.70,487.82 352.50,487.30 C354.30,486.78 355.57,486.37 357.10,486.50 C358.63,486.63 360.17,487.07 361.70,488.10 C363.23,489.13 365.02,491.35 366.30,492.70 C367.58,494.05 368.88,495.62 369.40,496.20" stroke="#1e4d8a" stroke-width="1.1" fill="none" stroke-linejoin="round"/>
<path d="M367.80,495.80 C368.32,494.52 370.00,489.85 370.90,488.10 C371.80,486.35 372.43,485.95 373.20,485.30 C373.97,484.65 374.60,485.88 375.50,484.20 C376.40,482.52 377.70,475.45 378.60,475.20 C379.50,474.95 380.13,480.82 380.90,482.70 C381.67,484.58 382.43,485.48 383.20,486.50 C383.97,487.52 384.85,487.77 385.50,488.80 C386.15,489.83 386.58,491.53 387.10,492.70 C387.62,493.87 388.35,495.28 388.60,495.80" stroke="#8479cc" stroke-width="1.1" fill="none" stroke-linejoin="round"/>
<path d="M386.30,495.80 C386.68,494.52 387.95,492.72 388.60,488.10 C389.25,483.48 389.82,472.47 390.20,468.10 C390.58,463.73 390.65,462.42 390.90,461.90 C391.15,461.38 391.32,462.68 391.70,465.00 C392.08,467.32 392.68,472.47 393.20,475.80 C393.72,479.13 394.15,482.70 394.80,485.00 C395.45,487.30 396.08,488.32 397.10,489.60 C398.12,490.88 399.62,491.72 400.90,492.70 C402.18,493.68 404.15,495.03 404.80,495.50" stroke="#cd1f48" stroke-width="1.1" fill="none" stroke-linejoin="round"/>
<path d="M407.10,495.80 C407.62,495.03 408.92,492.62 410.20,491.20 C411.48,489.78 413.40,488.20 414.80,487.30 C416.20,486.40 417.20,486.23 418.60,485.80 C420.00,485.37 421.78,484.78 423.20,484.70 C424.62,484.62 426.07,484.62 427.10,485.30 C428.13,485.98 428.63,487.05 429.40,488.80 C430.17,490.55 431.32,494.63 431.70,495.80" stroke="#ff8c00" stroke-width="1.1" fill="none" stroke-linejoin="round"/>
<path d="M427.10,495.80 C427.62,495.03 429.18,492.87 430.20,491.20 C431.22,489.53 432.05,486.88 433.20,485.80 C434.35,484.72 435.93,485.03 437.10,484.70 C438.27,484.37 439.13,483.67 440.20,483.80 C441.27,483.93 442.53,484.63 443.50,485.50 C444.47,486.37 445.08,487.75 446.00,489.00 C446.92,490.25 447.92,491.87 449.00,493.00 C450.08,494.13 451.92,495.33 452.50,495.80" stroke="#b8651e" stroke-width="1.1" fill="none" stroke-linejoin="round"/>
<path d="M449.00,496.00 C449.50,495.67 451.00,494.92 452.00,494.00 C453.00,493.08 453.83,491.42 455.00,490.50 C456.17,489.58 457.75,489.58 459.00,488.50 C460.25,487.42 461.62,486.42 462.50,484.00 C463.38,481.58 463.83,480.05 464.30,474.00 C464.77,467.95 464.97,447.70 465.30,447.70 C465.63,447.70 466.02,466.95 466.30,474.00 C466.58,481.05 466.72,486.33 467.00,490.00 C467.28,493.67 467.83,495.00 468.00,496.00" stroke="#7aab5a" stroke-width="1.1" fill="none" stroke-linejoin="round"/>
<text x="298.60" y="486.50" font-size="7.2" textLength="32.30" lengthAdjust="spacingAndGlyphs" fill="#a2bcda" stroke="#a2bcda" stroke-width="0.22">HSC/MPP</text>
<text x="332.50" y="479.30" font-size="7.2" textLength="19.70" lengthAdjust="spacingAndGlyphs" fill="#11744e" stroke="#11744e" stroke-width="0.22">LMPP</text>
<text x="357.80" y="483.20" font-size="7.2" textLength="13.10" lengthAdjust="spacingAndGlyphs" fill="#1e4d8a" stroke="#1e4d8a" stroke-width="0.22">CLP</text>
<text x="350.20" y="464.70" font-size="7.2" textLength="36.60" lengthAdjust="spacingAndGlyphs" fill="#8479cc" stroke="#8479cc" stroke-width="0.22">Pre−pro−B</text>
<text x="382.20" y="456.50" font-size="7.2" textLength="20.60" lengthAdjust="spacingAndGlyphs" fill="#cd1f48" stroke="#cd1f48" stroke-width="0.22">Pro−B</text>
<text x="402.50" y="481.60" font-size="7.2" textLength="20.70" lengthAdjust="spacingAndGlyphs" fill="#ff8c00" stroke="#ff8c00" stroke-width="0.22">Pre−B</text>
<text x="420.90" y="474.20" font-size="7.2" textLength="40.30" lengthAdjust="spacingAndGlyphs" fill="#b8651e" stroke="#b8651e" stroke-width="0.22">Immature−B</text>
<text x="428.60" y="450.80" font-size="7.2" textLength="33.60" lengthAdjust="spacingAndGlyphs" fill="#8db56e" stroke="#8db56e" stroke-width="0.22">Mature−B</text>
<path d="M295.00,505.50 L326.50,505.50" stroke="#111" stroke-width="0.9" fill="none"/>
<path d="M330.50,505.50 L326.00,507.70 L326.00,503.30 Z" fill="#111"/>
<text x="334.00" y="508.30" font-size="7.9" textLength="101.00" lengthAdjust="spacingAndGlyphs" fill="#222" stroke="#222" stroke-width="0.22">Pseudotime, B cell trajectory</text>
<defs><pattern id="sp" width="23" height="23" patternUnits="userSpaceOnUse"><circle cx="10.40" cy="12.87" r="0.63" fill="#22aeb8"/><circle cx="10.71" cy="11.68" r="0.55" fill="#22aeb8"/><circle cx="4.25" cy="11.77" r="0.56" fill="#22aeb8"/><circle cx="18.24" cy="2.16" r="0.48" fill="#22aeb8"/><circle cx="2.09" cy="18.62" r="0.57" fill="#22aeb8"/><circle cx="0.96" cy="22.59" r="0.64" fill="#22aeb8"/><circle cx="15.04" cy="14.16" r="0.44" fill="#22aeb8"/><circle cx="0.35" cy="12.15" r="0.41" fill="#22aeb8"/><circle cx="4.37" cy="5.56" r="0.41" fill="#22aeb8"/><circle cx="10.67" cy="10.13" r="0.61" fill="#22aeb8"/><circle cx="11.94" cy="14.73" r="0.52" fill="#22aeb8"/><circle cx="15.24" cy="10.52" r="0.47" fill="#22aeb8"/><circle cx="22.95" cy="22.90" r="0.61" fill="#22aeb8"/><circle cx="16.28" cy="7.25" r="0.46" fill="#22aeb8"/><circle cx="6.65" cy="1.62" r="0.59" fill="#22aeb8"/><circle cx="9.21" cy="19.47" r="0.50" fill="#22aeb8"/><circle cx="22.03" cy="19.49" r="0.40" fill="#22aeb8"/><circle cx="4.82" cy="20.94" r="0.52" fill="#22aeb8"/><circle cx="22.55" cy="9.14" r="0.42" fill="#22aeb8"/><circle cx="14.48" cy="17.91" r="0.47" fill="#22aeb8"/><circle cx="2.00" cy="7.65" r="0.64" fill="#22aeb8"/><circle cx="17.43" cy="2.71" r="0.46" fill="#22aeb8"/><circle cx="2.32" cy="1.38" r="0.60" fill="#22aeb8"/><circle cx="4.09" cy="12.86" r="0.51" fill="#22aeb8"/><circle cx="4.39" cy="16.83" r="0.43" fill="#22aeb8"/><circle cx="14.81" cy="2.68" r="0.51" fill="#22aeb8"/><circle cx="4.90" cy="6.21" r="0.64" fill="#22aeb8"/><circle cx="18.48" cy="7.00" r="0.62" fill="#22aeb8"/><circle cx="4.85" cy="9.07" r="0.61" fill="#22aeb8"/><circle cx="14.76" cy="2.31" r="0.65" fill="#22aeb8"/><circle cx="4.90" cy="5.94" r="0.59" fill="#22aeb8"/><circle cx="7.57" cy="6.82" r="0.42" fill="#22aeb8"/><circle cx="2.07" cy="13.40" r="0.46" fill="#22aeb8"/><circle cx="13.83" cy="8.55" r="0.51" fill="#22aeb8"/><circle cx="22.06" cy="11.13" r="0.54" fill="#22aeb8"/><circle cx="19.93" cy="4.21" r="0.44" fill="#22aeb8"/><circle cx="20.89" cy="18.81" r="0.46" fill="#22aeb8"/><circle cx="4.37" cy="17.01" r="0.64" fill="#22aeb8"/><circle cx="4.52" cy="21.85" r="0.62" fill="#22aeb8"/><circle cx="13.88" cy="9.69" r="0.43" fill="#22aeb8"/><circle cx="0.89" cy="22.14" r="0.46" fill="#22aeb8"/><circle cx="16.21" cy="5.91" r="0.61" fill="#22aeb8"/><circle cx="13.72" cy="6.75" r="0.44" fill="#22aeb8"/><circle cx="16.57" cy="1.58" r="0.46" fill="#22aeb8"/><circle cx="12.87" cy="19.61" r="0.55" fill="#22aeb8"/><circle cx="6.45" cy="21.10" r="0.45" fill="#22aeb8"/><circle cx="0.38" cy="6.19" r="0.51" fill="#22aeb8"/><circle cx="1.39" cy="4.05" r="0.49" fill="#22aeb8"/><circle cx="13.16" cy="3.03" r="0.49" fill="#22aeb8"/><circle cx="20.49" cy="22.55" r="0.56" fill="#22aeb8"/><circle cx="15.90" cy="13.44" r="0.44" fill="#22aeb8"/><circle cx="0.81" cy="0.41" r="0.63" fill="#22aeb8"/><circle cx="16.12" cy="22.14" r="0.41" fill="#22aeb8"/><circle cx="14.63" cy="11.09" r="0.58" fill="#22aeb8"/><circle cx="7.33" cy="22.99" r="0.42" fill="#22aeb8"/><circle cx="12.56" cy="16.95" r="0.63" fill="#22aeb8"/><circle cx="16.95" cy="16.18" r="0.60" fill="#22aeb8"/><circle cx="21.05" cy="8.09" r="0.57" fill="#22aeb8"/><circle cx="20.72" cy="20.04" r="0.50" fill="#22aeb8"/><circle cx="18.18" cy="19.86" r="0.54" fill="#22aeb8"/><circle cx="14.37" cy="8.79" r="0.55" fill="#22aeb8"/><circle cx="14.00" cy="1.84" r="0.56" fill="#22aeb8"/><circle cx="22.85" cy="20.24" r="0.58" fill="#22aeb8"/><circle cx="8.93" cy="16.91" r="0.55" fill="#22aeb8"/><circle cx="10.13" cy="19.28" r="0.42" fill="#22aeb8"/><circle cx="17.25" cy="0.69" r="0.55" fill="#22aeb8"/><circle cx="11.06" cy="5.30" r="0.57" fill="#22aeb8"/><circle cx="11.44" cy="14.13" r="0.63" fill="#22aeb8"/><circle cx="5.88" cy="0.26" r="0.48" fill="#22aeb8"/><circle cx="15.60" cy="4.66" r="0.44" fill="#22aeb8"/><circle cx="20.83" cy="15.18" r="0.51" fill="#22aeb8"/><circle cx="20.51" cy="7.52" r="0.57" fill="#22aeb8"/><circle cx="4.57" cy="9.91" r="0.60" fill="#22aeb8"/><circle cx="21.03" cy="20.25" r="0.50" fill="#22aeb8"/><circle cx="13.41" cy="7.28" r="0.43" fill="#22aeb8"/><circle cx="11.42" cy="19.25" r="0.61" fill="#22aeb8"/><circle cx="16.36" cy="21.85" r="0.47" fill="#22aeb8"/><circle cx="3.89" cy="10.36" r="0.47" fill="#22aeb8"/><circle cx="4.92" cy="9.52" r="0.56" fill="#22aeb8"/><circle cx="11.36" cy="7.25" r="0.61" fill="#22aeb8"/><circle cx="22.59" cy="10.41" r="0.42" fill="#22aeb8"/><circle cx="0.72" cy="20.08" r="0.41" fill="#22aeb8"/><circle cx="16.30" cy="13.12" r="0.48" fill="#22aeb8"/><circle cx="18.20" cy="0.44" r="0.43" fill="#22aeb8"/><circle cx="10.46" cy="0.57" r="0.61" fill="#22aeb8"/><circle cx="5.46" cy="3.24" r="0.41" fill="#22aeb8"/><circle cx="14.47" cy="10.27" r="0.56" fill="#22aeb8"/><circle cx="15.07" cy="18.57" r="0.64" fill="#22aeb8"/><circle cx="15.74" cy="4.58" r="0.52" fill="#22aeb8"/><circle cx="4.11" cy="0.25" r="0.52" fill="#22aeb8"/><circle cx="16.43" cy="4.12" r="0.47" fill="#22aeb8"/><circle cx="7.95" cy="16.04" r="0.53" fill="#22aeb8"/><circle cx="14.13" cy="17.39" r="0.50" fill="#22aeb8"/><circle cx="18.21" cy="20.84" r="0.42" fill="#22aeb8"/><circle cx="21.45" cy="16.61" r="0.43" fill="#22aeb8"/><circle cx="10.43" cy="14.39" r="0.63" fill="#22aeb8"/><circle cx="8.67" cy="13.08" r="0.62" fill="#22aeb8"/><circle cx="18.33" cy="21.72" r="0.52" fill="#22aeb8"/><circle cx="14.98" cy="4.71" r="0.58" fill="#22aeb8"/><circle cx="18.82" cy="14.76" r="0.58" fill="#22aeb8"/><circle cx="4.91" cy="20.70" r="0.65" fill="#22aeb8"/><circle cx="22.48" cy="12.35" r="0.60" fill="#22aeb8"/><circle cx="7.37" cy="20.93" r="0.61" fill="#22aeb8"/><circle cx="8.02" cy="1.90" r="0.51" fill="#22aeb8"/><circle cx="12.66" cy="17.67" r="0.52" fill="#22aeb8"/><circle cx="0.65" cy="18.61" r="0.42" fill="#22aeb8"/><circle cx="18.40" cy="3.98" r="0.48" fill="#22aeb8"/><circle cx="18.12" cy="3.23" r="0.44" fill="#22aeb8"/><circle cx="11.88" cy="16.64" r="0.61" fill="#22aeb8"/><circle cx="15.86" cy="21.75" r="0.52" fill="#22aeb8"/><circle cx="21.83" cy="1.98" r="0.46" fill="#22aeb8"/><circle cx="12.11" cy="6.67" r="0.58" fill="#22aeb8"/><circle cx="14.69" cy="12.02" r="0.61" fill="#22aeb8"/><circle cx="12.88" cy="7.17" r="0.50" fill="#22aeb8"/><circle cx="19.44" cy="20.71" r="0.45" fill="#22aeb8"/><circle cx="19.57" cy="22.27" r="0.53" fill="#22aeb8"/><circle cx="13.18" cy="4.62" r="0.53" fill="#22aeb8"/><circle cx="11.57" cy="13.92" r="0.41" fill="#22aeb8"/><circle cx="22.30" cy="11.87" r="0.50" fill="#22aeb8"/><circle cx="18.42" cy="12.95" r="0.52" fill="#22aeb8"/><circle cx="15.89" cy="1.52" r="0.53" fill="#22aeb8"/><circle cx="9.52" cy="22.01" r="0.63" fill="#22aeb8"/><circle cx="6.19" cy="10.88" r="0.43" fill="#22aeb8"/><circle cx="9.97" cy="18.76" r="0.63" fill="#22aeb8"/><circle cx="10.96" cy="7.30" r="0.45" fill="#22aeb8"/><circle cx="14.21" cy="21.28" r="0.43" fill="#22aeb8"/><circle cx="17.92" cy="0.52" r="0.45" fill="#22aeb8"/><circle cx="5.23" cy="15.80" r="0.48" fill="#22aeb8"/><circle cx="8.17" cy="14.25" r="0.43" fill="#22aeb8"/><circle cx="16.81" cy="2.82" r="0.53" fill="#22aeb8"/><circle cx="5.76" cy="4.55" r="0.53" fill="#22aeb8"/><circle cx="10.05" cy="8.64" r="0.50" fill="#22aeb8"/><circle cx="12.17" cy="3.67" r="0.45" fill="#22aeb8"/><circle cx="14.52" cy="14.68" r="0.53" fill="#22aeb8"/><circle cx="19.58" cy="14.07" r="0.61" fill="#22aeb8"/></pattern></defs>
<g filter="url(#rough)">
<path d="M32.0,541.2 C33.1,540.8 35.2,541.3 36.5,542.5 C37.8,543.7 39.1,546.3 40.0,548.5 C40.9,550.7 41.5,553.1 42.0,555.5 C42.5,557.9 43.3,561.0 43.2,563.0 C43.1,565.0 42.4,567.4 41.5,567.8 C40.6,568.2 39.1,567.0 38.0,565.5 C36.9,564.0 36.2,560.9 35.0,558.5 C33.8,556.1 31.9,553.2 31.0,551.0 C30.1,548.8 29.6,546.6 29.8,545.0 C30.0,543.4 30.9,541.6 32.0,541.2Z" fill="#f57e70"/>
<path d="M70.0,543.0 C71.8,541.8 75.0,541.7 77.0,541.8 C79.0,541.9 80.9,542.1 82.0,543.5 C83.1,544.9 83.8,547.8 83.8,550.0 C83.8,552.2 83.1,554.9 82.2,557.0 C81.3,559.1 79.6,560.8 78.5,562.5 C77.4,564.2 76.4,565.8 75.5,567.5 C74.6,569.2 74.0,572.1 73.0,573.0 C72.0,573.9 70.2,574.5 69.5,573.0 C68.8,571.5 68.8,566.8 68.5,564.0 C68.2,561.2 67.8,559.0 67.5,556.5 C67.2,554.0 66.0,551.2 66.4,549.0 C66.8,546.8 68.2,544.2 70.0,543.0Z" fill="#f57e70"/>
<path d="M66.0,576.5 C67.2,575.7 68.3,572.6 69.5,572.0 C70.7,571.4 71.6,572.2 73.0,573.0 C74.4,573.8 76.3,576.7 78.0,576.5 C79.7,576.3 81.5,573.5 83.0,572.0 C84.5,570.5 85.7,568.7 87.0,567.5 C88.3,566.3 89.6,565.3 91.0,564.8 C92.4,564.3 94.1,564.0 95.5,564.3 C96.9,564.6 98.5,565.4 99.5,566.5 C100.5,567.6 101.6,569.3 101.6,571.0 C101.6,572.7 100.8,574.8 99.5,576.5 C98.2,578.2 95.7,580.0 94.0,581.4 C92.3,582.8 90.5,583.6 89.5,585.0 C88.5,586.4 87.8,588.0 87.8,589.5 C87.8,591.0 88.5,592.1 89.5,594.0 C90.5,595.9 92.2,598.6 93.5,601.0 C94.8,603.4 96.6,606.1 97.5,608.5 C98.4,610.9 99.0,613.5 99.0,615.5 C99.0,617.5 98.7,619.5 97.5,620.8 C96.3,622.1 93.8,622.8 92.0,623.2 C90.2,623.6 88.2,623.8 86.5,623.0 C84.8,622.2 83.1,620.4 81.5,618.5 C79.9,616.6 78.3,613.2 77.0,611.5 C75.7,609.8 74.4,608.0 73.5,608.0 C72.6,608.0 72.8,610.2 71.5,611.5 C70.2,612.8 68.1,614.7 66.0,615.5 C63.9,616.3 61.0,616.6 59.0,616.4 C57.0,616.2 55.2,615.6 54.2,614.5 C53.2,613.4 52.7,611.4 52.8,609.5 C52.9,607.6 53.9,604.8 55.0,603.0 C56.1,601.2 58.2,599.8 59.5,598.5 C60.8,597.2 62.9,595.8 62.5,595.0 C62.1,594.2 58.8,594.5 57.0,594.0 C55.2,593.5 53.8,592.5 52.0,591.8 C50.2,591.0 47.7,591.2 46.5,589.5 C45.3,587.8 44.9,584.2 44.8,581.5 C44.7,578.8 44.8,574.6 45.8,573.2 C46.8,571.8 48.7,572.8 50.5,573.2 C52.3,573.6 54.9,574.8 56.8,575.4 C58.7,576.0 60.5,576.8 62.0,577.0 C63.5,577.2 64.8,577.3 66.0,576.5Z" fill="#f57e70"/>
<path d="M57.2,626.2 C57.7,625.5 59.0,627.5 60.0,627.5 C61.0,627.5 62.2,626.2 63.5,626.3 C64.8,626.4 66.9,626.8 68.0,628.0 C69.1,629.2 69.8,631.5 70.0,633.5 C70.2,635.5 69.8,638.0 69.0,640.0 C68.2,642.0 66.8,644.9 65.5,645.8 C64.2,646.7 62.2,646.2 61.0,645.2 C59.8,644.2 58.7,641.7 58.0,639.5 C57.3,637.3 56.9,634.2 56.8,632.0 C56.7,629.8 56.7,627.0 57.2,626.2Z" fill="#f57e70"/>
<path d="M35.8,585 C33.5,589 33,594 36,597.5 C40,600 47,600.5 52,599.3 C54.5,598.5 56,597 56.5,595.5" stroke="#f57e70" stroke-width="4.6" fill="none" stroke-linecap="round"/>
<path d="M72.0,566.0 C72.7,564.0 76.0,563.0 78.0,563.0 C80.0,563.0 82.7,564.8 84.0,566.0 C85.3,567.2 86.7,568.5 86.0,570.0 C85.3,571.5 82.0,574.2 80.0,575.0 C78.0,575.8 75.3,576.5 74.0,575.0 C72.7,573.5 71.3,568.0 72.0,566.0Z" fill="#f57e70" opacity="0.2"/>
<path d="M66.0,577.0 C67.2,574.3 69.2,573.8 71.0,574.0 C72.8,574.2 75.0,576.2 77.0,578.0 C79.0,579.8 81.5,582.3 83.0,585.0 C84.5,587.7 86.2,591.0 86.0,594.0 C85.8,597.0 83.8,601.0 82.0,603.0 C80.2,605.0 77.3,606.3 75.0,606.0 C72.7,605.7 69.8,603.7 68.0,601.0 C66.2,598.3 64.3,594.0 64.0,590.0 C63.7,586.0 64.8,579.7 66.0,577.0Z" fill="#22aeb8" opacity="0.22"/>
<path d="M66.5,566.0 C67.1,564.0 68.8,564.5 69.5,566.0 C70.2,567.5 70.4,571.3 70.5,575.0 C70.6,578.7 70.6,585.5 70.0,588.0 C69.4,590.5 67.7,591.7 67.0,590.0 C66.3,588.3 66.1,582.0 66.0,578.0 C65.9,574.0 65.9,568.0 66.5,566.0Z" fill="#22aeb8" opacity="0.55"/>
<path d="M57.0,585.0 C57.7,583.8 61.0,583.2 62.0,584.0 C63.0,584.8 63.7,588.8 63.0,590.0 C62.3,591.2 59.0,591.8 58.0,591.0 C57.0,590.2 56.3,586.2 57.0,585.0Z" fill="#22aeb8" opacity="0.5"/>
<path d="M73.0,595.0 C74.0,593.8 78.2,593.2 80.0,594.0 C81.8,594.8 84.2,598.3 84.0,600.0 C83.8,601.7 80.7,603.8 79.0,604.0 C77.3,604.2 75.0,602.5 74.0,601.0 C73.0,599.5 72.0,596.2 73.0,595.0Z" fill="#22aeb8" opacity="0.4"/>
<path d="M53.0,606.0 C53.5,604.0 56.7,602.7 58.0,603.0 C59.3,603.3 60.7,606.1 61.0,608.0 C61.3,609.9 61.0,613.3 60.0,614.5 C59.0,615.7 56.2,616.4 55.0,615.0 C53.8,613.6 52.5,608.0 53.0,606.0Z" fill="#22aeb8" opacity="0.45"/>
<path d="M32.0,541.2 C33.1,540.8 35.2,541.3 36.5,542.5 C37.8,543.7 39.1,546.3 40.0,548.5 C40.9,550.7 41.5,553.1 42.0,555.5 C42.5,557.9 43.3,561.0 43.2,563.0 C43.1,565.0 42.4,567.4 41.5,567.8 C40.6,568.2 39.1,567.0 38.0,565.5 C36.9,564.0 36.2,560.9 35.0,558.5 C33.8,556.1 31.9,553.2 31.0,551.0 C30.1,548.8 29.6,546.6 29.8,545.0 C30.0,543.4 30.9,541.6 32.0,541.2Z" fill="url(#sp)"/>
<path d="M70.0,543.0 C71.8,541.8 75.0,541.7 77.0,541.8 C79.0,541.9 80.9,542.1 82.0,543.5 C83.1,544.9 83.8,547.8 83.8,550.0 C83.8,552.2 83.1,554.9 82.2,557.0 C81.3,559.1 79.6,560.8 78.5,562.5 C77.4,564.2 76.4,565.8 75.5,567.5 C74.6,569.2 74.0,572.1 73.0,573.0 C72.0,573.9 70.2,574.5 69.5,573.0 C68.8,571.5 68.8,566.8 68.5,564.0 C68.2,561.2 67.8,559.0 67.5,556.5 C67.2,554.0 66.0,551.2 66.4,549.0 C66.8,546.8 68.2,544.2 70.0,543.0Z" fill="url(#sp)"/>
<path d="M66.0,576.5 C67.2,575.7 68.3,572.6 69.5,572.0 C70.7,571.4 71.6,572.2 73.0,573.0 C74.4,573.8 76.3,576.7 78.0,576.5 C79.7,576.3 81.5,573.5 83.0,572.0 C84.5,570.5 85.7,568.7 87.0,567.5 C88.3,566.3 89.6,565.3 91.0,564.8 C92.4,564.3 94.1,564.0 95.5,564.3 C96.9,564.6 98.5,565.4 99.5,566.5 C100.5,567.6 101.6,569.3 101.6,571.0 C101.6,572.7 100.8,574.8 99.5,576.5 C98.2,578.2 95.7,580.0 94.0,581.4 C92.3,582.8 90.5,583.6 89.5,585.0 C88.5,586.4 87.8,588.0 87.8,589.5 C87.8,591.0 88.5,592.1 89.5,594.0 C90.5,595.9 92.2,598.6 93.5,601.0 C94.8,603.4 96.6,606.1 97.5,608.5 C98.4,610.9 99.0,613.5 99.0,615.5 C99.0,617.5 98.7,619.5 97.5,620.8 C96.3,622.1 93.8,622.8 92.0,623.2 C90.2,623.6 88.2,623.8 86.5,623.0 C84.8,622.2 83.1,620.4 81.5,618.5 C79.9,616.6 78.3,613.2 77.0,611.5 C75.7,609.8 74.4,608.0 73.5,608.0 C72.6,608.0 72.8,610.2 71.5,611.5 C70.2,612.8 68.1,614.7 66.0,615.5 C63.9,616.3 61.0,616.6 59.0,616.4 C57.0,616.2 55.2,615.6 54.2,614.5 C53.2,613.4 52.7,611.4 52.8,609.5 C52.9,607.6 53.9,604.8 55.0,603.0 C56.1,601.2 58.2,599.8 59.5,598.5 C60.8,597.2 62.9,595.8 62.5,595.0 C62.1,594.2 58.8,594.5 57.0,594.0 C55.2,593.5 53.8,592.5 52.0,591.8 C50.2,591.0 47.7,591.2 46.5,589.5 C45.3,587.8 44.9,584.2 44.8,581.5 C44.7,578.8 44.8,574.6 45.8,573.2 C46.8,571.8 48.7,572.8 50.5,573.2 C52.3,573.6 54.9,574.8 56.8,575.4 C58.7,576.0 60.5,576.8 62.0,577.0 C63.5,577.2 64.8,577.3 66.0,576.5Z" fill="url(#sp)"/>
<path d="M57.2,626.2 C57.7,625.5 59.0,627.5 60.0,627.5 C61.0,627.5 62.2,626.2 63.5,626.3 C64.8,626.4 66.9,626.8 68.0,628.0 C69.1,629.2 69.8,631.5 70.0,633.5 C70.2,635.5 69.8,638.0 69.0,640.0 C68.2,642.0 66.8,644.9 65.5,645.8 C64.2,646.7 62.2,646.2 61.0,645.2 C59.8,644.2 58.7,641.7 58.0,639.5 C57.3,637.3 56.9,634.2 56.8,632.0 C56.7,629.8 56.7,627.0 57.2,626.2Z" fill="url(#sp)"/>
<path d="M35.8,585 C33.5,589 33,594 36,597.5 C40,600 47,600.5 52,599.3 C54.5,598.5 56,597 56.5,595.5" stroke="url(#sp)" stroke-width="4.6" fill="none" stroke-linecap="round"/>
<ellipse cx="129.6" cy="592.8" rx="5.8" ry="4.6" fill="#f57e70"/>
<ellipse cx="130.2" cy="593.4" rx="4.6" ry="3.6" fill="#22aeb8" opacity="0.8"/>
</g>
<path d="M20.5,659.1 L20.5,645" stroke="#111" stroke-width="1" fill="none"/>
<path d="M18.5,645.6 L20.5,641.2 L22.5,645.6 Z" fill="#111"/>
<path d="M20.5,659.1 L34.5,659.1" stroke="#111" stroke-width="1" fill="none"/>
<path d="M34,657.1 L38.4,659.1 L34,661.1 Z" fill="#111"/>
<text x="24.00" y="624.50" font-size="7.3" text-anchor="middle" textLength="27.00" lengthAdjust="spacingAndGlyphs" fill="#222" stroke="#222" stroke-width="0.22" transform="rotate(-90 24.00 624.50)">UMAP 2</text>
<text x="41.00" y="660.90" font-size="7.3" textLength="26.20" lengthAdjust="spacingAndGlyphs" fill="#222" stroke="#222" stroke-width="0.22">UMAP 1</text>
<circle cx="74.40" cy="641.60" r="1.35" fill="#f57e70"/>
<circle cx="74.40" cy="648.70" r="1.35" fill="#22aeb8"/>
<text x="77.70" y="643.90" font-size="6.6" textLength="72.90" lengthAdjust="spacingAndGlyphs" fill="#222" stroke="#222" stroke-width="0.22">scATAC-Seq: 45,811 cells</text>
<text x="77.70" y="651.00" font-size="6.6" textLength="65.60" lengthAdjust="spacingAndGlyphs" fill="#222" stroke="#222" stroke-width="0.22">snmC-Seq2: 2,006 cells</text>
<text x="206.70" y="549.30" font-size="7.0" text-anchor="middle" textLength="37.80" lengthAdjust="spacingAndGlyphs" fill="#222" stroke="#222" stroke-width="0.22">scRNA-Seq</text>
<line x1="177.80" y1="552.50" x2="177.80" y2="650.70" stroke="#111" stroke-width="1.0"/>
<line x1="174.80" y1="560.80" x2="177.80" y2="560.80" stroke="#111" stroke-width="0.95"/>
<text x="170.80" y="563.50" font-size="7.5" text-anchor="end" textLength="9.70" lengthAdjust="spacingAndGlyphs" fill="#333" stroke="#333" stroke-width="0.22">3.0</text>
<line x1="174.80" y1="580.20" x2="177.80" y2="580.20" stroke="#111" stroke-width="0.95"/>
<text x="170.80" y="582.90" font-size="7.5" text-anchor="end" textLength="9.70" lengthAdjust="spacingAndGlyphs" fill="#333" stroke="#333" stroke-width="0.22">2.5</text>
<line x1="174.80" y1="600.00" x2="177.80" y2="600.00" stroke="#111" stroke-width="0.95"/>
<text x="170.80" y="602.70" font-size="7.5" text-anchor="end" textLength="9.70" lengthAdjust="spacingAndGlyphs" fill="#333" stroke="#333" stroke-width="0.22">2.0</text>
<line x1="174.80" y1="619.60" x2="177.80" y2="619.60" stroke="#111" stroke-width="0.95"/>
<text x="170.80" y="622.30" font-size="7.5" text-anchor="end" textLength="9.70" lengthAdjust="spacingAndGlyphs" fill="#333" stroke="#333" stroke-width="0.22">1.5</text>
<line x1="174.80" y1="639.20" x2="177.80" y2="639.20" stroke="#111" stroke-width="0.95"/>
<text x="170.80" y="641.90" font-size="7.5" text-anchor="end" textLength="9.70" lengthAdjust="spacingAndGlyphs" fill="#333" stroke="#333" stroke-width="0.22">1.0</text>
<line x1="177.30" y1="650.20" x2="232.70" y2="650.20" stroke="#111" stroke-width="1.0"/>
<line x1="192.40" y1="650.20" x2="192.40" y2="653.30" stroke="#111" stroke-width="0.9"/>
<line x1="218.20" y1="650.20" x2="218.20" y2="653.30" stroke="#111" stroke-width="0.9"/>
<path d="M192.40,555.00 L192.40,579.50 M192.40,605.50 L192.40,618.00" stroke="#222" stroke-width="0.9" stroke-dasharray="2.6,1.8" fill="none"/>
<line x1="187.70" y1="555.50" x2="197.10" y2="555.50" stroke="#1a1a1a" stroke-width="1.0"/>
<line x1="187.70" y1="618.50" x2="197.10" y2="618.50" stroke="#1a1a1a" stroke-width="1.0"/>
<rect x="182.20" y="579.50" width="21.00" height="26.00" fill="#c8102e" stroke="#111" stroke-width="0.8"/>
<line x1="182.20" y1="591.10" x2="203.20" y2="591.10" stroke="#111" stroke-width="1.4"/>
<path d="M218.20,595.90 L218.20,597.20 M218.20,631.00 L218.20,646.40" stroke="#222" stroke-width="0.9" stroke-dasharray="2.6,1.8" fill="none"/>
<line x1="213.50" y1="595.50" x2="222.90" y2="595.50" stroke="#1a1a1a" stroke-width="1.0"/>
<line x1="213.50" y1="646.50" x2="222.90" y2="646.50" stroke="#1a1a1a" stroke-width="1.0"/>
<rect x="208.00" y="597.20" width="20.40" height="33.80" fill="#17508a" stroke="#111" stroke-width="0.8"/>
<line x1="208.00" y1="599.20" x2="228.40" y2="599.20" stroke="#111" stroke-width="1.4"/>
<text x="194.70" y="567.40" font-size="6.6" textLength="28.00" lengthAdjust="spacingAndGlyphs" fill="#333" stroke="#333" stroke-width="0.22">p = 0.007</text>
<text x="154.20" y="600.70" font-size="8.6" text-anchor="middle" textLength="27.00" lengthAdjust="spacingAndGlyphs" fill="#222" stroke="#222" stroke-width="0.22" transform="rotate(-90 154.20 600.70)">Entropy</text>
<text x="192.90" y="662.00" font-size="7.0" text-anchor="middle" textLength="14.00" lengthAdjust="spacingAndGlyphs" fill="#333" stroke="#333" stroke-width="0.22">≤6m</text>
<text x="217.80" y="662.00" font-size="7.0" text-anchor="middle" textLength="14.50" lengthAdjust="spacingAndGlyphs" fill="#333" stroke="#333" stroke-width="0.22">&gt;6m</text>
<text x="294.00" y="548.70" font-size="7.0" text-anchor="middle" textLength="41.00" lengthAdjust="spacingAndGlyphs" fill="#222" stroke="#222" stroke-width="0.22">scATAC-Seq</text>
<line x1="266.00" y1="552.20" x2="266.00" y2="650.70" stroke="#111" stroke-width="1.0"/>
<line x1="263.00" y1="563.80" x2="266.00" y2="563.80" stroke="#111" stroke-width="0.95"/>
<text x="259.00" y="566.50" font-size="7.5" text-anchor="end" textLength="9.70" lengthAdjust="spacingAndGlyphs" fill="#333" stroke="#333" stroke-width="0.22">2.4</text>
<line x1="263.00" y1="591.80" x2="266.00" y2="591.80" stroke="#111" stroke-width="0.95"/>
<text x="259.00" y="594.50" font-size="7.5" text-anchor="end" textLength="9.70" lengthAdjust="spacingAndGlyphs" fill="#333" stroke="#333" stroke-width="0.22">2.0</text>
<line x1="263.00" y1="619.70" x2="266.00" y2="619.70" stroke="#111" stroke-width="0.95"/>
<text x="259.00" y="622.40" font-size="7.5" text-anchor="end" textLength="9.70" lengthAdjust="spacingAndGlyphs" fill="#333" stroke="#333" stroke-width="0.22">1.6</text>
<line x1="263.00" y1="647.40" x2="266.00" y2="647.40" stroke="#111" stroke-width="0.95"/>
<text x="259.00" y="650.10" font-size="7.5" text-anchor="end" textLength="9.70" lengthAdjust="spacingAndGlyphs" fill="#333" stroke="#333" stroke-width="0.22">1.2</text>
<line x1="263.00" y1="577.80" x2="266.00" y2="577.80" stroke="#111" stroke-width="0.95"/>
<line x1="263.00" y1="605.70" x2="266.00" y2="605.70" stroke="#111" stroke-width="0.95"/>
<line x1="263.00" y1="633.60" x2="266.00" y2="633.60" stroke="#111" stroke-width="0.95"/>
<line x1="265.50" y1="650.20" x2="320.80" y2="650.20" stroke="#111" stroke-width="1.0"/>
<line x1="281.00" y1="650.20" x2="281.00" y2="653.30" stroke="#111" stroke-width="0.9"/>
<line x1="306.30" y1="650.20" x2="306.30" y2="653.30" stroke="#111" stroke-width="0.9"/>
<path d="M281.00,555.40 L281.00,577.60 M281.00,605.10 L281.00,625.20" stroke="#222" stroke-width="0.9" stroke-dasharray="2.6,1.8" fill="none"/>
<line x1="276.30" y1="555.50" x2="285.70" y2="555.50" stroke="#1a1a1a" stroke-width="1.0"/>
<line x1="276.30" y1="625.50" x2="285.70" y2="625.50" stroke="#1a1a1a" stroke-width="1.0"/>
<rect x="270.70" y="577.60" width="20.50" height="27.50" fill="#c8102e" stroke="#111" stroke-width="0.8"/>
<line x1="270.70" y1="590.30" x2="291.20" y2="590.30" stroke="#111" stroke-width="1.4"/>
<path d="M306.30,570.60 L306.30,578.70 M306.30,629.90 L306.30,646.40" stroke="#222" stroke-width="0.9" stroke-dasharray="2.6,1.8" fill="none"/>
<line x1="301.60" y1="570.50" x2="311.00" y2="570.50" stroke="#1a1a1a" stroke-width="1.0"/>
<line x1="301.60" y1="646.50" x2="311.00" y2="646.50" stroke="#1a1a1a" stroke-width="1.0"/>
<rect x="296.00" y="578.70" width="20.60" height="51.20" fill="#17508a" stroke="#111" stroke-width="0.8"/>
<line x1="296.00" y1="601.30" x2="316.60" y2="601.30" stroke="#111" stroke-width="1.4"/>
<text x="283.40" y="566.60" font-size="6.6" textLength="24.00" lengthAdjust="spacingAndGlyphs" fill="#333" stroke="#333" stroke-width="0.22">p = 0.07</text>
<text x="245.00" y="600.70" font-size="8.6" text-anchor="middle" textLength="27.00" lengthAdjust="spacingAndGlyphs" fill="#222" stroke="#222" stroke-width="0.22" transform="rotate(-90 245.00 600.70)">Entropy</text>
<text x="280.60" y="662.00" font-size="7.0" text-anchor="middle" textLength="14.00" lengthAdjust="spacingAndGlyphs" fill="#333" stroke="#333" stroke-width="0.22">≤6m</text>
<text x="306.00" y="662.00" font-size="7.0" text-anchor="middle" textLength="14.50" lengthAdjust="spacingAndGlyphs" fill="#333" stroke="#333" stroke-width="0.22">&gt;6m</text>
<text x="379.70" y="548.90" font-size="7.0" text-anchor="middle" textLength="38.50" lengthAdjust="spacingAndGlyphs" fill="#222" stroke="#222" stroke-width="0.22">snmC-Seq2</text>
<line x1="352.20" y1="552.20" x2="352.20" y2="650.70" stroke="#111" stroke-width="1.0"/>
<line x1="349.20" y1="560.70" x2="352.20" y2="560.70" stroke="#111" stroke-width="0.95"/>
<text x="345.20" y="563.40" font-size="7.5" text-anchor="end" textLength="9.70" lengthAdjust="spacingAndGlyphs" fill="#333" stroke="#333" stroke-width="0.22">1.3</text>
<line x1="349.20" y1="580.30" x2="352.20" y2="580.30" stroke="#111" stroke-width="0.95"/>
<text x="345.20" y="583.00" font-size="7.5" text-anchor="end" textLength="9.70" lengthAdjust="spacingAndGlyphs" fill="#333" stroke="#333" stroke-width="0.22">1.2</text>
<line x1="349.20" y1="600.20" x2="352.20" y2="600.20" stroke="#111" stroke-width="0.95"/>
<text x="345.20" y="602.90" font-size="7.5" text-anchor="end" textLength="9.70" lengthAdjust="spacingAndGlyphs" fill="#333" stroke="#333" stroke-width="0.22">1.1</text>
<line x1="349.20" y1="619.90" x2="352.20" y2="619.90" stroke="#111" stroke-width="0.95"/>
<text x="345.20" y="622.60" font-size="7.5" text-anchor="end" textLength="9.70" lengthAdjust="spacingAndGlyphs" fill="#333" stroke="#333" stroke-width="0.22">1.0</text>
<line x1="349.20" y1="639.60" x2="352.20" y2="639.60" stroke="#111" stroke-width="0.95"/>
<text x="345.20" y="642.30" font-size="7.5" text-anchor="end" textLength="9.70" lengthAdjust="spacingAndGlyphs" fill="#333" stroke="#333" stroke-width="0.22">0.9</text>
<line x1="351.70" y1="650.20" x2="406.60" y2="650.20" stroke="#111" stroke-width="1.0"/>
<line x1="367.00" y1="650.20" x2="367.00" y2="653.30" stroke="#111" stroke-width="0.9"/>
<line x1="393.00" y1="650.20" x2="393.00" y2="653.30" stroke="#111" stroke-width="0.9"/>
<path d="M367.00,555.80 L367.00,561.30 M367.00,597.70 L367.00,612.90" stroke="#222" stroke-width="0.9" stroke-dasharray="2.6,1.8" fill="none"/>
<line x1="362.30" y1="555.50" x2="371.70" y2="555.50" stroke="#1a1a1a" stroke-width="1.0"/>
<line x1="362.30" y1="612.50" x2="371.70" y2="612.50" stroke="#1a1a1a" stroke-width="1.0"/>
<rect x="357.10" y="561.30" width="20.10" height="36.40" fill="#c8102e" stroke="#111" stroke-width="0.8"/>
<line x1="357.10" y1="587.10" x2="377.20" y2="587.10" stroke="#111" stroke-width="1.4"/>
<path d="M393.00,594.10 L393.00,605.50 M393.00,631.50 L393.00,646.40" stroke="#222" stroke-width="0.9" stroke-dasharray="2.6,1.8" fill="none"/>
<line x1="388.30" y1="594.50" x2="397.70" y2="594.50" stroke="#1a1a1a" stroke-width="1.0"/>
<line x1="388.30" y1="646.50" x2="397.70" y2="646.50" stroke="#1a1a1a" stroke-width="1.0"/>
<rect x="382.90" y="605.50" width="20.10" height="26.00" fill="#17508a" stroke="#111" stroke-width="0.8"/>
<line x1="382.90" y1="616.70" x2="403.00" y2="616.70" stroke="#111" stroke-width="1.4"/>
<text x="380.80" y="581.40" font-size="6.6" textLength="24.30" lengthAdjust="spacingAndGlyphs" fill="#333" stroke="#333" stroke-width="0.22">p = 0.02</text>
<text x="330.80" y="600.90" font-size="8.6" text-anchor="middle" textLength="27.00" lengthAdjust="spacingAndGlyphs" fill="#222" stroke="#222" stroke-width="0.22" transform="rotate(-90 330.80 600.90)">Entropy</text>
<text x="367.00" y="662.00" font-size="7.0" text-anchor="middle" textLength="14.00" lengthAdjust="spacingAndGlyphs" fill="#333" stroke="#333" stroke-width="0.22">≤6m</text>
<text x="392.40" y="662.00" font-size="7.0" text-anchor="middle" textLength="14.50" lengthAdjust="spacingAndGlyphs" fill="#333" stroke="#333" stroke-width="0.22">&gt;6m</text>
<line x1="463.50" y1="542.00" x2="463.50" y2="650.70" stroke="#111" stroke-width="1.0"/>
<line x1="460.50" y1="546.80" x2="463.50" y2="546.80" stroke="#111" stroke-width="0.95"/>
<text x="456.50" y="549.50" font-size="7.5" text-anchor="end" textLength="9.70" lengthAdjust="spacingAndGlyphs" fill="#333" stroke="#333" stroke-width="0.22">0.4</text>
<line x1="460.50" y1="571.30" x2="463.50" y2="571.30" stroke="#111" stroke-width="0.95"/>
<text x="456.50" y="574.00" font-size="7.5" text-anchor="end" textLength="9.70" lengthAdjust="spacingAndGlyphs" fill="#333" stroke="#333" stroke-width="0.22">0.3</text>
<line x1="460.50" y1="596.00" x2="463.50" y2="596.00" stroke="#111" stroke-width="0.95"/>
<text x="456.50" y="598.70" font-size="7.5" text-anchor="end" textLength="9.70" lengthAdjust="spacingAndGlyphs" fill="#333" stroke="#333" stroke-width="0.22">0.2</text>
<line x1="460.50" y1="620.50" x2="463.50" y2="620.50" stroke="#111" stroke-width="0.95"/>
<text x="456.50" y="623.20" font-size="7.5" text-anchor="end" textLength="9.70" lengthAdjust="spacingAndGlyphs" fill="#333" stroke="#333" stroke-width="0.22">0.1</text>
<line x1="460.50" y1="645.40" x2="463.50" y2="645.40" stroke="#111" stroke-width="0.95"/>
<text x="456.50" y="648.10" font-size="7.5" text-anchor="end" textLength="9.70" lengthAdjust="spacingAndGlyphs" fill="#333" stroke="#333" stroke-width="0.22">0.0</text>
<line x1="463.00" y1="650.20" x2="505.20" y2="650.20" stroke="#111" stroke-width="1.0"/>
<line x1="474.30" y1="650.20" x2="474.30" y2="653.20" stroke="#111" stroke-width="0.9"/>
<line x1="491.80" y1="650.20" x2="491.80" y2="653.20" stroke="#111" stroke-width="0.9"/>
<rect x="466.7" y="568.5" width="15.4" height="76.3" fill="#c8102e" stroke="#b50a28" stroke-width="0.5"/>
<rect x="484.1" y="585.2" width="15.6" height="59.6" fill="#17508a" stroke="#0f4478" stroke-width="0.5"/>
<text x="473.40" y="561.00" font-size="7.2" textLength="39.90" lengthAdjust="spacingAndGlyphs" fill="#222" stroke="#222" stroke-width="0.22">p &lt; 1e-200</text>
<text x="431.00" y="595.60" font-size="8.7" text-anchor="middle" textLength="97.50" lengthAdjust="spacingAndGlyphs" fill="#222" stroke="#222" stroke-width="0.22" transform="rotate(-90 431.00 595.60)">Fraction of cells co-expressed</text>
<text x="443.00" y="595.60" font-size="8.7" text-anchor="middle" textLength="77.00" lengthAdjust="spacingAndGlyphs" fill="#222" stroke="#222" stroke-width="0.22" transform="rotate(-90 443.00 595.60)">B- and M-lineage genes</text>
<text x="474.20" y="661.90" font-size="6.8" text-anchor="middle" textLength="13.50" lengthAdjust="spacingAndGlyphs" fill="#333" stroke="#333" stroke-width="0.22">≤6m</text>
<text x="492.00" y="661.90" font-size="6.8" text-anchor="middle" textLength="14.00" lengthAdjust="spacingAndGlyphs" fill="#333" stroke="#333" stroke-width="0.22">&gt;6m</text>
<rect x="0.55" y="0.55" width="518.9" height="667.9" fill="none" stroke="#000" stroke-width="1.1"/>
</svg>
</body></html>
